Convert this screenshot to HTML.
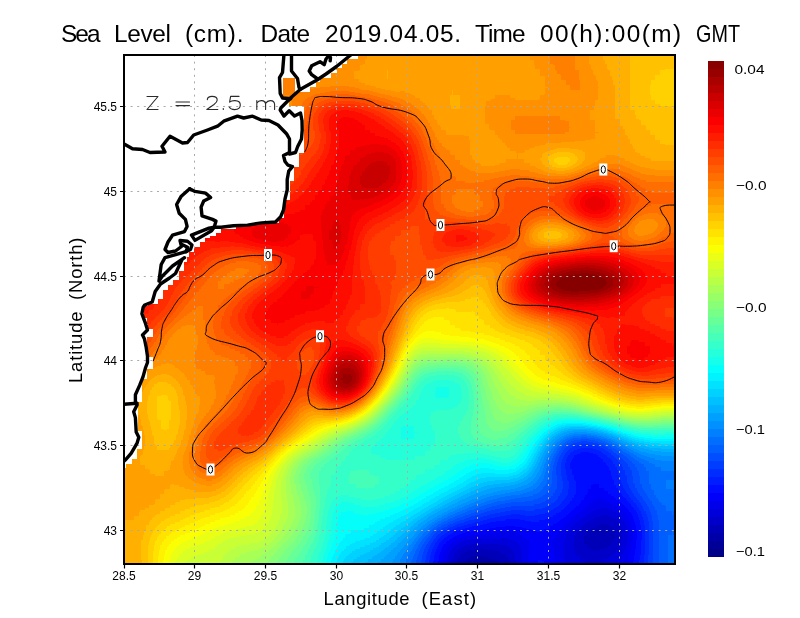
<!DOCTYPE html>
<html>
<head>
<meta charset="utf-8">
<title>Sea Level</title>
<style>
html,body{margin:0;padding:0;background:#fff;}
body{width:800px;height:618px;overflow:hidden;font-family:"Liberation Sans",sans-serif;}
svg{display:block;}
text{font-family:"Liberation Sans",sans-serif;fill:#000;}
.tick{font-size:12px;}
.cbl{font-size:13px;}
.ttl{font-size:24.4px;}
.axl{font-size:18.4px;}
</style>
</head>
<body>
<svg width="800" height="618" viewBox="0 0 800 618">
<defs>
<filter id="jet" filterUnits="userSpaceOnUse" x="100" y="30" width="600" height="560" color-interpolation-filters="sRGB">
<feGaussianBlur stdDeviation="3.5"/>
<feComponentTransfer>
<feFuncR type="discrete" tableValues="0 0 0 0 0 0 0 0 0 0 0 0 0 0 0 0 0 0 0 0 0 0 0 0.016 0.081 0.145 0.21 0.274 0.339 0.403 0.468 0.532 0.597 0.661 0.726 0.79 0.855 0.919 0.984 1 1 1 1 1 1 1 1 1 1 1 1 1 1 1 0.984 0.919 0.855 0.79 0.726 0.661 0.597 0.532"/>
<feFuncG type="discrete" tableValues="0 0 0 0 0 0 0 0 0.048 0.113 0.177 0.242 0.306 0.371 0.435 0.5 0.565 0.629 0.694 0.758 0.823 0.887 0.952 1 1 1 1 1 1 1 1 1 1 1 1 1 1 1 1 0.952 0.887 0.823 0.758 0.694 0.629 0.565 0.5 0.435 0.371 0.306 0.242 0.177 0.113 0.048 0 0 0 0 0 0 0 0"/>
<feFuncB type="discrete" tableValues="0.532 0.597 0.661 0.726 0.79 0.855 0.919 0.984 1 1 1 1 1 1 1 1 1 1 1 1 1 1 1 0.984 0.919 0.855 0.79 0.726 0.661 0.597 0.532 0.468 0.403 0.339 0.274 0.21 0.145 0.081 0.016 0 0 0 0 0 0 0 0 0 0 0 0 0 0 0 0 0 0 0 0 0 0 0"/>
</feComponentTransfer>
</filter>
<clipPath id="plot"><rect x="124" y="55" width="551" height="509"/></clipPath>
<linearGradient id="cb" x1="0" y1="0" x2="0" y2="1">
<stop offset="0" stop-color="#800000"/>
<stop offset="0.125" stop-color="#ff0000"/>
<stop offset="0.375" stop-color="#ffff00"/>
<stop offset="0.5" stop-color="#80ff80"/>
<stop offset="0.625" stop-color="#00ffff"/>
<stop offset="0.875" stop-color="#0000ff"/>
<stop offset="1" stop-color="#000080"/>
</linearGradient>
</defs>
<rect x="0" y="0" width="800" height="618" fill="#fff"/>
<g clip-path="url(#plot)">
<g filter="url(#jet)" shape-rendering="crispEdges">
<path fill="rgb(8,8,8)" d="M475 570h5v5h-5z"/>
<path fill="rgb(9,9,9)" d="M470 565h20v5h-20zM470 570h5v5h-5zM480 570h10v5h-10zM470 575h20v5h-20z"/>
<path fill="rgb(10,10,10)" d="M470 560h20v5h-20zM465 565h5v5h-5zM490 565h5v5h-5zM465 570h5v5h-5zM490 570h5v5h-5zM465 575h5v5h-5zM490 575h5v5h-5z"/>
<path fill="rgb(11,11,11)" d="M475 555h5v5h-5zM465 560h5v5h-5zM490 560h5v5h-5zM495 565h5v5h-5zM495 570h5v5h-5zM495 575h5v5h-5z"/>
<path fill="rgb(12,12,12)" d="M470 555h5v5h-5zM480 555h10v5h-10zM495 560h5v5h-5zM460 565h5v5h-5zM460 570h5v5h-5zM500 570h5v5h-5zM460 575h5v5h-5z"/>
<path fill="rgb(13,13,13)" d="M595 535h10v5h-10zM465 555h5v5h-5zM490 555h10v5h-10zM460 560h5v5h-5zM500 560h5v5h-5zM500 565h5v5h-5zM500 575h5v5h-5z"/>
<path fill="rgb(14,14,14)" d="M595 530h15v5h-15zM590 535h5v5h-5zM605 535h5v5h-5zM590 540h15v5h-15zM470 550h15v5h-15zM460 555h5v5h-5z"/>
<path fill="rgb(15,15,15)" d="M595 525h15v5h-15zM590 530h5v5h-5zM610 530h5v5h-5zM585 535h5v5h-5zM610 535h5v5h-5zM585 540h5v5h-5zM605 540h5v5h-5zM595 545h5v5h-5zM465 550h5v5h-5zM485 550h10v5h-10zM500 555h5v5h-5zM505 560h5v5h-5zM455 565h5v5h-5zM505 565h5v5h-5zM455 570h5v5h-5zM505 570h5v5h-5zM455 575h5v5h-5zM505 575h5v5h-5z"/>
<path fill="rgb(16,16,16)" d="M590 525h5v5h-5zM610 525h5v5h-5zM585 530h5v5h-5zM610 540h5v5h-5zM585 545h10v5h-10zM600 545h10v5h-10zM495 550h5v5h-5zM505 555h5v5h-5zM455 560h5v5h-5z"/>
<path fill="rgb(17,17,17)" d="M600 520h10v5h-10zM580 535h5v5h-5zM615 535h5v5h-5zM580 540h5v5h-5zM475 545h5v5h-5zM460 550h5v5h-5zM500 550h5v5h-5zM590 550h10v5h-10zM455 555h5v5h-5zM510 565h5v5h-5zM510 570h5v5h-5zM510 575h5v5h-5z"/>
<path fill="rgb(18,18,18)" d="M595 520h5v5h-5zM610 520h5v5h-5zM585 525h5v5h-5zM615 525h5v5h-5zM580 530h5v5h-5zM615 530h5v5h-5zM615 540h5v5h-5zM465 545h10v5h-10zM480 545h20v5h-20zM580 545h5v5h-5zM610 545h5v5h-5zM505 550h5v5h-5zM585 550h5v5h-5zM600 550h10v5h-10zM510 560h5v5h-5z"/>
<path fill="rgb(19,19,19)" d="M600 515h10v5h-10zM590 520h5v5h-5zM575 535h5v5h-5zM575 540h5v5h-5zM500 545h5v5h-5zM575 545h5v5h-5zM455 550h5v5h-5zM580 550h5v5h-5zM510 555h5v5h-5zM585 555h20v5h-20zM450 560h5v5h-5zM450 565h5v5h-5zM450 570h5v5h-5zM450 575h5v5h-5z"/>
<path fill="rgb(20,20,20)" d="M595 515h5v5h-5zM610 515h5v5h-5zM585 520h5v5h-5zM615 520h5v5h-5zM580 525h5v5h-5zM575 530h5v5h-5zM620 530h5v5h-5zM620 535h5v5h-5zM460 545h5v5h-5zM505 545h5v5h-5zM615 545h5v5h-5zM510 550h5v5h-5zM575 550h5v5h-5zM610 550h5v5h-5zM450 555h5v5h-5zM580 555h5v5h-5zM605 555h5v5h-5zM585 560h10v5h-10z"/>
<path fill="rgb(21,21,21)" d="M590 515h5v5h-5zM620 525h5v5h-5zM570 535h5v5h-5zM475 540h10v5h-10zM570 540h5v5h-5zM620 540h5v5h-5zM510 545h5v5h-5zM570 545h5v5h-5zM570 550h5v5h-5zM615 550h5v5h-5zM575 555h5v5h-5zM515 560h5v5h-5zM575 560h10v5h-10zM595 560h10v5h-10zM515 565h5v5h-5zM580 565h20v5h-20zM515 570h5v5h-5zM580 570h20v5h-20zM515 575h5v5h-5zM580 575h20v5h-20z"/>
<path fill="rgb(22,22,22)" d="M600 510h10v5h-10zM615 515h5v5h-5zM580 520h5v5h-5zM575 525h5v5h-5zM570 530h5v5h-5zM465 540h10v5h-10zM485 540h25v5h-25zM455 545h5v5h-5zM620 545h5v5h-5zM450 550h5v5h-5zM515 550h5v5h-5zM515 555h5v5h-5zM570 555h5v5h-5zM610 555h5v5h-5zM570 560h5v5h-5zM605 560h5v5h-5zM575 565h5v5h-5zM600 565h5v5h-5zM575 570h5v5h-5zM600 570h5v5h-5zM575 575h5v5h-5zM600 575h5v5h-5z"/>
<path fill="rgb(23,23,23)" d="M595 510h5v5h-5zM610 510h5v5h-5zM585 515h5v5h-5zM620 520h5v5h-5zM565 535h5v5h-5zM460 540h5v5h-5zM510 540h5v5h-5zM565 540h5v5h-5zM515 545h5v5h-5zM565 545h5v5h-5zM565 550h5v5h-5zM565 555h5v5h-5zM615 555h5v5h-5zM610 560h5v5h-5zM445 565h5v5h-5zM570 565h5v5h-5zM605 565h5v5h-5zM445 570h5v5h-5zM570 570h5v5h-5zM605 570h5v5h-5zM445 575h5v5h-5zM570 575h5v5h-5zM605 575h5v5h-5z"/>
<path fill="rgb(24,24,24)" d="M590 510h5v5h-5zM575 520h5v5h-5zM570 525h5v5h-5zM625 530h5v5h-5zM625 535h5v5h-5zM620 550h5v5h-5zM445 555h5v5h-5zM445 560h5v5h-5zM565 560h5v5h-5zM615 560h5v5h-5zM565 565h5v5h-5zM610 565h5v5h-5zM565 570h5v5h-5zM610 570h5v5h-5zM565 575h5v5h-5zM610 575h5v5h-5z"/>
<path fill="rgb(25,25,25)" d="M595 505h15v5h-15zM615 510h5v5h-5zM580 515h5v5h-5zM620 515h5v5h-5zM625 525h5v5h-5zM565 530h5v5h-5zM490 535h20v5h-20zM455 540h5v5h-5zM515 540h5v5h-5zM560 540h5v5h-5zM625 540h5v5h-5zM450 545h5v5h-5zM520 545h5v5h-5zM560 545h5v5h-5zM520 550h5v5h-5zM560 550h5v5h-5zM520 555h5v5h-5zM560 555h5v5h-5zM620 555h5v5h-5zM520 560h5v5h-5zM520 565h5v5h-5zM615 565h5v5h-5zM520 570h5v5h-5zM615 570h5v5h-5zM520 575h5v5h-5zM615 575h5v5h-5z"/>
<path fill="rgb(26,26,26)" d="M590 505h5v5h-5zM610 505h5v5h-5zM585 510h5v5h-5zM570 520h5v5h-5zM625 520h5v5h-5zM565 525h5v5h-5zM470 535h20v5h-20zM510 535h10v5h-10zM560 535h5v5h-5zM520 540h5v5h-5zM625 545h5v5h-5zM445 550h5v5h-5zM560 560h5v5h-5zM620 560h5v5h-5zM560 565h5v5h-5zM560 570h5v5h-5zM560 575h5v5h-5z"/>
<path fill="rgb(27,27,27)" d="M595 500h10v5h-10zM580 510h5v5h-5zM620 510h5v5h-5zM575 515h5v5h-5zM560 530h5v5h-5zM465 535h5v5h-5zM555 535h5v5h-5zM555 540h5v5h-5zM555 545h5v5h-5zM555 550h5v5h-5zM625 550h5v5h-5zM555 555h5v5h-5zM620 565h5v5h-5zM620 570h5v5h-5zM620 575h5v5h-5z"/>
<path fill="rgb(28,28,28)" d="M590 500h5v5h-5zM605 500h5v5h-5zM585 505h5v5h-5zM615 505h5v5h-5zM625 515h5v5h-5zM565 520h5v5h-5zM560 525h5v5h-5zM500 530h15v5h-15zM630 530h5v5h-5zM460 535h5v5h-5zM520 535h5v5h-5zM630 535h5v5h-5zM450 540h5v5h-5zM525 540h5v5h-5zM550 540h5v5h-5zM445 545h5v5h-5zM525 545h5v5h-5zM525 550h5v5h-5zM525 555h5v5h-5zM625 555h5v5h-5zM440 560h5v5h-5zM555 560h5v5h-5zM440 565h5v5h-5zM555 565h5v5h-5zM440 570h5v5h-5zM555 570h5v5h-5zM440 575h5v5h-5zM555 575h5v5h-5z"/>
<path fill="rgb(29,29,29)" d="M595 495h10v5h-10zM610 500h5v5h-5zM575 510h5v5h-5zM570 515h5v5h-5zM630 525h5v5h-5zM490 530h10v5h-10zM515 530h5v5h-5zM555 530h5v5h-5zM525 535h5v5h-5zM550 535h5v5h-5zM530 540h5v5h-5zM630 540h5v5h-5zM550 545h5v5h-5zM630 545h5v5h-5zM550 550h5v5h-5zM440 555h5v5h-5zM525 560h5v5h-5zM625 560h5v5h-5zM525 565h5v5h-5zM625 565h5v5h-5zM525 570h5v5h-5zM625 570h5v5h-5zM525 575h5v5h-5zM625 575h5v5h-5z"/>
<path fill="rgb(30,30,30)" d="M590 495h5v5h-5zM605 495h5v5h-5zM585 500h5v5h-5zM580 505h5v5h-5zM620 505h5v5h-5zM625 510h5v5h-5zM630 520h5v5h-5zM555 525h5v5h-5zM480 530h10v5h-10zM520 530h5v5h-5zM550 530h5v5h-5zM455 535h5v5h-5zM530 535h5v5h-5zM545 535h5v5h-5zM535 540h15v5h-15zM530 545h5v5h-5zM545 545h5v5h-5zM440 550h5v5h-5zM530 550h5v5h-5zM630 550h5v5h-5zM550 555h5v5h-5zM550 560h5v5h-5zM550 565h5v5h-5zM550 570h5v5h-5zM550 575h5v5h-5z"/>
<path fill="rgb(31,31,31)" d="M590 490h15v5h-15zM585 495h5v5h-5zM615 500h5v5h-5zM570 510h5v5h-5zM565 515h5v5h-5zM560 520h5v5h-5zM505 525h10v5h-10zM470 530h10v5h-10zM525 530h10v5h-10zM545 530h5v5h-5zM535 535h10v5h-10zM445 540h5v5h-5zM535 545h10v5h-10zM535 550h5v5h-5zM545 550h5v5h-5zM530 555h5v5h-5zM545 555h5v5h-5zM630 555h5v5h-5zM530 560h5v5h-5z"/>
<path fill="rgb(32,32,32)" d="M590 485h10v5h-10zM605 490h5v5h-5zM610 495h5v5h-5zM580 500h5v5h-5zM575 505h5v5h-5zM630 515h5v5h-5zM555 520h5v5h-5zM495 525h10v5h-10zM515 525h10v5h-10zM550 525h5v5h-5zM465 530h5v5h-5zM535 530h10v5h-10zM450 535h5v5h-5zM440 545h5v5h-5zM540 550h5v5h-5zM535 555h10v5h-10zM545 560h5v5h-5zM630 560h5v5h-5zM530 565h5v5h-5zM545 565h5v5h-5zM630 565h5v5h-5zM530 570h5v5h-5zM630 570h5v5h-5zM530 575h5v5h-5zM545 575h5v5h-5zM630 575h5v5h-5z"/>
<path fill="rgb(33,33,33)" d="M580 460h10v5h-10zM580 465h15v5h-15zM585 470h15v5h-15zM585 475h15v5h-15zM585 480h20v5h-20zM585 485h5v5h-5zM600 485h5v5h-5zM585 490h5v5h-5zM580 495h5v5h-5zM620 500h5v5h-5zM625 505h5v5h-5zM560 515h5v5h-5zM490 525h5v5h-5zM525 525h5v5h-5zM545 525h5v5h-5zM460 530h5v5h-5zM635 530h5v5h-5zM635 535h5v5h-5zM635 540h5v5h-5zM435 560h5v5h-5zM535 560h10v5h-10zM435 565h5v5h-5zM435 570h5v5h-5zM545 570h5v5h-5zM435 575h5v5h-5z"/>
<path fill="rgb(34,34,34)" d="M580 455h10v5h-10zM575 460h5v5h-5zM590 460h5v5h-5zM575 465h5v5h-5zM595 465h5v5h-5zM580 470h5v5h-5zM600 470h5v5h-5zM580 475h5v5h-5zM600 475h5v5h-5zM605 485h5v5h-5zM580 490h5v5h-5zM610 490h5v5h-5zM615 495h5v5h-5zM575 500h5v5h-5zM570 505h5v5h-5zM565 510h5v5h-5zM630 510h5v5h-5zM550 520h5v5h-5zM485 525h5v5h-5zM530 525h15v5h-15zM635 525h5v5h-5zM635 545h5v5h-5zM435 555h5v5h-5zM535 565h10v5h-10zM535 570h10v5h-10zM535 575h10v5h-10z"/>
<path fill="rgb(35,35,35)" d="M575 455h5v5h-5zM590 455h5v5h-5zM595 460h5v5h-5zM600 465h5v5h-5zM575 470h5v5h-5zM605 475h5v5h-5zM580 480h5v5h-5zM605 480h5v5h-5zM580 485h5v5h-5zM555 515h5v5h-5zM505 520h15v5h-15zM545 520h5v5h-5zM635 520h5v5h-5zM480 525h5v5h-5zM455 530h5v5h-5zM445 535h5v5h-5zM440 540h5v5h-5zM435 550h5v5h-5zM635 550h5v5h-5zM635 555h5v5h-5z"/>
<path fill="rgb(36,36,36)" d="M585 450h5v5h-5zM595 455h5v5h-5zM570 460h5v5h-5zM600 460h5v5h-5zM570 465h5v5h-5zM605 470h5v5h-5zM575 475h5v5h-5zM610 485h5v5h-5zM615 490h5v5h-5zM575 495h5v5h-5zM620 495h5v5h-5zM570 500h5v5h-5zM565 505h5v5h-5zM560 510h5v5h-5zM635 515h5v5h-5zM495 520h10v5h-10zM520 520h10v5h-10zM540 520h5v5h-5zM470 525h10v5h-10zM635 560h5v5h-5zM635 565h5v5h-5zM635 570h5v5h-5zM635 575h5v5h-5z"/>
<path fill="rgb(37,37,37)" d="M580 450h5v5h-5zM590 450h5v5h-5zM570 455h5v5h-5zM605 465h5v5h-5zM570 470h5v5h-5zM575 480h5v5h-5zM610 480h5v5h-5zM575 485h5v5h-5zM575 490h5v5h-5zM625 500h5v5h-5zM630 505h5v5h-5zM550 515h5v5h-5zM490 520h5v5h-5zM530 520h10v5h-10zM435 545h5v5h-5z"/>
<path fill="rgb(38,38,38)" d="M575 450h5v5h-5zM600 455h5v5h-5zM605 460h5v5h-5zM610 470h5v5h-5zM570 475h5v5h-5zM610 475h5v5h-5zM615 485h5v5h-5zM570 495h5v5h-5zM555 510h5v5h-5zM635 510h5v5h-5zM545 515h5v5h-5zM485 520h5v5h-5zM465 525h5v5h-5zM450 530h5v5h-5zM640 530h5v5h-5zM640 535h5v5h-5zM430 560h5v5h-5zM430 565h5v5h-5zM430 570h5v5h-5zM430 575h5v5h-5z"/>
<path fill="rgb(39,39,39)" d="M595 450h5v5h-5zM565 460h5v5h-5zM565 465h5v5h-5zM610 465h5v5h-5zM570 480h5v5h-5zM615 480h5v5h-5zM570 490h5v5h-5zM620 490h5v5h-5zM565 500h5v5h-5zM560 505h5v5h-5zM505 515h20v5h-20zM540 515h5v5h-5zM460 525h5v5h-5zM640 525h5v5h-5zM440 535h5v5h-5zM435 540h5v5h-5zM640 540h5v5h-5zM640 545h5v5h-5zM640 550h5v5h-5zM430 555h5v5h-5z"/>
<path fill="rgb(40,40,40)" d="M570 450h5v5h-5zM565 470h5v5h-5zM615 475h5v5h-5zM570 485h5v5h-5zM625 495h5v5h-5zM630 500h5v5h-5zM550 510h5v5h-5zM500 515h5v5h-5zM525 515h15v5h-15zM480 520h5v5h-5zM640 520h5v5h-5zM430 550h5v5h-5zM640 555h5v5h-5zM640 560h5v5h-5zM640 565h5v5h-5zM640 570h5v5h-5zM640 575h5v5h-5z"/>
<path fill="rgb(41,41,41)" d="M580 445h15v5h-15zM600 450h5v5h-5zM565 455h5v5h-5zM605 455h5v5h-5zM610 460h5v5h-5zM615 470h5v5h-5zM565 475h5v5h-5zM620 485h5v5h-5zM565 495h5v5h-5zM560 500h5v5h-5zM555 505h5v5h-5zM635 505h5v5h-5zM545 510h5v5h-5zM495 515h5v5h-5zM640 515h5v5h-5zM475 520h5v5h-5zM455 525h5v5h-5zM445 530h5v5h-5z"/>
<path fill="rgb(42,42,42)" d="M575 445h5v5h-5zM615 465h5v5h-5zM565 480h5v5h-5zM620 480h5v5h-5zM565 490h5v5h-5zM625 490h5v5h-5zM490 515h5v5h-5zM470 520h5v5h-5zM430 545h5v5h-5zM425 565h5v5h-5zM425 570h5v5h-5zM425 575h5v5h-5z"/>
<path fill="rgb(43,43,43)" d="M595 445h5v5h-5zM565 450h5v5h-5zM610 455h5v5h-5zM560 460h5v5h-5zM560 465h5v5h-5zM620 475h5v5h-5zM565 485h5v5h-5zM560 495h5v5h-5zM630 495h5v5h-5zM550 505h5v5h-5zM510 510h15v5h-15zM535 510h10v5h-10zM640 510h5v5h-5zM485 515h5v5h-5zM435 535h5v5h-5zM425 560h5v5h-5z"/>
<path fill="rgb(44,44,44)" d="M570 445h5v5h-5zM605 450h5v5h-5zM615 460h5v5h-5zM560 470h5v5h-5zM620 470h5v5h-5zM625 485h5v5h-5zM555 500h5v5h-5zM635 500h5v5h-5zM505 510h5v5h-5zM525 510h10v5h-10zM465 520h5v5h-5zM645 520h5v5h-5zM450 525h5v5h-5zM645 525h5v5h-5zM440 530h5v5h-5zM645 530h5v5h-5zM645 535h5v5h-5zM645 540h5v5h-5zM645 545h5v5h-5zM645 550h5v5h-5zM425 555h5v5h-5z"/>
<path fill="rgb(45,45,45)" d="M560 455h5v5h-5zM620 465h5v5h-5zM560 475h5v5h-5zM560 490h5v5h-5zM545 505h5v5h-5zM640 505h5v5h-5zM500 510h5v5h-5zM480 515h5v5h-5zM645 515h5v5h-5zM430 540h5v5h-5zM425 550h5v5h-5zM645 555h5v5h-5zM645 560h5v5h-5zM645 565h5v5h-5zM645 570h5v5h-5zM645 575h5v5h-5z"/>
<path fill="rgb(46,46,46)" d="M600 445h5v5h-5zM625 475h5v5h-5zM560 480h5v5h-5zM625 480h5v5h-5zM560 485h5v5h-5zM630 490h5v5h-5zM555 495h5v5h-5zM550 500h5v5h-5zM540 505h5v5h-5zM495 510h5v5h-5zM475 515h5v5h-5zM460 520h5v5h-5z"/>
<path fill="rgb(47,47,47)" d="M580 440h10v5h-10zM610 450h5v5h-5zM615 455h5v5h-5zM620 460h5v5h-5zM625 470h5v5h-5zM635 495h5v5h-5zM640 500h5v5h-5zM535 505h5v5h-5zM490 510h5v5h-5zM645 510h5v5h-5zM445 525h5v5h-5zM425 545h5v5h-5zM420 565h5v5h-5zM420 570h5v5h-5zM420 575h5v5h-5z"/>
<path fill="rgb(48,48,48)" d="M575 440h5v5h-5zM590 440h5v5h-5zM565 445h5v5h-5zM560 450h5v5h-5zM555 465h5v5h-5zM625 465h5v5h-5zM555 470h5v5h-5zM630 485h5v5h-5zM555 490h5v5h-5zM545 500h5v5h-5zM510 505h25v5h-25zM485 510h5v5h-5zM470 515h5v5h-5zM455 520h5v5h-5zM435 530h5v5h-5zM430 535h5v5h-5zM420 560h5v5h-5z"/>
<path fill="rgb(49,49,49)" d="M605 445h5v5h-5zM555 460h5v5h-5zM555 475h5v5h-5zM630 475h5v5h-5zM555 480h5v5h-5zM630 480h5v5h-5zM555 485h5v5h-5zM635 490h5v5h-5zM550 495h5v5h-5zM540 500h5v5h-5zM505 505h5v5h-5zM645 505h5v5h-5zM650 520h5v5h-5zM650 525h5v5h-5zM650 530h5v5h-5zM650 535h5v5h-5zM650 540h5v5h-5zM650 545h5v5h-5zM650 550h5v5h-5zM420 555h5v5h-5zM650 555h5v5h-5zM650 560h5v5h-5zM650 565h5v5h-5zM650 570h5v5h-5zM650 575h5v5h-5z"/>
<path fill="rgb(50,50,50)" d="M570 440h5v5h-5zM595 440h5v5h-5zM620 455h5v5h-5zM625 460h5v5h-5zM630 470h5v5h-5zM640 495h5v5h-5zM500 505h5v5h-5zM480 510h5v5h-5zM465 515h5v5h-5zM650 515h5v5h-5zM440 525h5v5h-5zM425 540h5v5h-5zM420 550h5v5h-5z"/>
<path fill="rgb(51,51,51)" d="M615 450h5v5h-5zM555 455h5v5h-5zM630 465h5v5h-5zM635 485h5v5h-5zM550 490h5v5h-5zM545 495h5v5h-5zM535 500h5v5h-5zM645 500h5v5h-5zM495 505h5v5h-5zM650 510h5v5h-5zM450 520h5v5h-5zM415 565h5v5h-5zM415 570h5v5h-5zM415 575h5v5h-5z"/>
<path fill="rgb(52,52,52)" d="M635 475h5v5h-5zM635 480h5v5h-5zM550 485h5v5h-5zM640 490h5v5h-5zM525 500h10v5h-10zM490 505h5v5h-5zM650 505h5v5h-5zM475 510h5v5h-5zM460 515h5v5h-5zM420 545h5v5h-5zM415 560h5v5h-5z"/>
<path fill="rgb(53,53,53)" d="M600 440h5v5h-5zM560 445h5v5h-5zM610 445h5v5h-5zM630 460h5v5h-5zM550 470h5v5h-5zM635 470h5v5h-5zM550 475h5v5h-5zM550 480h5v5h-5zM545 490h5v5h-5zM540 495h5v5h-5zM645 495h5v5h-5zM510 500h15v5h-15zM655 515h5v5h-5zM655 520h5v5h-5zM655 525h5v5h-5zM430 530h5v5h-5zM655 530h5v5h-5zM655 535h5v5h-5zM655 540h5v5h-5zM655 545h5v5h-5zM655 550h5v5h-5zM415 555h5v5h-5zM655 555h5v5h-5zM655 560h5v5h-5zM655 565h5v5h-5zM655 570h5v5h-5zM655 575h5v5h-5z"/>
<path fill="rgb(54,54,54)" d="M565 440h5v5h-5zM555 450h5v5h-5zM625 455h5v5h-5zM550 465h5v5h-5zM635 465h5v5h-5zM640 485h5v5h-5zM535 495h5v5h-5zM505 500h5v5h-5zM650 500h5v5h-5zM485 505h5v5h-5zM470 510h5v5h-5zM655 510h5v5h-5zM445 520h5v5h-5zM435 525h5v5h-5zM425 535h5v5h-5z"/>
<path fill="rgb(55,55,55)" d="M620 450h5v5h-5zM550 460h5v5h-5zM640 470h5v5h-5zM640 475h5v5h-5zM640 480h5v5h-5zM545 485h5v5h-5zM645 490h5v5h-5zM500 500h5v5h-5zM655 505h5v5h-5zM455 515h5v5h-5zM660 520h5v5h-5zM685 520h5v5h-5zM420 540h5v5h-5zM415 550h5v5h-5zM410 565h5v5h-5zM410 570h5v5h-5zM410 575h5v5h-5z"/>
<path fill="rgb(56,56,56)" d="M580 435h10v5h-10zM635 460h5v5h-5zM640 465h5v5h-5zM645 485h5v5h-5zM540 490h5v5h-5zM530 495h5v5h-5zM650 495h5v5h-5zM495 500h5v5h-5zM480 505h5v5h-5zM465 510h5v5h-5zM660 510h5v5h-5zM685 510h5v5h-5zM660 515h5v5h-5zM680 515h10v5h-10zM680 520h5v5h-5zM660 525h5v5h-5zM680 525h10v5h-10zM660 530h5v5h-5zM685 530h5v5h-5zM660 535h5v5h-5zM685 535h5v5h-5zM660 540h5v5h-5zM685 540h5v5h-5zM660 545h5v5h-5zM685 545h5v5h-5zM660 550h5v5h-5zM685 550h5v5h-5zM660 555h5v5h-5zM685 555h5v5h-5zM410 560h5v5h-5zM660 560h5v5h-5zM685 560h5v5h-5zM660 565h5v5h-5zM685 565h5v5h-5zM660 570h5v5h-5zM685 570h5v5h-5zM660 575h5v5h-5zM685 575h5v5h-5z"/>
<path fill="rgb(57,57,57)" d="M575 435h5v5h-5zM605 440h5v5h-5zM615 445h5v5h-5zM550 455h5v5h-5zM630 455h5v5h-5zM645 470h5v5h-5zM645 475h5v5h-5zM545 480h5v5h-5zM645 480h5v5h-5zM650 490h5v5h-5zM520 495h10v5h-10zM655 500h5v5h-5zM660 505h5v5h-5zM685 505h5v5h-5zM665 510h5v5h-5zM675 510h10v5h-10zM665 515h15v5h-15zM440 520h5v5h-5zM665 520h15v5h-15zM665 525h15v5h-15zM665 530h5v5h-5zM675 530h10v5h-10zM680 535h5v5h-5zM680 540h5v5h-5zM415 545h5v5h-5zM680 545h5v5h-5zM680 550h5v5h-5zM680 555h5v5h-5zM680 560h5v5h-5zM680 565h5v5h-5zM680 570h5v5h-5zM680 575h5v5h-5z"/>
<path fill="rgb(58,58,58)" d="M590 435h5v5h-5zM640 460h5v5h-5zM645 465h5v5h-5zM545 475h5v5h-5zM540 485h5v5h-5zM650 485h5v5h-5zM535 490h5v5h-5zM515 495h5v5h-5zM655 495h5v5h-5zM490 500h5v5h-5zM660 500h5v5h-5zM685 500h5v5h-5zM475 505h5v5h-5zM665 505h20v5h-20zM670 510h5v5h-5zM450 515h5v5h-5zM425 530h5v5h-5zM670 530h5v5h-5zM665 535h15v5h-15zM665 540h15v5h-15zM665 545h15v5h-15zM665 550h15v5h-15zM410 555h5v5h-5zM665 555h15v5h-15zM665 560h15v5h-15zM665 565h15v5h-15zM665 570h15v5h-15zM665 575h15v5h-15z"/>
<path fill="rgb(59,59,59)" d="M570 435h5v5h-5zM560 440h5v5h-5zM555 445h5v5h-5zM625 450h5v5h-5zM545 470h5v5h-5zM650 470h5v5h-5zM650 475h5v5h-5zM650 480h5v5h-5zM655 490h5v5h-5zM510 495h5v5h-5zM665 500h20v5h-20zM460 510h5v5h-5zM430 525h5v5h-5zM420 535h5v5h-5zM405 565h5v5h-5zM405 570h5v5h-5zM405 575h5v5h-5z"/>
<path fill="rgb(60,60,60)" d="M595 435h5v5h-5zM635 455h5v5h-5zM645 460h5v5h-5zM545 465h5v5h-5zM650 465h5v5h-5zM655 470h5v5h-5zM655 475h5v5h-5zM655 480h5v5h-5zM655 485h5v5h-5zM530 490h5v5h-5zM505 495h5v5h-5zM660 495h10v5h-10zM675 495h15v5h-15zM485 500h5v5h-5zM470 505h5v5h-5zM410 550h5v5h-5zM405 560h5v5h-5z"/>
<path fill="rgb(61,61,61)" d="M610 440h5v5h-5zM550 450h5v5h-5zM655 465h5v5h-5zM660 470h30v5h-30zM660 475h30v5h-30zM540 480h5v5h-5zM660 480h5v5h-5zM680 480h10v5h-10zM535 485h5v5h-5zM660 485h5v5h-5zM680 485h10v5h-10zM525 490h5v5h-5zM660 490h30v5h-30zM500 495h5v5h-5zM670 495h5v5h-5zM455 510h5v5h-5zM445 515h5v5h-5zM435 520h5v5h-5zM415 540h5v5h-5zM405 555h5v5h-5z"/>
<path fill="rgb(62,62,62)" d="M565 435h5v5h-5zM620 445h5v5h-5zM630 450h5v5h-5zM640 455h5v5h-5zM545 460h5v5h-5zM650 460h5v5h-5zM660 465h30v5h-30zM665 480h15v5h-15zM665 485h15v5h-15zM495 495h5v5h-5zM480 500h5v5h-5zM465 505h5v5h-5zM410 545h5v5h-5zM400 570h5v5h-5z"/>
<path fill="rgb(63,63,63)" d="M600 435h5v5h-5zM655 460h5v5h-5zM540 475h5v5h-5zM520 490h5v5h-5zM420 530h5v5h-5zM400 560h5v5h-5zM400 565h5v5h-5zM400 575h5v5h-5z"/>
<path fill="rgb(64,64,64)" d="M645 455h5v5h-5zM660 460h30v5h-30zM535 480h5v5h-5zM530 485h5v5h-5zM515 490h5v5h-5zM490 495h5v5h-5zM475 500h5v5h-5zM450 510h5v5h-5zM440 515h5v5h-5zM425 525h5v5h-5zM415 535h5v5h-5zM405 550h5v5h-5z"/>
<path fill="rgb(65,65,65)" d="M555 440h5v5h-5zM615 440h5v5h-5zM545 455h5v5h-5zM540 470h5v5h-5zM510 490h5v5h-5zM485 495h5v5h-5zM460 505h5v5h-5zM430 520h5v5h-5zM410 540h5v5h-5zM400 555h5v5h-5zM395 570h5v5h-5z"/>
<path fill="rgb(66,66,66)" d="M560 435h5v5h-5zM550 445h5v5h-5zM625 445h5v5h-5zM635 450h5v5h-5zM650 455h5v5h-5zM525 485h5v5h-5zM505 490h5v5h-5zM470 500h5v5h-5zM405 545h5v5h-5zM395 560h5v5h-5zM395 565h5v5h-5zM395 575h5v5h-5z"/>
<path fill="rgb(67,67,67)" d="M605 435h5v5h-5zM655 455h5v5h-5zM540 465h5v5h-5zM535 475h5v5h-5zM500 490h5v5h-5zM480 495h5v5h-5zM445 510h5v5h-5zM400 550h5v5h-5z"/>
<path fill="rgb(68,68,68)" d="M575 430h15v5h-15zM545 450h5v5h-5zM640 450h5v5h-5zM660 455h30v5h-30zM530 480h5v5h-5zM520 485h5v5h-5zM495 490h5v5h-5zM455 505h5v5h-5zM435 515h5v5h-5zM420 525h5v5h-5zM415 530h5v5h-5zM395 555h5v5h-5zM390 565h5v5h-5zM390 570h5v5h-5zM390 575h5v5h-5z"/>
<path fill="rgb(69,69,69)" d="M570 430h5v5h-5zM630 445h5v5h-5zM540 460h5v5h-5zM465 500h5v5h-5zM425 520h5v5h-5zM410 535h5v5h-5zM405 540h5v5h-5zM390 560h5v5h-5z"/>
<path fill="rgb(70,70,70)" d="M590 430h5v5h-5zM620 440h5v5h-5zM645 450h5v5h-5zM535 470h5v5h-5zM515 485h5v5h-5zM490 490h5v5h-5zM475 495h5v5h-5zM400 545h5v5h-5zM395 550h5v5h-5zM385 570h5v5h-5z"/>
<path fill="rgb(71,71,71)" d="M610 435h5v5h-5zM550 440h5v5h-5zM650 450h5v5h-5zM525 480h5v5h-5zM510 485h5v5h-5zM485 490h5v5h-5zM460 500h5v5h-5zM450 505h5v5h-5zM440 510h5v5h-5zM430 515h5v5h-5zM390 555h5v5h-5zM385 560h5v5h-5zM385 565h5v5h-5zM385 575h5v5h-5z"/>
<path fill="rgb(72,72,72)" d="M565 430h5v5h-5zM555 435h5v5h-5zM655 450h5v5h-5zM540 455h5v5h-5zM530 475h5v5h-5zM470 495h5v5h-5zM380 565h5v5h-5zM380 570h5v5h-5zM380 575h5v5h-5z"/>
<path fill="rgb(73,73,73)" d="M595 430h5v5h-5zM545 445h5v5h-5zM635 445h5v5h-5zM660 450h10v5h-10zM675 450h15v5h-15zM535 465h5v5h-5zM500 485h10v5h-10zM480 490h5v5h-5zM415 525h5v5h-5zM410 530h5v5h-5zM405 535h5v5h-5zM400 540h5v5h-5zM395 545h5v5h-5zM390 550h5v5h-5zM385 555h5v5h-5zM380 560h5v5h-5z"/>
<path fill="rgb(74,74,74)" d="M625 440h5v5h-5zM670 450h5v5h-5zM520 480h5v5h-5zM495 485h5v5h-5zM465 495h5v5h-5zM455 500h5v5h-5zM445 505h5v5h-5zM435 510h5v5h-5zM420 520h5v5h-5zM375 565h5v5h-5zM375 570h5v5h-5zM375 575h5v5h-5z"/>
<path fill="rgb(75,75,75)" d="M560 430h5v5h-5zM640 445h5v5h-5zM490 485h5v5h-5zM475 490h5v5h-5zM425 515h5v5h-5zM385 550h5v5h-5zM380 555h5v5h-5zM375 560h5v5h-5zM370 565h5v5h-5zM370 570h5v5h-5zM370 575h5v5h-5z"/>
<path fill="rgb(76,76,76)" d="M600 430h5v5h-5zM615 435h5v5h-5zM540 450h5v5h-5zM530 470h5v5h-5zM525 475h5v5h-5zM515 480h5v5h-5zM485 485h5v5h-5zM400 535h5v5h-5zM395 540h5v5h-5zM390 545h5v5h-5zM370 560h5v5h-5zM365 570h5v5h-5z"/>
<path fill="rgb(77,77,77)" d="M645 445h5v5h-5zM535 460h5v5h-5zM470 490h5v5h-5zM460 495h5v5h-5zM450 500h5v5h-5zM440 505h5v5h-5zM430 510h5v5h-5zM415 520h5v5h-5zM410 525h5v5h-5zM405 530h5v5h-5zM375 555h5v5h-5zM365 565h5v5h-5zM365 575h5v5h-5z"/>
<path fill="rgb(78,78,78)" d="M550 435h5v5h-5zM545 440h5v5h-5zM630 440h5v5h-5zM510 480h5v5h-5zM480 485h5v5h-5zM385 545h5v5h-5zM380 550h5v5h-5zM370 555h5v5h-5zM365 560h5v5h-5zM360 565h5v5h-5zM360 570h5v5h-5zM360 575h5v5h-5z"/>
<path fill="rgb(79,79,79)" d="M650 445h10v5h-10zM505 480h5v5h-5zM455 495h5v5h-5zM445 500h5v5h-5zM420 515h5v5h-5zM395 535h5v5h-5zM390 540h5v5h-5zM375 550h5v5h-5zM360 560h5v5h-5zM355 565h5v5h-5zM355 570h5v5h-5zM355 575h5v5h-5z"/>
<path fill="rgb(80,80,80)" d="M555 430h5v5h-5zM605 430h5v5h-5zM660 445h30v5h-30zM535 455h5v5h-5zM530 465h5v5h-5zM520 475h5v5h-5zM495 480h10v5h-10zM475 485h5v5h-5zM465 490h5v5h-5zM435 505h5v5h-5zM405 525h5v5h-5zM400 530h5v5h-5zM380 545h5v5h-5zM365 555h5v5h-5zM355 560h5v5h-5z"/>
<path fill="rgb(81,81,81)" d="M570 425h10v5h-10zM620 435h5v5h-5zM635 440h5v5h-5zM540 445h5v5h-5zM525 470h5v5h-5zM485 480h10v5h-10zM425 510h5v5h-5zM410 520h5v5h-5zM385 540h5v5h-5zM370 550h5v5h-5zM360 555h5v5h-5zM350 565h5v5h-5zM350 570h5v5h-5zM350 575h5v5h-5z"/>
<path fill="rgb(82,82,82)" d="M580 425h5v5h-5zM470 485h5v5h-5zM460 490h5v5h-5zM450 495h5v5h-5zM440 500h5v5h-5zM415 515h5v5h-5zM395 530h5v5h-5zM390 535h5v5h-5zM375 545h5v5h-5zM365 550h5v5h-5zM355 555h5v5h-5zM350 560h5v5h-5z"/>
<path fill="rgb(83,83,83)" d="M565 425h5v5h-5zM585 425h5v5h-5zM530 460h5v5h-5zM515 475h5v5h-5zM480 480h5v5h-5zM430 505h5v5h-5zM400 525h5v5h-5zM380 540h5v5h-5zM345 565h5v5h-5zM345 570h5v5h-5zM345 575h5v5h-5z"/>
<path fill="rgb(84,84,84)" d="M610 430h5v5h-5zM545 435h5v5h-5zM640 440h5v5h-5zM535 450h5v5h-5zM475 480h5v5h-5zM465 485h5v5h-5zM455 490h5v5h-5zM445 495h5v5h-5zM420 510h5v5h-5zM405 520h5v5h-5zM385 535h5v5h-5zM370 545h5v5h-5zM360 550h5v5h-5zM350 555h5v5h-5zM345 560h5v5h-5z"/>
<path fill="rgb(85,85,85)" d="M560 425h5v5h-5zM590 425h5v5h-5zM550 430h5v5h-5zM625 435h5v5h-5zM540 440h5v5h-5zM520 470h5v5h-5zM510 475h5v5h-5zM435 500h5v5h-5zM410 515h5v5h-5zM395 525h5v5h-5zM390 530h5v5h-5zM375 540h5v5h-5zM365 545h5v5h-5zM355 550h5v5h-5zM345 555h5v5h-5zM340 570h5v5h-5z"/>
<path fill="rgb(86,86,86)" d="M645 440h5v5h-5zM525 465h5v5h-5zM485 475h25v5h-25zM470 480h5v5h-5zM425 505h5v5h-5zM400 520h5v5h-5zM380 535h5v5h-5zM360 545h5v5h-5zM350 550h5v5h-5zM340 560h5v5h-5zM340 565h5v5h-5zM340 575h5v5h-5z"/>
<path fill="rgb(87,87,87)" d="M650 440h5v5h-5zM530 455h5v5h-5zM480 475h5v5h-5zM460 485h5v5h-5zM450 490h5v5h-5zM440 495h5v5h-5zM415 510h5v5h-5zM390 525h5v5h-5zM385 530h5v5h-5zM370 540h5v5h-5zM355 545h5v5h-5z"/>
<path fill="rgb(88,88,88)" d="M595 425h5v5h-5zM655 440h35v5h-35zM535 445h5v5h-5zM475 475h5v5h-5zM465 480h5v5h-5zM430 500h5v5h-5zM420 505h5v5h-5zM405 515h5v5h-5zM395 520h5v5h-5zM375 535h5v5h-5zM365 540h5v5h-5zM350 545h5v5h-5zM345 550h5v5h-5zM340 555h5v5h-5zM335 570h5v5h-5z"/>
<path fill="rgb(89,89,89)" d="M555 425h5v5h-5zM615 430h5v5h-5zM630 435h5v5h-5zM515 470h5v5h-5zM455 485h5v5h-5zM445 490h5v5h-5zM435 495h5v5h-5zM410 510h5v5h-5zM385 525h5v5h-5zM380 530h5v5h-5zM360 540h5v5h-5zM335 560h5v5h-5zM335 565h5v5h-5zM335 575h5v5h-5z"/>
<path fill="rgb(90,90,90)" d="M525 460h5v5h-5zM470 475h5v5h-5zM425 500h5v5h-5zM400 515h5v5h-5zM390 520h5v5h-5zM375 530h5v5h-5zM370 535h5v5h-5zM355 540h5v5h-5zM345 545h5v5h-5zM340 550h5v5h-5z"/>
<path fill="rgb(91,91,91)" d="M600 425h5v5h-5zM545 430h5v5h-5zM540 435h5v5h-5zM530 450h5v5h-5zM520 465h5v5h-5zM480 470h15v5h-15zM510 470h5v5h-5zM460 480h5v5h-5zM450 485h5v5h-5zM440 490h5v5h-5zM415 505h5v5h-5zM405 510h5v5h-5zM395 515h5v5h-5zM380 525h5v5h-5zM365 535h5v5h-5zM350 540h5v5h-5zM335 555h5v5h-5z"/>
<path fill="rgb(92,92,92)" d="M635 435h5v5h-5zM535 440h5v5h-5zM475 470h5v5h-5zM495 470h15v5h-15zM465 475h5v5h-5zM430 495h5v5h-5zM420 500h5v5h-5zM385 520h5v5h-5zM375 525h5v5h-5zM370 530h5v5h-5zM355 535h10v5h-10zM345 540h5v5h-5zM340 545h5v5h-5zM335 550h5v5h-5zM330 565h5v5h-5zM330 570h5v5h-5zM330 575h5v5h-5z"/>
<path fill="rgb(93,93,93)" d="M550 425h5v5h-5zM620 430h5v5h-5zM470 470h5v5h-5zM455 480h5v5h-5zM445 485h5v5h-5zM435 490h5v5h-5zM410 505h5v5h-5zM400 510h5v5h-5zM390 515h5v5h-5zM380 520h5v5h-5zM365 530h5v5h-5zM350 535h5v5h-5zM340 540h5v5h-5zM330 560h5v5h-5z"/>
<path fill="rgb(94,94,94)" d="M570 420h5v5h-5zM640 435h5v5h-5zM530 445h5v5h-5zM525 455h5v5h-5zM515 465h5v5h-5zM460 475h5v5h-5zM425 495h5v5h-5zM385 515h5v5h-5zM375 520h5v5h-5zM370 525h5v5h-5zM350 530h15v5h-15zM345 535h5v5h-5zM335 545h5v5h-5zM330 555h5v5h-5z"/>
<path fill="rgb(95,95,95)" d="M565 420h5v5h-5zM575 420h5v5h-5zM605 425h5v5h-5zM645 435h5v5h-5zM520 460h5v5h-5zM475 465h15v5h-15zM465 470h5v5h-5zM450 480h5v5h-5zM440 485h5v5h-5zM430 490h5v5h-5zM415 500h5v5h-5zM405 505h5v5h-5zM395 510h5v5h-5zM380 515h5v5h-5zM345 520h5v5h-5zM370 520h5v5h-5zM345 525h25v5h-25zM345 530h5v5h-5zM340 535h5v5h-5z"/>
<path fill="rgb(96,96,96)" d="M560 420h5v5h-5zM580 420h5v5h-5zM540 430h5v5h-5zM650 435h5v5h-5zM490 465h5v5h-5zM455 475h5v5h-5zM420 495h5v5h-5zM400 505h5v5h-5zM390 510h5v5h-5zM345 515h10v5h-10zM375 515h5v5h-5zM340 520h5v5h-5zM350 520h20v5h-20zM340 525h5v5h-5zM340 530h5v5h-5zM335 540h5v5h-5zM330 550h5v5h-5zM325 570h5v5h-5z"/>
<path fill="rgb(97,97,97)" d="M625 430h5v5h-5zM535 435h5v5h-5zM655 435h35v5h-35zM525 450h5v5h-5zM470 465h5v5h-5zM495 465h5v5h-5zM510 465h5v5h-5zM460 470h5v5h-5zM445 480h5v5h-5zM435 485h5v5h-5zM425 490h5v5h-5zM410 500h5v5h-5zM385 510h5v5h-5zM340 515h5v5h-5zM355 515h5v5h-5zM370 515h5v5h-5zM335 535h5v5h-5zM330 545h5v5h-5zM325 560h5v5h-5zM325 565h5v5h-5zM325 575h5v5h-5z"/>
<path fill="rgb(98,98,98)" d="M555 420h5v5h-5zM585 420h5v5h-5zM545 425h5v5h-5zM530 440h5v5h-5zM465 465h5v5h-5zM500 465h10v5h-10zM450 475h5v5h-5zM440 480h5v5h-5zM415 495h5v5h-5zM405 500h5v5h-5zM395 505h5v5h-5zM340 510h15v5h-15zM380 510h5v5h-5zM335 515h5v5h-5zM360 515h10v5h-10zM335 520h5v5h-5zM335 525h5v5h-5zM335 530h5v5h-5zM325 555h5v5h-5z"/>
<path fill="rgb(99,99,99)" d="M610 425h5v5h-5zM520 455h5v5h-5zM475 460h15v5h-15zM515 460h5v5h-5zM460 465h5v5h-5zM455 470h5v5h-5zM430 485h5v5h-5zM420 490h5v5h-5zM390 505h5v5h-5zM335 510h5v5h-5zM355 510h10v5h-10zM370 510h10v5h-10zM330 540h5v5h-5z"/>
<path fill="rgb(100,100,100)" d="M525 445h5v5h-5zM470 460h5v5h-5zM490 460h5v5h-5zM450 470h5v5h-5zM445 475h5v5h-5zM435 480h5v5h-5zM425 485h5v5h-5zM410 495h5v5h-5zM400 500h5v5h-5zM340 505h15v5h-15zM385 505h5v5h-5zM365 510h5v5h-5zM330 535h5v5h-5zM325 550h5v5h-5z"/>
<path fill="rgb(101,101,101)" d="M435 390h15v5h-15zM550 420h5v5h-5zM590 420h5v5h-5zM630 430h5v5h-5zM465 460h5v5h-5zM455 465h5v5h-5zM440 475h5v5h-5zM430 480h5v5h-5zM415 490h5v5h-5zM405 495h5v5h-5zM395 500h5v5h-5zM335 505h5v5h-5zM355 505h5v5h-5zM380 505h5v5h-5zM330 520h5v5h-5zM330 525h5v5h-5zM330 530h5v5h-5zM325 545h5v5h-5zM320 565h5v5h-5zM320 570h5v5h-5zM320 575h5v5h-5z"/>
<path fill="rgb(102,102,102)" d="M435 385h15v5h-15zM430 390h5v5h-5zM450 390h5v5h-5zM435 395h15v5h-15zM405 420h5v5h-5zM400 425h15v5h-15zM400 430h20v5h-20zM535 430h5v5h-5zM395 435h20v5h-20zM530 435h5v5h-5zM405 440h5v5h-5zM520 450h5v5h-5zM460 460h5v5h-5zM495 460h5v5h-5zM510 460h5v5h-5zM445 470h5v5h-5zM420 485h5v5h-5zM410 490h5v5h-5zM340 500h10v5h-10zM390 500h5v5h-5zM360 505h20v5h-20zM330 515h5v5h-5zM320 560h5v5h-5z"/>
<path fill="rgb(103,103,103)" d="M430 385h5v5h-5zM450 385h5v5h-5zM425 390h5v5h-5zM425 395h10v5h-10zM450 395h5v5h-5zM410 415h5v5h-5zM400 420h5v5h-5zM410 420h10v5h-10zM395 425h5v5h-5zM415 425h5v5h-5zM540 425h5v5h-5zM615 425h5v5h-5zM395 430h5v5h-5zM390 435h5v5h-5zM415 435h5v5h-5zM390 440h15v5h-15zM410 440h10v5h-10zM400 445h5v5h-5zM470 455h15v5h-15zM515 455h5v5h-5zM455 460h5v5h-5zM500 460h10v5h-10zM450 465h5v5h-5zM440 470h5v5h-5zM435 475h5v5h-5zM425 480h5v5h-5zM415 485h5v5h-5zM400 495h5v5h-5zM335 500h5v5h-5zM350 500h5v5h-5zM385 500h5v5h-5zM330 510h5v5h-5zM325 540h5v5h-5zM320 555h5v5h-5z"/>
<path fill="rgb(104,104,104)" d="M435 380h15v5h-15zM425 385h5v5h-5zM455 385h5v5h-5zM455 390h5v5h-5zM455 395h5v5h-5zM425 400h30v5h-30zM405 415h5v5h-5zM415 415h5v5h-5zM420 420h5v5h-5zM595 420h5v5h-5zM420 425h5v5h-5zM390 430h5v5h-5zM420 430h5v5h-5zM635 430h5v5h-5zM420 435h5v5h-5zM385 440h5v5h-5zM420 440h5v5h-5zM525 440h5v5h-5zM385 445h15v5h-15zM405 445h15v5h-15zM465 455h5v5h-5zM485 455h5v5h-5zM450 460h5v5h-5zM445 465h5v5h-5zM430 475h5v5h-5zM420 480h5v5h-5zM405 490h5v5h-5zM395 495h5v5h-5zM355 500h5v5h-5zM380 500h5v5h-5zM330 505h5v5h-5zM325 535h5v5h-5zM320 550h5v5h-5z"/>
<path fill="rgb(105,105,105)" d="M430 380h5v5h-5zM450 380h5v5h-5zM420 390h5v5h-5zM420 395h5v5h-5zM420 400h5v5h-5zM455 400h5v5h-5zM415 405h20v5h-20zM405 410h20v5h-20zM400 415h5v5h-5zM420 415h5v5h-5zM395 420h5v5h-5zM545 420h5v5h-5zM390 425h5v5h-5zM425 425h5v5h-5zM425 430h5v5h-5zM640 430h5v5h-5zM385 435h5v5h-5zM425 435h5v5h-5zM380 440h5v5h-5zM425 440h5v5h-5zM375 445h10v5h-10zM420 445h5v5h-5zM520 445h5v5h-5zM380 450h35v5h-35zM455 455h10v5h-10zM490 455h5v5h-5zM440 465h5v5h-5zM435 470h5v5h-5zM425 475h5v5h-5zM415 480h5v5h-5zM410 485h5v5h-5zM400 490h5v5h-5zM340 495h10v5h-10zM390 495h5v5h-5zM360 500h20v5h-20zM325 525h5v5h-5zM325 530h5v5h-5zM315 565h5v5h-5zM315 570h5v5h-5zM315 575h5v5h-5z"/>
<path fill="rgb(106,106,106)" d="M455 380h5v5h-5zM460 390h5v5h-5zM460 395h5v5h-5zM415 400h5v5h-5zM410 405h5v5h-5zM435 405h20v5h-20zM425 410h5v5h-5zM425 415h5v5h-5zM425 420h5v5h-5zM385 430h5v5h-5zM430 430h5v5h-5zM645 430h5v5h-5zM660 430h30v5h-30zM380 435h5v5h-5zM430 435h5v5h-5zM375 440h5v5h-5zM430 440h5v5h-5zM370 445h5v5h-5zM425 445h5v5h-5zM370 450h10v5h-10zM415 450h10v5h-10zM515 450h5v5h-5zM380 455h35v5h-35zM450 455h5v5h-5zM495 455h5v5h-5zM510 455h5v5h-5zM440 460h10v5h-10zM435 465h5v5h-5zM425 470h10v5h-10zM415 475h10v5h-10zM410 480h5v5h-5zM405 485h5v5h-5zM395 490h5v5h-5zM335 495h5v5h-5zM350 495h5v5h-5zM385 495h5v5h-5zM330 500h5v5h-5zM325 515h5v5h-5zM325 520h5v5h-5zM320 545h5v5h-5zM315 560h5v5h-5z"/>
<path fill="rgb(107,107,107)" d="M425 380h5v5h-5zM420 385h5v5h-5zM460 385h5v5h-5zM415 395h5v5h-5zM410 400h5v5h-5zM460 400h5v5h-5zM455 405h5v5h-5zM400 410h5v5h-5zM430 410h20v5h-20zM395 415h5v5h-5zM430 415h5v5h-5zM560 415h15v5h-15zM390 420h5v5h-5zM430 420h5v5h-5zM600 420h5v5h-5zM430 425h5v5h-5zM535 425h5v5h-5zM620 425h5v5h-5zM435 430h5v5h-5zM530 430h5v5h-5zM650 430h10v5h-10zM435 435h5v5h-5zM525 435h5v5h-5zM370 440h5v5h-5zM435 440h5v5h-5zM365 445h5v5h-5zM430 445h10v5h-10zM365 450h5v5h-5zM425 450h10v5h-10zM450 450h30v5h-30zM370 455h10v5h-10zM415 455h15v5h-15zM440 455h10v5h-10zM500 455h10v5h-10zM385 460h40v5h-40zM430 460h10v5h-10zM420 465h15v5h-15zM415 470h10v5h-10zM410 475h5v5h-5zM405 480h5v5h-5zM400 485h5v5h-5zM390 490h5v5h-5zM355 495h5v5h-5zM375 495h10v5h-10zM325 510h5v5h-5zM320 540h5v5h-5zM315 555h5v5h-5z"/>
<path fill="rgb(108,108,108)" d="M440 375h10v5h-10zM415 390h5v5h-5zM405 405h5v5h-5zM460 405h5v5h-5zM450 410h10v5h-10zM435 415h10v5h-10zM555 415h5v5h-5zM435 420h5v5h-5zM385 425h5v5h-5zM435 425h5v5h-5zM380 430h5v5h-5zM440 430h5v5h-5zM375 435h5v5h-5zM440 435h5v5h-5zM440 440h5v5h-5zM520 440h5v5h-5zM440 445h15v5h-15zM360 450h5v5h-5zM435 450h15v5h-15zM480 450h5v5h-5zM365 455h5v5h-5zM430 455h10v5h-10zM375 460h10v5h-10zM425 460h5v5h-5zM385 465h35v5h-35zM400 470h15v5h-15zM400 475h10v5h-10zM400 480h5v5h-5zM395 485h5v5h-5zM335 490h15v5h-15zM385 490h5v5h-5zM330 495h5v5h-5zM360 495h15v5h-15zM325 505h5v5h-5zM315 550h5v5h-5z"/>
<path fill="rgb(109,109,109)" d="M430 375h10v5h-10zM450 375h5v5h-5zM420 380h5v5h-5zM460 380h5v5h-5zM410 395h5v5h-5zM445 415h10v5h-10zM575 415h5v5h-5zM440 420h10v5h-10zM540 420h5v5h-5zM440 425h10v5h-10zM445 430h5v5h-5zM445 435h5v5h-5zM365 440h5v5h-5zM445 440h10v5h-10zM360 445h5v5h-5zM455 445h10v5h-10zM515 445h5v5h-5zM355 450h5v5h-5zM485 450h5v5h-5zM510 450h5v5h-5zM355 455h10v5h-10zM365 460h10v5h-10zM375 465h10v5h-10zM385 470h15v5h-15zM390 475h10v5h-10zM390 480h10v5h-10zM390 485h5v5h-5zM330 490h5v5h-5zM350 490h5v5h-5zM380 490h5v5h-5zM325 500h5v5h-5zM320 535h5v5h-5zM310 565h5v5h-5zM310 570h5v5h-5zM310 575h5v5h-5z"/>
<path fill="rgb(110,110,110)" d="M455 375h5v5h-5zM415 385h5v5h-5zM465 390h5v5h-5zM465 395h5v5h-5zM405 400h5v5h-5zM465 400h5v5h-5zM400 405h5v5h-5zM395 410h5v5h-5zM460 410h5v5h-5zM390 415h5v5h-5zM455 415h5v5h-5zM550 415h5v5h-5zM450 420h5v5h-5zM450 425h5v5h-5zM450 430h5v5h-5zM370 435h5v5h-5zM450 435h5v5h-5zM455 440h5v5h-5zM355 445h5v5h-5zM465 445h5v5h-5zM350 450h5v5h-5zM490 450h5v5h-5zM350 455h5v5h-5zM350 460h15v5h-15zM370 465h5v5h-5zM380 470h5v5h-5zM385 475h5v5h-5zM385 480h5v5h-5zM335 485h15v5h-15zM385 485h5v5h-5zM355 490h10v5h-10zM370 490h10v5h-10zM325 495h5v5h-5zM320 525h5v5h-5zM320 530h5v5h-5zM315 545h5v5h-5zM310 560h5v5h-5z"/>
<path fill="rgb(111,111,111)" d="M425 375h5v5h-5zM465 385h5v5h-5zM465 405h5v5h-5zM460 415h5v5h-5zM580 415h5v5h-5zM385 420h5v5h-5zM455 420h5v5h-5zM605 420h5v5h-5zM380 425h5v5h-5zM455 425h5v5h-5zM625 425h5v5h-5zM375 430h5v5h-5zM455 430h5v5h-5zM525 430h5v5h-5zM455 435h5v5h-5zM520 435h5v5h-5zM360 440h5v5h-5zM460 440h5v5h-5zM470 445h10v5h-10zM495 450h15v5h-15zM345 455h5v5h-5zM340 460h10v5h-10zM335 465h35v5h-35zM335 470h15v5h-15zM370 470h10v5h-10zM330 475h20v5h-20zM380 475h5v5h-5zM330 480h20v5h-20zM380 480h5v5h-5zM330 485h5v5h-5zM350 485h5v5h-5zM375 485h10v5h-10zM325 490h5v5h-5zM365 490h5v5h-5zM320 515h5v5h-5zM320 520h5v5h-5zM310 555h5v5h-5z"/>
<path fill="rgb(112,112,112)" d="M460 375h5v5h-5zM410 390h5v5h-5zM465 410h5v5h-5zM460 420h5v5h-5zM530 425h5v5h-5zM365 435h5v5h-5zM460 435h5v5h-5zM465 440h5v5h-5zM515 440h5v5h-5zM350 445h5v5h-5zM480 445h5v5h-5zM510 445h5v5h-5zM345 450h5v5h-5zM340 455h5v5h-5zM335 460h5v5h-5zM330 465h5v5h-5zM325 470h10v5h-10zM350 470h20v5h-20zM325 475h5v5h-5zM350 475h5v5h-5zM370 475h10v5h-10zM325 480h5v5h-5zM350 480h5v5h-5zM375 480h5v5h-5zM325 485h5v5h-5zM355 485h20v5h-20zM320 510h5v5h-5zM315 540h5v5h-5zM310 550h5v5h-5zM305 565h5v5h-5zM305 570h5v5h-5zM305 575h5v5h-5z"/>
<path fill="rgb(113,113,113)" d="M445 370h5v5h-5zM420 375h5v5h-5zM415 380h5v5h-5zM465 380h5v5h-5zM405 395h5v5h-5zM465 415h5v5h-5zM545 415h5v5h-5zM535 420h5v5h-5zM460 425h5v5h-5zM460 430h5v5h-5zM355 440h5v5h-5zM470 440h5v5h-5zM485 445h5v5h-5zM330 460h5v5h-5zM325 465h5v5h-5zM355 475h15v5h-15zM355 480h20v5h-20zM320 500h5v5h-5zM320 505h5v5h-5zM315 535h5v5h-5zM305 560h5v5h-5z"/>
<path fill="rgb(114,114,114)" d="M435 370h10v5h-10zM450 370h10v5h-10zM470 395h5v5h-5zM400 400h5v5h-5zM470 400h5v5h-5zM395 405h5v5h-5zM470 405h5v5h-5zM390 410h5v5h-5zM585 415h5v5h-5zM465 420h5v5h-5zM610 420h5v5h-5zM465 425h5v5h-5zM630 425h5v5h-5zM370 430h5v5h-5zM465 430h5v5h-5zM465 435h5v5h-5zM345 445h5v5h-5zM490 445h20v5h-20zM340 450h5v5h-5zM335 455h5v5h-5zM320 470h5v5h-5zM320 475h5v5h-5zM320 480h5v5h-5zM320 485h5v5h-5zM320 490h5v5h-5zM320 495h5v5h-5zM315 530h5v5h-5zM310 545h5v5h-5zM305 555h5v5h-5z"/>
<path fill="rgb(115,115,115)" d="M430 370h5v5h-5zM465 375h5v5h-5zM410 385h5v5h-5zM470 390h5v5h-5zM470 410h5v5h-5zM385 415h5v5h-5zM380 420h5v5h-5zM375 425h5v5h-5zM520 430h5v5h-5zM360 435h5v5h-5zM470 435h5v5h-5zM515 435h5v5h-5zM350 440h5v5h-5zM475 440h5v5h-5zM510 440h5v5h-5zM325 460h5v5h-5zM320 465h5v5h-5zM315 525h5v5h-5zM305 550h5v5h-5zM300 565h5v5h-5zM300 570h5v5h-5zM300 575h5v5h-5z"/>
<path fill="rgb(116,116,116)" d="M425 370h5v5h-5zM460 370h5v5h-5zM470 385h5v5h-5zM470 415h5v5h-5zM540 415h5v5h-5zM470 420h5v5h-5zM525 425h5v5h-5zM635 425h5v5h-5zM665 425h20v5h-20zM470 430h5v5h-5zM480 440h5v5h-5zM505 440h5v5h-5zM335 450h5v5h-5zM330 455h5v5h-5zM315 470h5v5h-5zM315 475h5v5h-5zM315 480h5v5h-5zM315 520h5v5h-5zM310 540h5v5h-5zM300 560h5v5h-5z"/>
<path fill="rgb(117,117,117)" d="M415 375h5v5h-5zM470 380h5v5h-5zM405 390h5v5h-5zM560 410h5v5h-5zM590 415h5v5h-5zM530 420h5v5h-5zM470 425h5v5h-5zM640 425h5v5h-5zM650 425h15v5h-15zM685 425h5v5h-5zM475 435h5v5h-5zM510 435h5v5h-5zM485 440h5v5h-5zM500 440h5v5h-5zM340 445h5v5h-5zM320 460h5v5h-5zM315 465h5v5h-5zM315 485h5v5h-5zM315 490h5v5h-5zM315 510h5v5h-5zM315 515h5v5h-5zM310 535h5v5h-5zM305 545h5v5h-5zM300 555h5v5h-5zM295 565h5v5h-5zM295 570h5v5h-5zM295 575h5v5h-5z"/>
<path fill="rgb(118,118,118)" d="M420 370h5v5h-5zM410 380h5v5h-5zM400 395h5v5h-5zM475 400h5v5h-5zM475 405h5v5h-5zM475 410h5v5h-5zM555 410h5v5h-5zM565 410h5v5h-5zM615 420h5v5h-5zM645 425h5v5h-5zM365 430h5v5h-5zM515 430h5v5h-5zM355 435h5v5h-5zM345 440h5v5h-5zM490 440h10v5h-10zM325 455h5v5h-5zM310 470h5v5h-5zM310 475h5v5h-5zM315 495h5v5h-5zM315 500h5v5h-5zM315 505h5v5h-5zM300 550h5v5h-5zM295 560h5v5h-5z"/>
<path fill="rgb(119,119,119)" d="M465 370h5v5h-5zM470 375h5v5h-5zM475 395h5v5h-5zM395 400h5v5h-5zM390 405h5v5h-5zM550 410h5v5h-5zM475 415h5v5h-5zM535 415h5v5h-5zM475 420h5v5h-5zM475 425h5v5h-5zM520 425h5v5h-5zM475 430h5v5h-5zM480 435h5v5h-5zM505 435h5v5h-5zM330 450h5v5h-5zM315 460h5v5h-5zM310 465h5v5h-5zM310 480h5v5h-5zM310 530h5v5h-5zM305 540h5v5h-5zM295 555h5v5h-5zM290 570h5v5h-5z"/>
<path fill="rgb(120,120,120)" d="M435 365h25v5h-25zM475 390h5v5h-5zM385 410h5v5h-5zM570 410h5v5h-5zM595 415h5v5h-5zM525 420h5v5h-5zM370 425h5v5h-5zM480 430h5v5h-5zM510 430h5v5h-5zM485 435h5v5h-5zM500 435h5v5h-5zM335 445h5v5h-5zM310 485h5v5h-5zM310 525h5v5h-5zM300 545h5v5h-5zM290 560h5v5h-5zM290 565h5v5h-5zM290 575h5v5h-5z"/>
<path fill="rgb(121,121,121)" d="M430 365h5v5h-5zM460 365h5v5h-5zM405 385h5v5h-5zM475 385h5v5h-5zM545 410h5v5h-5zM380 415h5v5h-5zM375 420h5v5h-5zM480 425h5v5h-5zM515 425h5v5h-5zM360 430h5v5h-5zM350 435h5v5h-5zM490 435h10v5h-10zM320 455h5v5h-5zM305 470h5v5h-5zM305 475h5v5h-5zM310 490h5v5h-5zM310 520h5v5h-5zM305 535h5v5h-5zM295 550h5v5h-5zM290 555h5v5h-5z"/>
<path fill="rgb(122,122,122)" d="M425 365h5v5h-5zM415 370h5v5h-5zM470 370h5v5h-5zM475 380h5v5h-5zM480 405h5v5h-5zM480 410h5v5h-5zM575 410h5v5h-5zM480 415h5v5h-5zM530 415h5v5h-5zM480 420h5v5h-5zM620 420h5v5h-5zM485 430h5v5h-5zM505 430h5v5h-5zM340 440h5v5h-5zM325 450h5v5h-5zM310 460h5v5h-5zM305 480h5v5h-5zM310 495h5v5h-5zM310 500h5v5h-5zM310 505h5v5h-5zM310 510h5v5h-5zM310 515h5v5h-5zM300 540h5v5h-5zM285 560h5v5h-5zM285 565h5v5h-5zM285 570h5v5h-5zM285 575h5v5h-5z"/>
<path fill="rgb(123,123,123)" d="M465 365h5v5h-5zM410 375h5v5h-5zM400 390h5v5h-5zM480 400h5v5h-5zM540 410h5v5h-5zM600 415h5v5h-5zM520 420h5v5h-5zM485 425h5v5h-5zM510 425h5v5h-5zM490 430h15v5h-15zM305 465h5v5h-5zM305 485h5v5h-5zM305 530h5v5h-5zM295 545h5v5h-5zM290 550h5v5h-5z"/>
<path fill="rgb(124,124,124)" d="M420 365h5v5h-5zM475 375h5v5h-5zM480 395h5v5h-5zM485 415h5v5h-5zM485 420h5v5h-5zM330 445h5v5h-5zM315 455h5v5h-5zM305 490h5v5h-5zM305 525h5v5h-5zM300 535h5v5h-5zM285 555h5v5h-5zM280 565h5v5h-5zM280 570h5v5h-5zM280 575h5v5h-5z"/>
<path fill="rgb(125,125,125)" d="M405 380h5v5h-5zM480 390h5v5h-5zM395 395h5v5h-5zM485 410h5v5h-5zM535 410h5v5h-5zM580 410h5v5h-5zM525 415h5v5h-5zM515 420h5v5h-5zM625 420h5v5h-5zM365 425h5v5h-5zM490 425h20v5h-20zM355 430h5v5h-5zM345 435h5v5h-5zM335 440h5v5h-5zM300 470h5v5h-5zM300 475h5v5h-5zM300 480h5v5h-5zM305 495h5v5h-5zM295 540h5v5h-5zM290 545h5v5h-5zM280 560h5v5h-5z"/>
<path fill="rgb(126,126,126)" d="M470 365h5v5h-5zM475 370h5v5h-5zM480 385h5v5h-5zM390 400h5v5h-5zM385 405h5v5h-5zM485 405h5v5h-5zM605 415h5v5h-5zM490 420h5v5h-5zM665 420h15v5h-15zM320 450h5v5h-5zM305 460h5v5h-5zM300 485h5v5h-5zM305 500h5v5h-5zM305 515h5v5h-5zM305 520h5v5h-5zM300 530h5v5h-5zM285 550h5v5h-5zM280 555h5v5h-5zM275 565h5v5h-5zM275 570h5v5h-5zM275 575h5v5h-5z"/>
<path fill="rgb(127,127,127)" d="M440 360h20v5h-20zM415 365h5v5h-5zM410 370h5v5h-5zM480 380h5v5h-5zM485 400h5v5h-5zM550 405h15v5h-15zM380 410h5v5h-5zM530 410h5v5h-5zM490 415h5v5h-5zM520 415h5v5h-5zM370 420h5v5h-5zM495 420h5v5h-5zM510 420h5v5h-5zM630 420h5v5h-5zM660 420h5v5h-5zM680 420h10v5h-10zM310 455h5v5h-5zM300 465h5v5h-5zM305 505h5v5h-5zM305 510h5v5h-5zM295 535h5v5h-5zM275 560h5v5h-5z"/>
<path fill="rgb(128,128,128)" d="M425 360h15v5h-15zM460 360h5v5h-5zM480 375h5v5h-5zM400 385h5v5h-5zM485 395h5v5h-5zM545 405h5v5h-5zM490 410h5v5h-5zM585 410h5v5h-5zM375 415h5v5h-5zM500 420h10v5h-10zM655 420h5v5h-5zM340 435h5v5h-5zM325 445h5v5h-5zM300 490h5v5h-5zM300 525h5v5h-5zM290 540h5v5h-5zM285 545h5v5h-5zM280 550h5v5h-5zM275 555h5v5h-5zM270 565h5v5h-5zM270 570h5v5h-5zM270 575h5v5h-5z"/>
<path fill="rgb(129,129,129)" d="M465 360h5v5h-5zM485 390h5v5h-5zM490 405h5v5h-5zM565 405h5v5h-5zM525 410h5v5h-5zM495 415h5v5h-5zM515 415h5v5h-5zM610 415h5v5h-5zM635 420h5v5h-5zM645 420h10v5h-10zM350 430h5v5h-5zM295 470h5v5h-5zM295 475h5v5h-5zM295 480h5v5h-5zM300 495h5v5h-5zM300 520h5v5h-5zM295 530h5v5h-5zM270 560h5v5h-5z"/>
<path fill="rgb(130,130,130)" d="M420 360h5v5h-5zM475 365h5v5h-5zM480 370h5v5h-5zM405 375h5v5h-5zM485 385h5v5h-5zM490 400h5v5h-5zM540 405h5v5h-5zM570 405h5v5h-5zM495 410h5v5h-5zM500 415h15v5h-15zM640 420h5v5h-5zM360 425h5v5h-5zM330 440h5v5h-5zM315 450h5v5h-5zM300 460h5v5h-5zM295 485h5v5h-5zM300 500h5v5h-5zM300 515h5v5h-5zM290 535h5v5h-5zM285 540h5v5h-5zM280 545h5v5h-5zM265 565h5v5h-5zM265 570h5v5h-5zM265 575h5v5h-5z"/>
<path fill="rgb(131,131,131)" d="M470 360h5v5h-5zM485 380h5v5h-5zM395 390h5v5h-5zM490 395h5v5h-5zM495 405h5v5h-5zM535 405h5v5h-5zM500 410h5v5h-5zM520 410h5v5h-5zM590 410h5v5h-5zM305 455h5v5h-5zM295 465h5v5h-5zM295 490h5v5h-5zM300 505h5v5h-5zM300 510h5v5h-5zM295 525h5v5h-5zM275 550h5v5h-5zM270 555h5v5h-5zM265 560h5v5h-5zM260 570h5v5h-5z"/>
<path fill="rgb(132,132,132)" d="M410 365h5v5h-5zM490 390h5v5h-5zM530 405h5v5h-5zM505 410h5v5h-5zM515 410h5v5h-5zM320 445h5v5h-5zM295 495h5v5h-5zM290 530h5v5h-5zM260 565h5v5h-5zM260 575h5v5h-5z"/>
<path fill="rgb(133,133,133)" d="M415 360h5v5h-5zM480 365h5v5h-5zM485 375h5v5h-5zM390 395h5v5h-5zM495 400h5v5h-5zM500 405h5v5h-5zM575 405h5v5h-5zM510 410h5v5h-5zM615 415h5v5h-5zM345 430h5v5h-5zM335 435h5v5h-5zM290 475h5v5h-5zM290 480h5v5h-5zM295 500h5v5h-5zM295 520h5v5h-5zM285 535h5v5h-5zM280 540h5v5h-5zM275 545h5v5h-5zM270 550h5v5h-5zM265 555h5v5h-5zM260 560h5v5h-5zM255 565h5v5h-5zM255 570h5v5h-5zM255 575h5v5h-5z"/>
<path fill="rgb(134,134,134)" d="M445 355h15v5h-15zM475 360h5v5h-5zM485 370h5v5h-5zM400 380h5v5h-5zM490 385h5v5h-5zM495 395h5v5h-5zM385 400h5v5h-5zM505 405h5v5h-5zM525 405h5v5h-5zM595 410h5v5h-5zM365 420h5v5h-5zM325 440h5v5h-5zM310 450h5v5h-5zM290 470h5v5h-5zM290 485h5v5h-5zM295 505h5v5h-5zM295 510h5v5h-5zM295 515h5v5h-5zM290 525h5v5h-5zM260 555h5v5h-5zM255 560h5v5h-5zM250 565h5v5h-5zM250 570h5v5h-5zM250 575h5v5h-5z"/>
<path fill="rgb(135,135,135)" d="M425 355h20v5h-20zM460 355h5v5h-5zM405 370h5v5h-5zM490 380h5v5h-5zM495 390h5v5h-5zM500 400h5v5h-5zM380 405h5v5h-5zM510 405h15v5h-15zM355 425h5v5h-5zM300 455h5v5h-5zM295 460h5v5h-5zM290 490h5v5h-5zM285 530h5v5h-5zM265 550h5v5h-5zM250 560h5v5h-5zM245 565h5v5h-5zM245 570h5v5h-5zM245 575h5v5h-5z"/>
<path fill="rgb(136,136,136)" d="M420 355h5v5h-5zM465 355h5v5h-5zM490 375h5v5h-5zM495 385h5v5h-5zM500 395h5v5h-5zM505 400h5v5h-5zM545 400h15v5h-15zM580 405h5v5h-5zM375 410h5v5h-5zM370 415h5v5h-5zM620 415h5v5h-5zM290 465h5v5h-5zM290 495h5v5h-5zM290 520h5v5h-5zM280 535h5v5h-5zM275 540h5v5h-5zM270 545h5v5h-5zM250 555h10v5h-10zM245 560h5v5h-5zM240 565h5v5h-5zM240 570h5v5h-5zM240 575h5v5h-5z"/>
<path fill="rgb(137,137,137)" d="M470 355h5v5h-5zM480 360h5v5h-5zM485 365h5v5h-5zM395 385h5v5h-5zM500 390h5v5h-5zM510 400h5v5h-5zM535 400h10v5h-10zM560 400h5v5h-5zM600 410h5v5h-5zM660 415h30v5h-30zM340 430h5v5h-5zM330 435h5v5h-5zM315 445h5v5h-5zM285 480h5v5h-5zM290 500h5v5h-5zM290 505h5v5h-5zM290 510h5v5h-5zM290 515h5v5h-5zM285 525h5v5h-5zM260 550h5v5h-5zM245 555h5v5h-5zM240 560h5v5h-5zM235 565h5v5h-5zM235 570h5v5h-5zM235 575h5v5h-5z"/>
<path fill="rgb(138,138,138)" d="M415 355h5v5h-5zM410 360h5v5h-5zM490 370h5v5h-5zM495 380h5v5h-5zM505 395h5v5h-5zM515 400h20v5h-20zM565 400h5v5h-5zM625 415h5v5h-5zM655 415h5v5h-5zM305 450h5v5h-5zM285 475h5v5h-5zM285 485h5v5h-5zM285 490h5v5h-5zM285 520h5v5h-5zM280 530h5v5h-5zM275 535h5v5h-5zM265 545h5v5h-5zM255 550h5v5h-5zM240 555h5v5h-5zM235 560h5v5h-5z"/>
<path fill="rgb(139,139,139)" d="M475 355h5v5h-5zM400 375h5v5h-5zM495 375h5v5h-5zM500 385h5v5h-5zM505 390h5v5h-5zM510 395h5v5h-5zM585 405h5v5h-5zM320 440h5v5h-5zM285 470h5v5h-5zM285 495h5v5h-5zM270 540h5v5h-5zM245 550h10v5h-10zM235 555h5v5h-5zM230 560h5v5h-5zM230 565h5v5h-5zM230 570h5v5h-5zM230 575h5v5h-5z"/>
<path fill="rgb(140,140,140)" d="M485 360h5v5h-5zM405 365h5v5h-5zM490 365h5v5h-5zM500 380h5v5h-5zM390 390h5v5h-5zM515 395h5v5h-5zM570 400h5v5h-5zM605 410h5v5h-5zM630 415h5v5h-5zM650 415h5v5h-5zM360 420h5v5h-5zM350 425h5v5h-5zM295 455h5v5h-5zM290 460h5v5h-5zM285 500h5v5h-5zM285 505h5v5h-5zM285 510h5v5h-5zM285 515h5v5h-5zM280 525h5v5h-5zM260 545h5v5h-5zM240 550h5v5h-5zM230 555h5v5h-5zM225 565h5v5h-5zM225 570h5v5h-5zM225 575h5v5h-5z"/>
<path fill="rgb(141,141,141)" d="M425 350h5v5h-5zM495 370h5v5h-5zM505 385h5v5h-5zM510 390h5v5h-5zM520 395h5v5h-5zM635 415h5v5h-5zM645 415h5v5h-5zM310 445h5v5h-5zM280 520h5v5h-5zM275 530h5v5h-5zM270 535h5v5h-5zM265 540h5v5h-5zM250 545h10v5h-10zM235 550h5v5h-5zM225 560h5v5h-5z"/>
<path fill="rgb(142,142,142)" d="M420 350h5v5h-5zM430 350h35v5h-35zM480 355h5v5h-5zM500 375h5v5h-5zM515 390h5v5h-5zM385 395h5v5h-5zM525 395h5v5h-5zM575 400h5v5h-5zM590 405h5v5h-5zM640 415h5v5h-5zM335 430h5v5h-5zM325 435h5v5h-5zM300 450h5v5h-5zM285 465h5v5h-5zM280 480h5v5h-5zM280 485h5v5h-5zM280 490h5v5h-5zM280 515h5v5h-5zM240 545h10v5h-10zM230 550h5v5h-5zM225 555h5v5h-5zM220 565h5v5h-5zM220 570h5v5h-5zM220 575h5v5h-5z"/>
<path fill="rgb(143,143,143)" d="M465 350h5v5h-5zM410 355h5v5h-5zM490 360h5v5h-5zM395 380h5v5h-5zM505 380h5v5h-5zM510 385h5v5h-5zM530 395h20v5h-20zM610 410h5v5h-5zM280 475h5v5h-5zM280 495h5v5h-5zM280 500h5v5h-5zM280 505h5v5h-5zM280 510h5v5h-5zM275 525h5v5h-5zM270 530h5v5h-5zM260 540h5v5h-5zM235 545h5v5h-5zM225 550h5v5h-5zM220 560h5v5h-5z"/>
<path fill="rgb(144,144,144)" d="M415 350h5v5h-5zM470 350h5v5h-5zM495 365h5v5h-5zM400 370h5v5h-5zM520 390h5v5h-5zM550 395h10v5h-10zM380 400h5v5h-5zM365 415h5v5h-5zM345 425h5v5h-5zM315 440h5v5h-5zM275 520h5v5h-5zM265 535h5v5h-5zM250 540h10v5h-10zM230 545h5v5h-5zM220 555h5v5h-5zM215 560h5v5h-5zM215 565h5v5h-5zM215 570h5v5h-5zM215 575h5v5h-5z"/>
<path fill="rgb(145,145,145)" d="M485 355h5v5h-5zM405 360h5v5h-5zM500 370h5v5h-5zM505 375h5v5h-5zM510 380h5v5h-5zM515 385h5v5h-5zM560 395h5v5h-5zM580 400h5v5h-5zM375 405h5v5h-5zM595 405h5v5h-5zM370 410h5v5h-5zM305 445h5v5h-5zM290 455h5v5h-5zM285 460h5v5h-5zM280 470h5v5h-5zM275 515h5v5h-5zM270 525h5v5h-5zM260 535h5v5h-5zM235 540h15v5h-15zM225 545h5v5h-5zM220 550h5v5h-5zM215 555h5v5h-5zM210 560h5v5h-5zM210 565h5v5h-5zM205 570h10v5h-10zM210 575h5v5h-5z"/>
<path fill="rgb(146,146,146)" d="M475 350h5v5h-5zM525 390h5v5h-5zM565 395h5v5h-5zM615 410h5v5h-5zM355 420h5v5h-5zM330 430h5v5h-5zM320 435h5v5h-5zM275 485h5v5h-5zM275 490h5v5h-5zM275 495h5v5h-5zM275 500h5v5h-5zM275 505h5v5h-5zM275 510h5v5h-5zM265 530h5v5h-5zM255 535h5v5h-5zM230 540h5v5h-5zM220 545h5v5h-5zM215 550h5v5h-5zM210 555h5v5h-5zM200 560h10v5h-10zM190 565h20v5h-20zM190 570h15v5h-15zM190 575h20v5h-20z"/>
<path fill="rgb(147,147,147)" d="M425 345h5v5h-5zM480 350h5v5h-5zM490 355h5v5h-5zM495 360h5v5h-5zM500 365h5v5h-5zM505 370h5v5h-5zM390 385h5v5h-5zM520 385h5v5h-5zM530 390h5v5h-5zM665 410h15v5h-15zM295 450h5v5h-5zM280 465h5v5h-5zM275 480h5v5h-5zM270 520h5v5h-5zM245 535h10v5h-10zM225 540h5v5h-5zM210 550h5v5h-5zM200 555h10v5h-10zM190 560h10v5h-10zM185 565h5v5h-5zM185 570h5v5h-5zM185 575h5v5h-5z"/>
<path fill="rgb(148,148,148)" d="M420 345h5v5h-5zM430 345h10v5h-10zM510 375h5v5h-5zM515 380h5v5h-5zM535 390h5v5h-5zM570 395h5v5h-5zM585 400h5v5h-5zM600 405h5v5h-5zM620 410h5v5h-5zM660 410h5v5h-5zM680 410h10v5h-10zM340 425h5v5h-5zM310 440h5v5h-5zM275 475h5v5h-5zM270 510h5v5h-5zM270 515h5v5h-5zM265 525h5v5h-5zM260 530h5v5h-5zM235 535h10v5h-10zM220 540h5v5h-5zM215 545h5v5h-5zM205 550h5v5h-5zM190 555h10v5h-10zM185 560h5v5h-5z"/>
<path fill="rgb(149,149,149)" d="M440 345h25v5h-25zM410 350h5v5h-5zM485 350h5v5h-5zM395 375h5v5h-5zM525 385h5v5h-5zM540 390h5v5h-5zM655 410h5v5h-5zM270 500h5v5h-5zM270 505h5v5h-5zM265 520h5v5h-5zM260 525h5v5h-5zM255 530h5v5h-5zM225 535h10v5h-10zM210 545h5v5h-5zM195 550h10v5h-10zM185 555h5v5h-5zM180 560h5v5h-5zM180 565h5v5h-5zM180 570h5v5h-5zM180 575h5v5h-5z"/>
<path fill="rgb(150,150,150)" d="M415 345h5v5h-5zM465 345h5v5h-5zM495 355h5v5h-5zM500 360h5v5h-5zM400 365h5v5h-5zM505 365h5v5h-5zM510 370h5v5h-5zM515 375h5v5h-5zM520 380h5v5h-5zM385 390h5v5h-5zM545 390h10v5h-10zM575 395h5v5h-5zM650 410h5v5h-5zM325 430h5v5h-5zM300 445h5v5h-5zM275 470h5v5h-5zM270 490h5v5h-5zM270 495h5v5h-5zM265 515h5v5h-5zM240 530h15v5h-15zM215 540h5v5h-5zM205 545h5v5h-5zM190 550h5v5h-5zM180 555h5v5h-5z"/>
<path fill="rgb(151,151,151)" d="M470 345h5v5h-5zM405 355h5v5h-5zM530 385h5v5h-5zM555 390h5v5h-5zM590 400h5v5h-5zM605 405h5v5h-5zM625 410h5v5h-5zM360 415h5v5h-5zM315 435h5v5h-5zM285 455h5v5h-5zM280 460h5v5h-5zM270 485h5v5h-5zM265 510h5v5h-5zM260 520h5v5h-5zM255 525h5v5h-5zM230 530h10v5h-10zM220 535h5v5h-5zM210 540h5v5h-5zM195 545h10v5h-10zM185 550h5v5h-5zM175 560h5v5h-5zM175 565h5v5h-5zM175 570h5v5h-5zM175 575h5v5h-5z"/>
<path fill="rgb(152,152,152)" d="M475 345h5v5h-5zM490 350h5v5h-5zM560 390h5v5h-5zM630 410h5v5h-5zM645 410h5v5h-5zM350 420h5v5h-5zM335 425h5v5h-5zM290 450h5v5h-5zM270 480h5v5h-5zM265 500h5v5h-5zM265 505h5v5h-5zM260 515h5v5h-5zM255 520h5v5h-5zM245 525h10v5h-10zM225 530h5v5h-5zM215 535h5v5h-5zM205 540h5v5h-5zM190 545h5v5h-5zM180 550h5v5h-5zM175 555h5v5h-5z"/>
<path fill="rgb(153,153,153)" d="M420 340h15v5h-15zM480 345h5v5h-5zM500 355h5v5h-5zM505 360h5v5h-5zM510 365h5v5h-5zM515 370h5v5h-5zM520 375h5v5h-5zM525 380h5v5h-5zM535 385h5v5h-5zM565 390h5v5h-5zM380 395h5v5h-5zM580 395h5v5h-5zM635 410h10v5h-10zM305 440h5v5h-5zM275 465h5v5h-5zM270 475h5v5h-5zM265 495h5v5h-5zM260 510h5v5h-5zM235 525h10v5h-10zM220 530h5v5h-5zM210 535h5v5h-5zM200 540h5v5h-5zM185 545h5v5h-5zM170 565h5v5h-5zM170 570h5v5h-5zM170 575h5v5h-5z"/>
<path fill="rgb(154,154,154)" d="M435 340h5v5h-5zM410 345h5v5h-5zM495 350h5v5h-5zM390 380h5v5h-5zM540 385h5v5h-5zM595 400h5v5h-5zM610 405h5v5h-5zM365 410h5v5h-5zM320 430h5v5h-5zM295 445h5v5h-5zM265 490h5v5h-5zM260 505h5v5h-5zM255 515h5v5h-5zM245 520h10v5h-10zM230 525h5v5h-5zM215 530h5v5h-5zM205 535h5v5h-5zM195 540h5v5h-5zM180 545h5v5h-5zM175 550h5v5h-5zM170 560h5v5h-5z"/>
<path fill="rgb(155,155,155)" d="M415 340h5v5h-5zM440 340h20v5h-20zM485 345h5v5h-5zM400 360h5v5h-5zM395 370h5v5h-5zM530 380h5v5h-5zM545 385h5v5h-5zM570 390h5v5h-5zM375 400h5v5h-5zM370 405h5v5h-5zM330 425h5v5h-5zM270 470h5v5h-5zM265 485h5v5h-5zM260 500h5v5h-5zM255 510h5v5h-5zM250 515h5v5h-5zM240 520h5v5h-5zM225 525h5v5h-5zM210 530h5v5h-5zM200 535h5v5h-5zM185 540h10v5h-10zM170 555h5v5h-5z"/>
<path fill="rgb(156,156,156)" d="M460 340h10v5h-10zM490 345h5v5h-5zM405 350h5v5h-5zM500 350h5v5h-5zM505 355h5v5h-5zM510 360h5v5h-5zM515 365h5v5h-5zM520 370h5v5h-5zM525 375h5v5h-5zM550 385h5v5h-5zM585 395h5v5h-5zM310 435h5v5h-5zM265 480h5v5h-5zM260 495h5v5h-5zM255 505h5v5h-5zM245 515h5v5h-5zM235 520h5v5h-5zM215 525h10v5h-10zM205 530h5v5h-5zM195 535h5v5h-5zM175 545h5v5h-5zM170 550h5v5h-5z"/>
<path fill="rgb(157,157,157)" d="M420 335h15v5h-15zM470 340h10v5h-10zM535 380h5v5h-5zM555 385h5v5h-5zM575 390h5v5h-5zM600 400h5v5h-5zM615 405h5v5h-5zM670 405h5v5h-5zM345 420h5v5h-5zM300 440h5v5h-5zM285 450h5v5h-5zM280 455h5v5h-5zM275 460h5v5h-5zM260 490h5v5h-5zM255 500h5v5h-5zM250 510h5v5h-5zM240 515h5v5h-5zM225 520h10v5h-10zM200 530h5v5h-5zM190 535h5v5h-5zM180 540h5v5h-5zM165 560h5v5h-5zM165 565h5v5h-5zM165 570h5v5h-5zM165 575h5v5h-5z"/>
<path fill="rgb(158,158,158)" d="M435 335h5v5h-5zM480 340h5v5h-5zM495 345h5v5h-5zM505 350h5v5h-5zM510 355h5v5h-5zM515 360h5v5h-5zM520 365h5v5h-5zM525 370h5v5h-5zM530 375h5v5h-5zM540 380h5v5h-5zM385 385h5v5h-5zM560 385h5v5h-5zM660 405h10v5h-10zM675 405h15v5h-15zM355 415h5v5h-5zM325 425h5v5h-5zM315 430h5v5h-5zM265 475h5v5h-5zM260 485h5v5h-5zM255 495h5v5h-5zM250 505h5v5h-5zM245 510h5v5h-5zM235 515h5v5h-5zM220 520h5v5h-5zM210 525h5v5h-5zM185 535h5v5h-5zM175 540h5v5h-5zM170 545h5v5h-5zM165 555h5v5h-5z"/>
<path fill="rgb(159,159,159)" d="M415 335h5v5h-5zM440 335h10v5h-10zM410 340h5v5h-5zM485 340h5v5h-5zM590 395h5v5h-5zM620 405h5v5h-5zM655 405h5v5h-5zM290 445h5v5h-5zM270 465h5v5h-5zM250 500h5v5h-5zM240 510h5v5h-5zM230 515h5v5h-5zM215 520h5v5h-5zM205 525h5v5h-5zM195 530h5v5h-5zM180 535h5v5h-5zM165 550h5v5h-5z"/>
<path fill="rgb(160,160,160)" d="M425 330h10v5h-10zM450 335h10v5h-10zM490 340h5v5h-5zM500 345h5v5h-5zM510 350h5v5h-5zM400 355h5v5h-5zM515 355h5v5h-5zM520 360h5v5h-5zM535 375h5v5h-5zM545 380h10v5h-10zM565 385h5v5h-5zM580 390h5v5h-5zM605 400h5v5h-5zM305 435h5v5h-5zM265 470h5v5h-5zM260 480h5v5h-5zM255 490h5v5h-5zM250 495h5v5h-5zM245 505h5v5h-5zM225 515h5v5h-5zM210 520h5v5h-5zM200 525h5v5h-5zM190 530h5v5h-5zM175 535h5v5h-5zM170 540h5v5h-5zM165 545h5v5h-5zM160 565h5v5h-5zM160 570h5v5h-5zM160 575h5v5h-5z"/>
<path fill="rgb(161,161,161)" d="M430 325h5v5h-5zM420 330h5v5h-5zM435 330h10v5h-10zM460 335h15v5h-15zM405 345h5v5h-5zM505 345h5v5h-5zM395 365h5v5h-5zM525 365h5v5h-5zM530 370h5v5h-5zM390 375h5v5h-5zM570 385h5v5h-5zM625 405h5v5h-5zM650 405h5v5h-5zM340 420h5v5h-5zM320 425h5v5h-5zM255 485h5v5h-5zM245 500h5v5h-5zM240 505h5v5h-5zM235 510h5v5h-5zM220 515h5v5h-5zM205 520h5v5h-5zM195 525h5v5h-5zM185 530h5v5h-5zM160 555h5v5h-5zM160 560h5v5h-5z"/>
<path fill="rgb(162,162,162)" d="M425 325h5v5h-5zM435 325h5v5h-5zM445 330h5v5h-5zM475 335h10v5h-10zM495 340h5v5h-5zM515 350h5v5h-5zM520 355h5v5h-5zM540 375h5v5h-5zM555 380h5v5h-5zM380 390h5v5h-5zM585 390h5v5h-5zM595 395h5v5h-5zM630 405h5v5h-5zM645 405h5v5h-5zM310 430h5v5h-5zM295 440h5v5h-5zM260 475h5v5h-5zM250 490h5v5h-5zM245 495h5v5h-5zM230 510h5v5h-5zM215 515h5v5h-5zM200 520h5v5h-5zM190 525h5v5h-5zM180 530h5v5h-5zM170 535h5v5h-5zM165 540h5v5h-5zM160 550h5v5h-5z"/>
<path fill="rgb(163,163,163)" d="M425 320h20v5h-20zM420 325h5v5h-5zM440 325h10v5h-10zM415 330h5v5h-5zM450 330h10v5h-10zM410 335h5v5h-5zM485 335h5v5h-5zM500 340h5v5h-5zM510 345h5v5h-5zM525 360h5v5h-5zM530 365h5v5h-5zM535 370h5v5h-5zM545 375h5v5h-5zM560 380h5v5h-5zM575 385h5v5h-5zM610 400h5v5h-5zM635 405h10v5h-10zM360 410h5v5h-5zM280 450h5v5h-5zM275 455h5v5h-5zM270 460h5v5h-5zM255 480h5v5h-5zM240 500h5v5h-5zM235 505h5v5h-5zM225 510h5v5h-5zM210 515h5v5h-5zM185 525h5v5h-5zM175 530h5v5h-5zM160 545h5v5h-5z"/>
<path fill="rgb(164,164,164)" d="M430 315h15v5h-15zM445 320h5v5h-5zM450 325h5v5h-5zM460 330h10v5h-10zM490 335h5v5h-5zM505 340h5v5h-5zM515 345h5v5h-5zM520 350h5v5h-5zM525 355h5v5h-5zM530 360h5v5h-5zM535 365h5v5h-5zM540 370h5v5h-5zM550 375h5v5h-5zM565 380h5v5h-5zM335 420h5v5h-5zM315 425h5v5h-5zM300 435h5v5h-5zM285 445h5v5h-5zM265 465h5v5h-5zM250 485h5v5h-5zM245 490h5v5h-5zM240 495h5v5h-5zM230 505h5v5h-5zM220 510h5v5h-5zM205 515h5v5h-5zM195 520h5v5h-5zM180 525h5v5h-5zM170 530h5v5h-5zM165 535h5v5h-5zM160 540h5v5h-5zM155 570h5v5h-5z"/>
<path fill="rgb(165,165,165)" d="M425 315h5v5h-5zM445 315h5v5h-5zM420 320h5v5h-5zM450 320h5v5h-5zM415 325h5v5h-5zM455 325h5v5h-5zM470 330h15v5h-15zM495 335h5v5h-5zM405 340h5v5h-5zM510 340h5v5h-5zM520 345h5v5h-5zM400 350h5v5h-5zM525 350h5v5h-5zM530 355h5v5h-5zM545 370h5v5h-5zM555 375h5v5h-5zM590 390h5v5h-5zM375 395h5v5h-5zM600 395h5v5h-5zM350 415h5v5h-5zM260 470h5v5h-5zM255 475h5v5h-5zM235 500h5v5h-5zM225 505h5v5h-5zM215 510h5v5h-5zM200 515h5v5h-5zM190 520h5v5h-5zM155 550h5v5h-5zM155 555h5v5h-5zM155 560h5v5h-5zM155 565h5v5h-5zM155 575h5v5h-5z"/>
<path fill="rgb(166,166,166)" d="M430 310h20v5h-20zM450 315h5v5h-5zM455 320h5v5h-5zM460 325h15v5h-15zM485 330h5v5h-5zM500 335h5v5h-5zM515 340h5v5h-5zM525 345h5v5h-5zM530 350h5v5h-5zM395 360h5v5h-5zM535 360h5v5h-5zM540 365h5v5h-5zM550 370h5v5h-5zM560 375h5v5h-5zM385 380h5v5h-5zM570 380h5v5h-5zM580 385h5v5h-5zM370 400h5v5h-5zM615 400h5v5h-5zM365 405h5v5h-5zM330 420h5v5h-5zM305 430h5v5h-5zM290 440h5v5h-5zM250 480h5v5h-5zM245 485h5v5h-5zM240 490h5v5h-5zM235 495h5v5h-5zM230 500h5v5h-5zM210 510h5v5h-5zM195 515h5v5h-5zM185 520h5v5h-5zM175 525h5v5h-5zM165 530h5v5h-5zM160 535h5v5h-5zM155 545h5v5h-5z"/>
<path fill="rgb(167,167,167)" d="M450 310h5v5h-5zM420 315h5v5h-5zM455 315h10v5h-10zM460 320h15v5h-15zM475 325h10v5h-10zM410 330h5v5h-5zM490 330h5v5h-5zM505 335h5v5h-5zM520 340h5v5h-5zM535 355h5v5h-5zM540 360h5v5h-5zM545 365h5v5h-5zM390 370h5v5h-5zM555 370h5v5h-5zM310 425h5v5h-5zM220 505h5v5h-5zM205 510h5v5h-5zM190 515h5v5h-5zM180 520h5v5h-5zM170 525h5v5h-5zM155 540h5v5h-5z"/>
<path fill="rgb(168,168,168)" d="M560 160h5v5h-5zM425 310h5v5h-5zM455 310h20v5h-20zM465 315h15v5h-15zM415 320h5v5h-5zM475 320h10v5h-10zM485 325h5v5h-5zM495 330h5v5h-5zM510 335h5v5h-5zM525 340h5v5h-5zM530 345h5v5h-5zM535 350h5v5h-5zM540 355h5v5h-5zM545 360h5v5h-5zM550 365h5v5h-5zM565 375h5v5h-5zM585 385h5v5h-5zM595 390h5v5h-5zM605 395h5v5h-5zM620 400h5v5h-5zM660 400h30v5h-30zM325 420h5v5h-5zM255 470h5v5h-5zM250 475h5v5h-5zM245 480h5v5h-5zM240 485h5v5h-5zM225 500h5v5h-5zM215 505h5v5h-5zM200 510h5v5h-5zM185 515h5v5h-5zM175 520h5v5h-5zM165 525h5v5h-5zM160 530h5v5h-5zM155 535h5v5h-5z"/>
<path fill="rgb(169,169,169)" d="M555 160h5v5h-5zM435 305h20v5h-20zM470 305h5v5h-5zM475 310h10v5h-10zM480 315h5v5h-5zM485 320h5v5h-5zM490 325h5v5h-5zM500 330h5v5h-5zM405 335h5v5h-5zM515 335h5v5h-5zM530 340h5v5h-5zM400 345h5v5h-5zM535 345h5v5h-5zM540 350h5v5h-5zM545 355h5v5h-5zM550 360h5v5h-5zM555 365h5v5h-5zM560 370h5v5h-5zM575 380h5v5h-5zM655 400h5v5h-5zM320 420h5v5h-5zM295 435h5v5h-5zM275 450h5v5h-5zM270 455h5v5h-5zM265 460h5v5h-5zM260 465h5v5h-5zM235 490h5v5h-5zM230 495h5v5h-5zM210 505h5v5h-5zM195 510h5v5h-5zM170 520h5v5h-5zM150 550h5v5h-5zM150 555h5v5h-5zM150 560h5v5h-5zM150 565h5v5h-5zM150 570h5v5h-5zM150 575h5v5h-5z"/>
<path fill="rgb(170,170,170)" d="M560 155h5v5h-5zM565 160h5v5h-5zM430 305h5v5h-5zM455 305h15v5h-15zM475 305h10v5h-10zM420 310h5v5h-5zM485 315h5v5h-5zM490 320h5v5h-5zM410 325h5v5h-5zM495 325h5v5h-5zM505 330h5v5h-5zM520 335h5v5h-5zM540 345h5v5h-5zM545 350h5v5h-5zM625 400h5v5h-5zM650 400h5v5h-5zM345 415h5v5h-5zM315 420h5v5h-5zM300 430h5v5h-5zM280 445h5v5h-5zM220 500h5v5h-5zM205 505h5v5h-5zM190 510h5v5h-5zM180 515h5v5h-5zM165 520h5v5h-5zM160 525h5v5h-5zM155 530h5v5h-5zM150 540h5v5h-5zM150 545h5v5h-5z"/>
<path fill="rgb(171,171,171)" d="M665 75h15v5h-15zM660 80h30v5h-30zM655 85h35v5h-35zM655 90h35v5h-35zM660 95h30v5h-30zM555 155h5v5h-5zM565 155h5v5h-5zM465 300h15v5h-15zM485 310h5v5h-5zM415 315h5v5h-5zM510 330h5v5h-5zM525 335h5v5h-5zM535 340h5v5h-5zM395 355h5v5h-5zM550 355h5v5h-5zM555 360h5v5h-5zM560 365h5v5h-5zM570 375h5v5h-5zM580 380h5v5h-5zM380 385h5v5h-5zM590 385h5v5h-5zM600 390h5v5h-5zM160 395h5v5h-5zM610 395h5v5h-5zM160 400h10v5h-10zM630 400h5v5h-5zM645 400h5v5h-5zM160 405h10v5h-10zM160 410h10v5h-10zM355 410h5v5h-5zM160 415h10v5h-10zM305 425h5v5h-5zM250 470h5v5h-5zM245 475h5v5h-5zM240 480h5v5h-5zM235 485h5v5h-5zM230 490h5v5h-5zM225 495h5v5h-5zM215 500h5v5h-5zM195 505h10v5h-10zM185 510h5v5h-5zM175 515h5v5h-5zM150 535h5v5h-5z"/>
<path fill="rgb(172,172,172)" d="M660 70h30v5h-30zM655 75h10v5h-10zM680 75h10v5h-10zM650 80h10v5h-10zM650 85h5v5h-5zM650 90h5v5h-5zM650 95h10v5h-10zM655 100h35v5h-35zM670 105h5v5h-5zM550 160h5v5h-5zM550 235h5v5h-5zM470 295h10v5h-10zM445 300h20v5h-20zM480 300h5v5h-5zM425 305h5v5h-5zM485 305h5v5h-5zM490 315h5v5h-5zM410 320h5v5h-5zM495 320h5v5h-5zM500 325h5v5h-5zM530 335h5v5h-5zM540 340h5v5h-5zM545 345h5v5h-5zM550 350h5v5h-5zM565 370h5v5h-5zM160 390h5v5h-5zM155 395h5v5h-5zM165 395h5v5h-5zM155 400h5v5h-5zM635 400h10v5h-10zM155 405h5v5h-5zM155 410h5v5h-5zM155 415h5v5h-5zM160 420h10v5h-10zM160 425h10v5h-10zM285 440h5v5h-5zM255 465h5v5h-5zM210 500h5v5h-5zM190 505h5v5h-5zM180 510h5v5h-5zM170 515h5v5h-5zM160 520h5v5h-5zM155 525h5v5h-5z"/>
<path fill="rgb(173,173,173)" d="M665 40h20v5h-20zM665 45h15v5h-15zM670 50h5v5h-5zM665 55h15v5h-15zM660 60h30v5h-30zM655 65h35v5h-35zM650 70h10v5h-10zM645 75h10v5h-10zM645 80h5v5h-5zM645 85h5v5h-5zM645 90h5v5h-5zM645 95h5v5h-5zM645 100h10v5h-10zM650 105h20v5h-20zM675 105h15v5h-15zM660 110h30v5h-30zM550 155h5v5h-5zM570 155h5v5h-5zM570 160h5v5h-5zM550 230h10v5h-10zM545 235h5v5h-5zM555 235h5v5h-5zM465 295h5v5h-5zM480 295h5v5h-5zM440 300h5v5h-5zM490 310h5v5h-5zM505 325h5v5h-5zM405 330h5v5h-5zM515 330h5v5h-5zM535 335h5v5h-5zM400 340h5v5h-5zM555 355h5v5h-5zM560 360h5v5h-5zM390 365h5v5h-5zM385 375h5v5h-5zM160 385h5v5h-5zM155 390h5v5h-5zM165 390h5v5h-5zM615 395h5v5h-5zM170 400h5v5h-5zM170 405h5v5h-5zM170 410h5v5h-5zM170 415h5v5h-5zM155 420h5v5h-5zM170 420h5v5h-5zM310 420h5v5h-5zM155 425h5v5h-5zM170 425h5v5h-5zM160 430h10v5h-10zM160 435h10v5h-10zM290 435h5v5h-5zM260 460h5v5h-5zM220 495h5v5h-5zM205 500h5v5h-5zM185 505h5v5h-5zM175 510h5v5h-5zM165 515h5v5h-5zM150 530h5v5h-5zM145 545h5v5h-5zM145 550h5v5h-5zM145 555h5v5h-5zM145 560h5v5h-5zM145 565h5v5h-5zM145 570h5v5h-5zM145 575h5v5h-5z"/>
<path fill="rgb(174,174,174)" d="M650 40h15v5h-15zM685 40h5v5h-5zM655 45h10v5h-10zM680 45h10v5h-10zM655 50h15v5h-15zM675 50h15v5h-15zM655 55h10v5h-10zM680 55h10v5h-10zM650 60h10v5h-10zM645 65h10v5h-10zM645 70h5v5h-5zM640 75h5v5h-5zM640 80h5v5h-5zM640 85h5v5h-5zM640 90h5v5h-5zM640 95h5v5h-5zM640 100h5v5h-5zM645 105h5v5h-5zM650 110h10v5h-10zM655 115h35v5h-35zM670 120h5v5h-5zM560 165h5v5h-5zM545 230h5v5h-5zM470 290h10v5h-10zM460 295h5v5h-5zM435 300h5v5h-5zM485 300h5v5h-5zM415 310h5v5h-5zM495 315h5v5h-5zM500 320h5v5h-5zM520 330h5v5h-5zM545 340h5v5h-5zM550 345h5v5h-5zM565 365h5v5h-5zM570 370h5v5h-5zM575 375h5v5h-5zM585 380h5v5h-5zM155 385h5v5h-5zM165 385h5v5h-5zM595 385h5v5h-5zM170 390h5v5h-5zM605 390h5v5h-5zM150 395h5v5h-5zM170 395h5v5h-5zM150 400h5v5h-5zM150 405h5v5h-5zM150 410h5v5h-5zM150 415h5v5h-5zM340 415h5v5h-5zM155 430h5v5h-5zM170 430h5v5h-5zM160 440h10v5h-10zM245 470h5v5h-5zM240 475h5v5h-5zM235 480h5v5h-5zM230 485h5v5h-5zM225 490h5v5h-5zM195 500h10v5h-10zM180 505h5v5h-5zM170 510h5v5h-5zM160 515h5v5h-5zM155 520h5v5h-5zM150 525h5v5h-5zM145 535h5v5h-5zM145 540h5v5h-5z"/>
<path fill="rgb(175,175,175)" d="M645 40h5v5h-5zM645 45h10v5h-10zM645 50h10v5h-10zM645 55h10v5h-10zM640 60h10v5h-10zM640 65h5v5h-5zM635 70h10v5h-10zM635 75h5v5h-5zM635 80h5v5h-5zM635 85h5v5h-5zM635 90h5v5h-5zM635 95h5v5h-5zM635 100h5v5h-5zM635 105h10v5h-10zM640 110h10v5h-10zM645 115h10v5h-10zM650 120h20v5h-20zM675 120h15v5h-15zM655 125h35v5h-35zM665 130h15v5h-15zM560 150h5v5h-5zM555 165h5v5h-5zM565 165h5v5h-5zM560 230h5v5h-5zM540 235h5v5h-5zM560 235h5v5h-5zM475 285h5v5h-5zM465 290h5v5h-5zM480 290h5v5h-5zM455 295h5v5h-5zM485 295h5v5h-5zM430 300h5v5h-5zM420 305h5v5h-5zM490 305h5v5h-5zM410 315h5v5h-5zM510 325h5v5h-5zM525 330h5v5h-5zM540 335h5v5h-5zM395 350h5v5h-5zM555 350h5v5h-5zM560 355h5v5h-5zM150 390h5v5h-5zM375 390h5v5h-5zM175 410h5v5h-5zM175 415h5v5h-5zM150 420h5v5h-5zM175 420h5v5h-5zM295 430h5v5h-5zM155 435h5v5h-5zM170 435h5v5h-5zM155 440h5v5h-5zM160 445h5v5h-5zM265 455h5v5h-5zM250 465h5v5h-5zM215 495h5v5h-5zM185 500h10v5h-10zM175 505h5v5h-5zM165 510h5v5h-5zM155 515h5v5h-5zM150 520h5v5h-5zM145 530h5v5h-5z"/>
<path fill="rgb(176,176,176)" d="M630 40h15v5h-15zM630 45h15v5h-15zM630 50h15v5h-15zM630 55h15v5h-15zM630 60h10v5h-10zM630 65h10v5h-10zM630 70h5v5h-5zM630 75h5v5h-5zM630 80h5v5h-5zM630 85h5v5h-5zM630 90h5v5h-5zM630 95h5v5h-5zM630 100h5v5h-5zM630 105h5v5h-5zM635 110h5v5h-5zM635 115h10v5h-10zM640 120h10v5h-10zM645 125h10v5h-10zM650 130h15v5h-15zM680 130h10v5h-10zM655 135h35v5h-35zM660 140h30v5h-30zM555 150h5v5h-5zM565 150h5v5h-5zM545 155h5v5h-5zM575 155h5v5h-5zM545 160h5v5h-5zM575 160h5v5h-5zM540 230h5v5h-5zM470 285h5v5h-5zM480 285h5v5h-5zM460 290h5v5h-5zM445 295h10v5h-10zM405 325h5v5h-5zM515 325h5v5h-5zM530 330h5v5h-5zM155 380h15v5h-15zM150 385h5v5h-5zM170 385h5v5h-5zM175 395h5v5h-5zM620 395h5v5h-5zM145 400h5v5h-5zM175 400h5v5h-5zM145 405h5v5h-5zM175 405h5v5h-5zM360 405h5v5h-5zM145 410h5v5h-5zM335 415h5v5h-5zM305 420h5v5h-5zM150 425h5v5h-5zM175 425h5v5h-5zM300 425h5v5h-5zM150 430h5v5h-5zM175 430h5v5h-5zM170 440h5v5h-5zM155 445h5v5h-5zM165 445h5v5h-5zM275 445h5v5h-5zM160 450h5v5h-5zM270 450h5v5h-5zM220 490h5v5h-5zM210 495h5v5h-5zM175 500h10v5h-10zM170 505h5v5h-5zM160 510h5v5h-5zM145 525h5v5h-5zM140 540h5v5h-5zM140 545h5v5h-5zM140 550h5v5h-5zM140 555h5v5h-5zM140 560h5v5h-5zM140 565h5v5h-5zM140 570h5v5h-5zM140 575h5v5h-5z"/>
<path fill="rgb(177,177,177)" d="M620 40h10v5h-10zM620 45h10v5h-10zM615 50h15v5h-15zM620 55h10v5h-10zM620 60h10v5h-10zM620 65h10v5h-10zM625 70h5v5h-5zM625 75h5v5h-5zM625 80h5v5h-5zM625 85h5v5h-5zM625 90h5v5h-5zM625 95h5v5h-5zM625 100h5v5h-5zM625 105h5v5h-5zM630 110h5v5h-5zM630 115h5v5h-5zM635 120h5v5h-5zM640 125h5v5h-5zM640 130h10v5h-10zM645 135h10v5h-10zM645 140h15v5h-15zM650 145h40v5h-40zM570 150h5v5h-5zM665 150h15v5h-15zM550 165h5v5h-5zM470 280h10v5h-10zM465 285h5v5h-5zM485 290h5v5h-5zM440 295h5v5h-5zM425 300h5v5h-5zM495 310h5v5h-5zM500 315h5v5h-5zM505 320h5v5h-5zM535 330h5v5h-5zM400 335h5v5h-5zM545 335h5v5h-5zM550 340h5v5h-5zM555 345h5v5h-5zM390 360h5v5h-5zM565 360h5v5h-5zM580 375h5v5h-5zM590 380h5v5h-5zM600 385h5v5h-5zM175 390h5v5h-5zM610 390h5v5h-5zM145 395h5v5h-5zM625 395h5v5h-5zM660 395h30v5h-30zM145 415h5v5h-5zM315 415h20v5h-20zM150 435h5v5h-5zM175 435h5v5h-5zM150 440h5v5h-5zM280 440h5v5h-5zM170 445h5v5h-5zM155 450h5v5h-5zM165 450h5v5h-5zM160 455h5v5h-5zM255 460h5v5h-5zM240 470h5v5h-5zM235 475h5v5h-5zM230 480h5v5h-5zM225 485h5v5h-5zM180 495h30v5h-30zM170 500h5v5h-5zM165 505h5v5h-5zM155 510h5v5h-5zM150 515h5v5h-5zM145 520h5v5h-5zM140 530h5v5h-5zM140 535h5v5h-5z"/>
<path fill="rgb(178,178,178)" d="M610 40h10v5h-10zM610 45h10v5h-10zM610 50h5v5h-5zM610 55h10v5h-10zM615 60h5v5h-5zM615 65h5v5h-5zM615 70h10v5h-10zM620 75h5v5h-5zM620 80h5v5h-5zM620 85h5v5h-5zM620 90h5v5h-5zM620 95h5v5h-5zM620 100h5v5h-5zM625 110h5v5h-5zM625 115h5v5h-5zM630 120h5v5h-5zM630 125h10v5h-10zM635 130h5v5h-5zM635 135h10v5h-10zM640 140h5v5h-5zM645 145h5v5h-5zM550 150h5v5h-5zM575 150h5v5h-5zM650 150h15v5h-15zM680 150h10v5h-10zM580 155h5v5h-5zM570 165h5v5h-5zM565 235h5v5h-5zM480 280h5v5h-5zM455 290h5v5h-5zM490 300h5v5h-5zM415 305h5v5h-5zM405 320h5v5h-5zM520 325h5v5h-5zM560 350h5v5h-5zM570 365h5v5h-5zM575 370h5v5h-5zM160 375h5v5h-5zM150 380h5v5h-5zM170 380h5v5h-5zM175 385h5v5h-5zM145 390h5v5h-5zM370 395h5v5h-5zM655 395h5v5h-5zM365 400h5v5h-5zM180 405h5v5h-5zM180 410h5v5h-5zM350 410h5v5h-5zM180 415h5v5h-5zM310 415h5v5h-5zM145 420h5v5h-5zM180 420h5v5h-5zM145 425h5v5h-5zM180 425h5v5h-5zM175 440h5v5h-5zM150 445h5v5h-5zM150 450h5v5h-5zM170 450h5v5h-5zM150 455h10v5h-10zM165 455h5v5h-5zM155 460h10v5h-10zM245 465h5v5h-5zM215 490h5v5h-5zM170 495h10v5h-10zM165 500h5v5h-5zM160 505h5v5h-5zM150 510h5v5h-5zM145 515h5v5h-5zM140 525h5v5h-5zM110 540h5v5h-5zM135 540h5v5h-5zM110 545h5v5h-5zM135 545h5v5h-5zM110 550h5v5h-5zM135 550h5v5h-5zM110 555h5v5h-5zM135 555h5v5h-5z"/>
<path fill="rgb(179,179,179)" d="M605 45h5v5h-5zM605 50h5v5h-5zM605 55h5v5h-5zM610 60h5v5h-5zM610 65h5v5h-5zM615 75h5v5h-5zM615 80h5v5h-5zM620 105h5v5h-5zM620 110h5v5h-5zM620 115h5v5h-5zM625 120h5v5h-5zM625 125h5v5h-5zM630 130h5v5h-5zM630 135h5v5h-5zM635 140h5v5h-5zM635 145h10v5h-10zM640 150h10v5h-10zM540 155h5v5h-5zM650 155h40v5h-40zM540 160h5v5h-5zM565 230h5v5h-5zM535 235h5v5h-5zM470 275h15v5h-15zM465 280h5v5h-5zM460 285h5v5h-5zM485 285h5v5h-5zM450 290h5v5h-5zM435 295h5v5h-5zM410 310h5v5h-5zM510 320h5v5h-5zM525 325h5v5h-5zM540 330h5v5h-5zM395 345h5v5h-5zM565 355h5v5h-5zM385 370h5v5h-5zM155 375h5v5h-5zM165 375h5v5h-5zM380 380h5v5h-5zM145 385h5v5h-5zM180 395h5v5h-5zM630 395h5v5h-5zM645 395h10v5h-10zM140 400h5v5h-5zM180 400h5v5h-5zM140 405h5v5h-5zM140 410h5v5h-5zM140 415h5v5h-5zM145 430h5v5h-5zM180 430h5v5h-5zM145 435h5v5h-5zM285 435h5v5h-5zM145 440h5v5h-5zM145 445h5v5h-5zM175 445h5v5h-5zM145 450h5v5h-5zM145 455h5v5h-5zM260 455h5v5h-5zM150 460h5v5h-5zM165 460h5v5h-5zM155 465h10v5h-10zM170 490h25v5h-25zM165 495h5v5h-5zM160 500h5v5h-5zM155 505h5v5h-5zM145 510h5v5h-5zM140 515h5v5h-5zM140 520h5v5h-5zM110 525h5v5h-5zM135 525h5v5h-5zM110 530h10v5h-10zM135 530h5v5h-5zM110 535h15v5h-15zM130 535h10v5h-10zM115 540h10v5h-10zM130 540h5v5h-5zM115 545h10v5h-10zM130 545h5v5h-5zM115 550h5v5h-5zM115 555h5v5h-5zM110 560h10v5h-10zM135 560h5v5h-5zM110 565h10v5h-10zM135 565h5v5h-5zM110 570h10v5h-10zM135 570h5v5h-5zM110 575h10v5h-10zM135 575h5v5h-5z"/>
<path fill="rgb(180,180,180)" d="M605 40h5v5h-5zM605 60h5v5h-5zM605 65h5v5h-5zM385 70h5v5h-5zM610 70h5v5h-5zM385 75h5v5h-5zM610 75h5v5h-5zM615 85h5v5h-5zM450 90h5v5h-5zM615 90h5v5h-5zM450 95h10v5h-10zM615 95h5v5h-5zM450 100h10v5h-10zM615 100h5v5h-5zM450 105h10v5h-10zM615 105h5v5h-5zM615 110h5v5h-5zM615 115h5v5h-5zM620 120h5v5h-5zM625 130h5v5h-5zM630 140h5v5h-5zM545 150h5v5h-5zM580 150h5v5h-5zM635 150h5v5h-5zM645 155h5v5h-5zM580 160h5v5h-5zM545 165h5v5h-5zM545 225h10v5h-10zM535 230h5v5h-5zM545 240h10v5h-10zM485 280h5v5h-5zM455 285h5v5h-5zM430 295h5v5h-5zM490 295h5v5h-5zM420 300h5v5h-5zM495 305h5v5h-5zM505 315h5v5h-5zM400 330h5v5h-5zM550 335h5v5h-5zM555 340h5v5h-5zM560 345h5v5h-5zM170 375h5v5h-5zM585 375h5v5h-5zM175 380h5v5h-5zM595 380h5v5h-5zM140 390h5v5h-5zM180 390h5v5h-5zM615 390h5v5h-5zM140 395h5v5h-5zM635 395h10v5h-10zM140 420h5v5h-5zM300 420h5v5h-5zM295 425h5v5h-5zM290 430h5v5h-5zM180 435h5v5h-5zM140 455h5v5h-5zM170 455h5v5h-5zM140 460h10v5h-10zM250 460h5v5h-5zM145 465h10v5h-10zM165 465h5v5h-5zM150 470h15v5h-15zM235 470h5v5h-5zM230 475h5v5h-5zM225 480h5v5h-5zM170 485h15v5h-15zM220 485h5v5h-5zM165 490h5v5h-5zM195 490h20v5h-20zM160 495h5v5h-5zM155 500h5v5h-5zM150 505h5v5h-5zM140 510h5v5h-5zM110 515h5v5h-5zM135 515h5v5h-5zM110 520h30v5h-30zM115 525h20v5h-20zM120 530h15v5h-15zM125 535h5v5h-5zM125 540h5v5h-5zM125 545h5v5h-5zM120 550h15v5h-15zM120 555h15v5h-15zM120 560h15v5h-15zM120 565h15v5h-15zM120 570h15v5h-15zM120 575h15v5h-15z"/>
<path fill="rgb(181,181,181)" d="M385 40h10v5h-10zM435 40h60v5h-60zM600 40h5v5h-5zM385 45h10v5h-10zM435 45h60v5h-60zM600 45h5v5h-5zM385 50h10v5h-10zM435 50h60v5h-60zM600 50h5v5h-5zM385 55h10v5h-10zM435 55h60v5h-60zM600 55h5v5h-5zM385 60h10v5h-10zM435 60h60v5h-60zM600 60h5v5h-5zM380 65h20v5h-20zM435 65h55v5h-55zM375 70h10v5h-10zM390 70h10v5h-10zM430 70h50v5h-50zM605 70h5v5h-5zM375 75h10v5h-10zM390 75h10v5h-10zM430 75h40v5h-40zM385 80h5v5h-5zM430 80h35v5h-35zM610 80h5v5h-5zM435 85h30v5h-30zM610 85h5v5h-5zM435 90h15v5h-15zM455 90h15v5h-15zM610 90h5v5h-5zM440 95h10v5h-10zM460 95h10v5h-10zM610 95h5v5h-5zM440 100h10v5h-10zM460 100h10v5h-10zM610 100h5v5h-5zM445 105h5v5h-5zM460 105h10v5h-10zM610 105h5v5h-5zM445 110h20v5h-20zM610 110h5v5h-5zM610 115h5v5h-5zM615 120h5v5h-5zM620 125h5v5h-5zM620 130h5v5h-5zM625 135h5v5h-5zM625 140h5v5h-5zM560 145h10v5h-10zM630 145h5v5h-5zM540 150h5v5h-5zM585 150h5v5h-5zM630 150h5v5h-5zM585 155h5v5h-5zM640 155h5v5h-5zM650 160h40v5h-40zM575 165h5v5h-5zM555 225h5v5h-5zM555 240h5v5h-5zM475 270h5v5h-5zM465 275h5v5h-5zM485 275h5v5h-5zM460 280h5v5h-5zM445 290h5v5h-5zM490 290h5v5h-5zM500 310h5v5h-5zM405 315h5v5h-5zM515 320h5v5h-5zM530 325h5v5h-5zM565 350h5v5h-5zM570 360h5v5h-5zM160 370h10v5h-10zM580 370h5v5h-5zM150 375h5v5h-5zM145 380h5v5h-5zM180 385h5v5h-5zM605 385h5v5h-5zM110 400h5v5h-5zM135 400h5v5h-5zM185 400h5v5h-5zM110 405h10v5h-10zM135 405h5v5h-5zM185 405h5v5h-5zM110 410h5v5h-5zM135 410h5v5h-5zM185 410h5v5h-5zM185 415h5v5h-5zM305 415h5v5h-5zM185 420h5v5h-5zM140 425h5v5h-5zM140 430h5v5h-5zM180 440h5v5h-5zM140 445h5v5h-5zM140 450h5v5h-5zM175 450h5v5h-5zM265 450h5v5h-5zM110 455h5v5h-5zM135 455h5v5h-5zM110 460h30v5h-30zM170 460h5v5h-5zM110 465h10v5h-10zM135 465h10v5h-10zM170 465h5v5h-5zM240 465h5v5h-5zM140 470h10v5h-10zM165 470h5v5h-5zM150 475h25v5h-25zM155 480h25v5h-25zM160 485h10v5h-10zM185 485h5v5h-5zM155 490h10v5h-10zM155 495h5v5h-5zM150 500h5v5h-5zM140 505h10v5h-10zM110 510h30v5h-30zM115 515h20v5h-20z"/>
<path fill="rgb(182,182,182)" d="M380 40h5v5h-5zM395 40h5v5h-5zM425 40h10v5h-10zM495 40h10v5h-10zM380 45h5v5h-5zM395 45h5v5h-5zM425 45h10v5h-10zM495 45h10v5h-10zM595 45h5v5h-5zM380 50h5v5h-5zM395 50h5v5h-5zM425 50h10v5h-10zM495 50h10v5h-10zM595 50h5v5h-5zM380 55h5v5h-5zM395 55h5v5h-5zM425 55h10v5h-10zM495 55h10v5h-10zM595 55h5v5h-5zM375 60h10v5h-10zM395 60h5v5h-5zM425 60h10v5h-10zM495 60h5v5h-5zM375 65h5v5h-5zM400 65h5v5h-5zM425 65h10v5h-10zM490 65h10v5h-10zM600 65h5v5h-5zM370 70h5v5h-5zM400 70h5v5h-5zM425 70h5v5h-5zM480 70h20v5h-20zM370 75h5v5h-5zM400 75h5v5h-5zM420 75h10v5h-10zM470 75h20v5h-20zM605 75h5v5h-5zM375 80h10v5h-10zM390 80h15v5h-15zM420 80h10v5h-10zM465 80h15v5h-15zM605 80h5v5h-5zM425 85h10v5h-10zM465 85h10v5h-10zM430 90h5v5h-5zM470 90h5v5h-5zM435 95h5v5h-5zM470 95h5v5h-5zM435 100h5v5h-5zM470 100h5v5h-5zM605 100h5v5h-5zM440 105h5v5h-5zM470 105h5v5h-5zM605 105h5v5h-5zM440 110h5v5h-5zM465 110h5v5h-5zM605 110h5v5h-5zM445 115h25v5h-25zM605 115h5v5h-5zM610 120h5v5h-5zM615 125h5v5h-5zM615 130h5v5h-5zM620 135h5v5h-5zM620 140h5v5h-5zM480 145h15v5h-15zM555 145h5v5h-5zM570 145h15v5h-15zM625 145h5v5h-5zM480 150h15v5h-15zM590 150h5v5h-5zM485 155h10v5h-10zM535 155h5v5h-5zM590 155h5v5h-5zM635 155h5v5h-5zM535 160h5v5h-5zM585 160h5v5h-5zM645 160h5v5h-5zM540 225h5v5h-5zM570 235h5v5h-5zM540 240h5v5h-5zM470 270h5v5h-5zM480 270h10v5h-10zM450 285h5v5h-5zM440 290h5v5h-5zM495 300h5v5h-5zM410 305h5v5h-5zM545 330h5v5h-5zM395 340h5v5h-5zM390 355h5v5h-5zM575 365h5v5h-5zM155 370h5v5h-5zM175 375h5v5h-5zM140 385h5v5h-5zM620 390h5v5h-5zM110 395h10v5h-10zM135 395h5v5h-5zM185 395h5v5h-5zM115 400h10v5h-10zM130 400h5v5h-5zM120 405h15v5h-15zM115 410h20v5h-20zM110 415h10v5h-10zM135 415h5v5h-5zM110 420h5v5h-5zM135 420h5v5h-5zM185 425h5v5h-5zM140 435h5v5h-5zM140 440h5v5h-5zM110 450h10v5h-10zM135 450h5v5h-5zM115 455h20v5h-20zM175 455h5v5h-5zM120 465h15v5h-15zM110 470h30v5h-30zM170 470h5v5h-5zM140 475h10v5h-10zM175 475h5v5h-5zM145 480h10v5h-10zM180 480h5v5h-5zM150 485h10v5h-10zM190 485h5v5h-5zM215 485h5v5h-5zM150 490h5v5h-5zM145 495h10v5h-10zM140 500h10v5h-10zM110 505h30v5h-30z"/>
<path fill="rgb(183,183,183)" d="M375 40h5v5h-5zM400 40h10v5h-10zM420 40h5v5h-5zM505 40h5v5h-5zM595 40h5v5h-5zM375 45h5v5h-5zM400 45h10v5h-10zM420 45h5v5h-5zM505 45h5v5h-5zM375 50h5v5h-5zM400 50h10v5h-10zM420 50h5v5h-5zM505 50h5v5h-5zM375 55h5v5h-5zM400 55h10v5h-10zM420 55h5v5h-5zM505 55h5v5h-5zM400 60h10v5h-10zM415 60h10v5h-10zM500 60h10v5h-10zM595 60h5v5h-5zM370 65h5v5h-5zM405 65h20v5h-20zM500 65h15v5h-15zM595 65h5v5h-5zM365 70h5v5h-5zM405 70h20v5h-20zM500 70h25v5h-25zM600 70h5v5h-5zM365 75h5v5h-5zM405 75h15v5h-15zM490 75h45v5h-45zM600 75h5v5h-5zM370 80h5v5h-5zM405 80h15v5h-15zM480 80h55v5h-55zM390 85h10v5h-10zM415 85h10v5h-10zM475 85h10v5h-10zM515 85h20v5h-20zM605 85h5v5h-5zM420 90h10v5h-10zM475 90h5v5h-5zM605 90h5v5h-5zM425 95h10v5h-10zM475 95h5v5h-5zM605 95h5v5h-5zM430 100h5v5h-5zM475 100h5v5h-5zM435 105h5v5h-5zM600 105h5v5h-5zM470 110h5v5h-5zM600 110h5v5h-5zM440 115h5v5h-5zM470 115h5v5h-5zM600 115h5v5h-5zM445 120h25v5h-25zM605 120h5v5h-5zM610 125h5v5h-5zM610 130h5v5h-5zM615 135h5v5h-5zM480 140h15v5h-15zM615 140h5v5h-5zM475 145h5v5h-5zM495 145h5v5h-5zM545 145h10v5h-10zM585 145h10v5h-10zM620 145h5v5h-5zM475 150h5v5h-5zM495 150h5v5h-5zM535 150h5v5h-5zM595 150h5v5h-5zM625 150h5v5h-5zM480 155h5v5h-5zM495 155h5v5h-5zM530 155h5v5h-5zM630 155h5v5h-5zM640 160h5v5h-5zM540 165h5v5h-5zM555 170h10v5h-10zM560 225h5v5h-5zM570 230h5v5h-5zM560 240h5v5h-5zM465 270h5v5h-5zM460 275h5v5h-5zM455 280h5v5h-5zM490 280h5v5h-5zM490 285h5v5h-5zM425 295h5v5h-5zM415 300h5v5h-5zM520 320h5v5h-5zM400 325h5v5h-5zM535 325h5v5h-5zM555 335h5v5h-5zM560 340h5v5h-5zM570 355h5v5h-5zM150 370h5v5h-5zM170 370h5v5h-5zM145 375h5v5h-5zM590 375h5v5h-5zM140 380h5v5h-5zM180 380h5v5h-5zM110 390h10v5h-10zM135 390h5v5h-5zM185 390h5v5h-5zM120 395h15v5h-15zM125 400h5v5h-5zM190 400h5v5h-5zM190 405h5v5h-5zM190 410h5v5h-5zM345 410h5v5h-5zM120 415h15v5h-15zM115 420h10v5h-10zM130 420h5v5h-5zM110 425h10v5h-10zM135 425h5v5h-5zM110 430h5v5h-5zM135 430h5v5h-5zM185 430h5v5h-5zM110 440h5v5h-5zM135 440h5v5h-5zM275 440h5v5h-5zM110 445h15v5h-15zM130 445h10v5h-10zM180 445h5v5h-5zM270 445h5v5h-5zM120 450h15v5h-15zM255 455h5v5h-5zM175 460h5v5h-5zM245 460h5v5h-5zM175 465h5v5h-5zM175 470h5v5h-5zM110 475h30v5h-30zM110 480h35v5h-35zM185 480h5v5h-5zM220 480h5v5h-5zM140 485h10v5h-10zM195 485h5v5h-5zM140 490h10v5h-10zM110 495h35v5h-35zM110 500h30v5h-30z"/>
<path fill="rgb(184,184,184)" d="M370 40h5v5h-5zM410 40h10v5h-10zM510 40h15v5h-15zM590 40h5v5h-5zM370 45h5v5h-5zM410 45h10v5h-10zM510 45h10v5h-10zM590 45h5v5h-5zM370 50h5v5h-5zM410 50h10v5h-10zM510 50h10v5h-10zM590 50h5v5h-5zM370 55h5v5h-5zM410 55h10v5h-10zM510 55h10v5h-10zM590 55h5v5h-5zM370 60h5v5h-5zM410 60h5v5h-5zM510 60h15v5h-15zM590 60h5v5h-5zM365 65h5v5h-5zM515 65h15v5h-15zM360 70h5v5h-5zM525 70h10v5h-10zM595 70h5v5h-5zM360 75h5v5h-5zM535 75h5v5h-5zM365 80h5v5h-5zM535 80h5v5h-5zM600 80h5v5h-5zM380 85h10v5h-10zM400 85h15v5h-15zM485 85h30v5h-30zM535 85h10v5h-10zM600 85h5v5h-5zM415 90h5v5h-5zM480 90h10v5h-10zM510 90h30v5h-30zM600 90h5v5h-5zM420 95h5v5h-5zM480 95h5v5h-5zM600 95h5v5h-5zM425 100h5v5h-5zM600 100h5v5h-5zM430 105h5v5h-5zM475 105h5v5h-5zM435 110h5v5h-5zM475 110h5v5h-5zM595 110h5v5h-5zM435 115h5v5h-5zM475 115h5v5h-5zM595 115h5v5h-5zM440 120h5v5h-5zM470 120h10v5h-10zM600 120h5v5h-5zM445 125h35v5h-35zM600 125h10v5h-10zM475 130h15v5h-15zM605 130h5v5h-5zM475 135h20v5h-20zM605 135h10v5h-10zM475 140h5v5h-5zM495 140h5v5h-5zM595 140h20v5h-20zM500 145h5v5h-5zM540 145h5v5h-5zM595 145h25v5h-25zM500 150h5v5h-5zM530 150h5v5h-5zM600 150h5v5h-5zM615 150h10v5h-10zM475 155h5v5h-5zM500 155h5v5h-5zM525 155h5v5h-5zM595 155h5v5h-5zM625 155h5v5h-5zM480 160h20v5h-20zM530 160h5v5h-5zM590 160h5v5h-5zM635 160h5v5h-5zM580 165h5v5h-5zM650 165h40v5h-40zM550 170h5v5h-5zM565 170h5v5h-5zM645 225h5v5h-5zM530 235h5v5h-5zM535 240h5v5h-5zM490 270h5v5h-5zM490 275h5v5h-5zM445 285h5v5h-5zM435 290h5v5h-5zM500 305h5v5h-5zM405 310h5v5h-5zM510 315h5v5h-5zM550 330h5v5h-5zM565 345h5v5h-5zM160 365h10v5h-10zM385 365h5v5h-5zM175 370h5v5h-5zM180 375h5v5h-5zM600 380h5v5h-5zM110 385h10v5h-10zM135 385h5v5h-5zM185 385h5v5h-5zM375 385h5v5h-5zM610 385h5v5h-5zM120 390h15v5h-15zM625 390h5v5h-5zM190 395h5v5h-5zM310 410h10v5h-10zM190 415h5v5h-5zM300 415h5v5h-5zM125 420h5v5h-5zM120 425h15v5h-15zM115 430h10v5h-10zM130 430h5v5h-5zM110 435h10v5h-10zM135 435h5v5h-5zM185 435h5v5h-5zM280 435h5v5h-5zM115 440h20v5h-20zM125 445h5v5h-5zM180 450h5v5h-5zM235 465h5v5h-5zM230 470h5v5h-5zM180 475h5v5h-5zM225 475h5v5h-5zM110 485h30v5h-30zM200 485h15v5h-15zM110 490h30v5h-30z"/>
<path fill="rgb(185,185,185)" d="M365 40h5v5h-5zM525 40h10v5h-10zM365 45h5v5h-5zM520 45h10v5h-10zM520 50h10v5h-10zM365 55h5v5h-5zM520 55h10v5h-10zM365 60h5v5h-5zM525 60h10v5h-10zM360 65h5v5h-5zM530 65h5v5h-5zM590 65h5v5h-5zM355 70h5v5h-5zM535 70h5v5h-5zM350 75h10v5h-10zM540 75h5v5h-5zM595 75h5v5h-5zM360 80h5v5h-5zM540 80h5v5h-5zM375 85h5v5h-5zM545 85h5v5h-5zM405 90h10v5h-10zM490 90h20v5h-20zM540 90h5v5h-5zM415 95h5v5h-5zM485 95h10v5h-10zM510 95h30v5h-30zM480 100h5v5h-5zM595 100h5v5h-5zM480 105h5v5h-5zM595 105h5v5h-5zM430 110h5v5h-5zM480 110h5v5h-5zM590 110h5v5h-5zM480 115h5v5h-5zM590 115h5v5h-5zM435 120h5v5h-5zM480 120h5v5h-5zM595 120h5v5h-5zM440 125h5v5h-5zM480 125h10v5h-10zM595 125h5v5h-5zM445 130h30v5h-30zM490 130h5v5h-5zM600 130h5v5h-5zM470 135h5v5h-5zM495 135h5v5h-5zM595 135h10v5h-10zM470 140h5v5h-5zM500 140h5v5h-5zM570 140h25v5h-25zM470 145h5v5h-5zM505 145h5v5h-5zM535 145h5v5h-5zM470 150h5v5h-5zM505 150h10v5h-10zM520 150h10v5h-10zM605 150h10v5h-10zM470 155h5v5h-5zM505 155h20v5h-20zM600 155h5v5h-5zM620 155h5v5h-5zM475 160h5v5h-5zM500 160h5v5h-5zM525 160h5v5h-5zM630 160h5v5h-5zM535 165h5v5h-5zM640 165h10v5h-10zM535 225h5v5h-5zM640 225h5v5h-5zM530 230h5v5h-5zM565 240h5v5h-5zM475 265h15v5h-15zM460 270h5v5h-5zM455 275h5v5h-5zM450 280h5v5h-5zM420 295h5v5h-5zM495 295h5v5h-5zM505 310h5v5h-5zM400 320h5v5h-5zM525 320h5v5h-5zM540 325h5v5h-5zM395 335h5v5h-5zM390 350h5v5h-5zM575 360h5v5h-5zM155 365h5v5h-5zM170 365h5v5h-5zM145 370h5v5h-5zM585 370h5v5h-5zM140 375h5v5h-5zM380 375h5v5h-5zM110 380h10v5h-10zM135 380h5v5h-5zM185 380h5v5h-5zM120 385h15v5h-15zM190 385h5v5h-5zM190 390h5v5h-5zM195 395h5v5h-5zM195 400h5v5h-5zM195 405h5v5h-5zM355 405h5v5h-5zM195 410h5v5h-5zM305 410h5v5h-5zM320 410h5v5h-5zM190 420h5v5h-5zM295 420h5v5h-5zM190 425h5v5h-5zM290 425h5v5h-5zM125 430h5v5h-5zM285 430h5v5h-5zM120 435h15v5h-15zM185 440h5v5h-5zM180 455h5v5h-5zM180 465h5v5h-5zM180 470h5v5h-5zM185 475h5v5h-5zM190 480h5v5h-5z"/>
<path fill="rgb(186,186,186)" d="M360 40h5v5h-5zM535 40h5v5h-5zM585 40h5v5h-5zM530 45h10v5h-10zM585 45h5v5h-5zM365 50h5v5h-5zM530 50h5v5h-5zM585 50h5v5h-5zM530 55h10v5h-10zM585 55h5v5h-5zM360 60h5v5h-5zM535 60h5v5h-5zM585 60h5v5h-5zM355 65h5v5h-5zM535 65h5v5h-5zM345 70h10v5h-10zM540 70h5v5h-5zM590 70h5v5h-5zM320 75h30v5h-30zM545 75h5v5h-5zM350 80h10v5h-10zM545 80h5v5h-5zM595 80h5v5h-5zM370 85h5v5h-5zM595 85h5v5h-5zM390 90h15v5h-15zM545 90h5v5h-5zM595 90h5v5h-5zM410 95h5v5h-5zM495 95h15v5h-15zM540 95h10v5h-10zM595 95h5v5h-5zM420 100h5v5h-5zM485 100h10v5h-10zM515 100h25v5h-25zM590 100h5v5h-5zM425 105h5v5h-5zM485 105h5v5h-5zM585 105h10v5h-10zM485 110h5v5h-5zM585 110h5v5h-5zM430 115h5v5h-5zM485 115h5v5h-5zM585 115h5v5h-5zM485 120h5v5h-5zM590 120h5v5h-5zM435 125h5v5h-5zM490 125h5v5h-5zM590 125h5v5h-5zM440 130h5v5h-5zM495 130h5v5h-5zM590 130h10v5h-10zM445 135h25v5h-25zM585 135h10v5h-10zM465 140h5v5h-5zM545 140h25v5h-25zM465 145h5v5h-5zM510 145h5v5h-5zM525 145h10v5h-10zM465 150h5v5h-5zM515 150h5v5h-5zM605 155h15v5h-15zM470 160h5v5h-5zM505 160h20v5h-20zM595 160h5v5h-5zM625 160h5v5h-5zM480 165h15v5h-15zM530 165h5v5h-5zM635 165h5v5h-5zM545 170h5v5h-5zM570 170h5v5h-5zM645 220h5v5h-5zM565 225h5v5h-5zM650 225h5v5h-5zM640 230h5v5h-5zM575 235h5v5h-5zM470 265h5v5h-5zM490 265h5v5h-5zM430 290h5v5h-5zM515 315h5v5h-5zM180 335h10v5h-10zM560 335h5v5h-5zM175 340h15v5h-15zM175 345h10v5h-10zM570 350h5v5h-5zM160 360h15v5h-15zM150 365h5v5h-5zM175 365h5v5h-5zM580 365h5v5h-5zM180 370h5v5h-5zM110 375h5v5h-5zM135 375h5v5h-5zM185 375h5v5h-5zM120 380h15v5h-15zM190 380h5v5h-5zM615 385h5v5h-5zM195 390h5v5h-5zM630 390h5v5h-5zM655 390h35v5h-35zM200 395h5v5h-5zM200 400h5v5h-5zM195 415h5v5h-5zM185 445h5v5h-5zM260 450h5v5h-5zM250 455h5v5h-5zM180 460h5v5h-5zM240 460h5v5h-5zM195 480h5v5h-5zM215 480h5v5h-5z"/>
<path fill="rgb(187,187,187)" d="M355 40h5v5h-5zM540 40h5v5h-5zM360 45h5v5h-5zM360 50h5v5h-5zM535 50h5v5h-5zM360 55h5v5h-5zM355 60h5v5h-5zM540 60h5v5h-5zM345 65h10v5h-10zM540 65h5v5h-5zM585 65h5v5h-5zM310 70h35v5h-35zM545 70h5v5h-5zM585 70h5v5h-5zM310 75h10v5h-10zM590 75h5v5h-5zM310 80h40v5h-40zM550 80h5v5h-5zM590 80h5v5h-5zM360 85h10v5h-10zM550 85h5v5h-5zM385 90h5v5h-5zM550 90h10v5h-10zM590 90h5v5h-5zM405 95h5v5h-5zM550 95h5v5h-5zM590 95h5v5h-5zM415 100h5v5h-5zM495 100h20v5h-20zM540 100h15v5h-15zM585 100h5v5h-5zM280 105h5v5h-5zM420 105h5v5h-5zM490 105h10v5h-10zM530 105h5v5h-5zM580 105h5v5h-5zM425 110h5v5h-5zM490 110h5v5h-5zM580 110h5v5h-5zM490 115h5v5h-5zM580 115h5v5h-5zM430 120h5v5h-5zM490 120h5v5h-5zM580 120h10v5h-10zM495 125h5v5h-5zM585 125h5v5h-5zM435 130h5v5h-5zM500 130h5v5h-5zM585 130h5v5h-5zM440 135h5v5h-5zM500 135h5v5h-5zM575 135h10v5h-10zM445 140h20v5h-20zM505 140h5v5h-5zM530 140h15v5h-15zM460 145h5v5h-5zM515 145h10v5h-10zM460 150h5v5h-5zM465 155h5v5h-5zM465 160h5v5h-5zM600 160h5v5h-5zM620 160h5v5h-5zM475 165h5v5h-5zM495 165h10v5h-10zM525 165h5v5h-5zM585 165h5v5h-5zM540 170h5v5h-5zM655 170h35v5h-35zM640 220h5v5h-5zM650 220h5v5h-5zM635 225h5v5h-5zM575 230h5v5h-5zM635 230h5v5h-5zM645 230h5v5h-5zM465 265h5v5h-5zM495 265h5v5h-5zM495 270h5v5h-5zM440 285h5v5h-5zM495 290h5v5h-5zM410 300h5v5h-5zM530 320h5v5h-5zM545 325h5v5h-5zM180 330h10v5h-10zM555 330h5v5h-5zM175 335h5v5h-5zM190 335h5v5h-5zM170 340h5v5h-5zM565 340h5v5h-5zM170 345h5v5h-5zM185 345h5v5h-5zM170 350h15v5h-15zM165 355h15v5h-15zM155 360h5v5h-5zM175 360h5v5h-5zM180 365h5v5h-5zM140 370h5v5h-5zM185 370h5v5h-5zM115 375h20v5h-20zM190 375h5v5h-5zM595 375h5v5h-5zM195 380h5v5h-5zM605 380h5v5h-5zM195 385h10v5h-10zM200 390h5v5h-5zM635 390h20v5h-20zM205 395h5v5h-5zM205 400h5v5h-5zM200 405h5v5h-5zM200 410h5v5h-5zM325 410h5v5h-5zM340 410h5v5h-5zM190 430h5v5h-5zM185 470h5v5h-5zM190 475h5v5h-5zM220 475h5v5h-5zM200 480h5v5h-5z"/>
<path fill="rgb(188,188,188)" d="M350 40h5v5h-5zM580 40h5v5h-5zM110 45h185v5h-185zM350 45h10v5h-10zM540 45h5v5h-5zM580 45h5v5h-5zM110 50h185v5h-185zM350 50h10v5h-10zM540 50h5v5h-5zM580 50h5v5h-5zM110 55h185v5h-185zM350 55h10v5h-10zM540 55h5v5h-5zM580 55h5v5h-5zM345 60h10v5h-10zM580 60h5v5h-5zM305 65h40v5h-40zM545 65h5v5h-5zM580 65h5v5h-5zM305 70h5v5h-5zM550 70h5v5h-5zM305 75h5v5h-5zM550 75h5v5h-5zM585 75h5v5h-5zM305 80h5v5h-5zM555 80h5v5h-5zM355 85h5v5h-5zM555 85h5v5h-5zM590 85h5v5h-5zM380 90h5v5h-5zM560 90h5v5h-5zM585 90h5v5h-5zM400 95h5v5h-5zM555 95h10v5h-10zM580 95h10v5h-10zM275 100h15v5h-15zM410 100h5v5h-5zM555 100h30v5h-30zM270 105h10v5h-10zM285 105h5v5h-5zM500 105h30v5h-30zM535 105h45v5h-45zM275 110h10v5h-10zM495 110h10v5h-10zM565 110h15v5h-15zM495 115h10v5h-10zM570 115h10v5h-10zM495 120h10v5h-10zM575 120h5v5h-5zM500 125h5v5h-5zM580 125h5v5h-5zM575 130h10v5h-10zM505 135h5v5h-5zM565 135h10v5h-10zM440 140h5v5h-5zM510 140h20v5h-20zM450 145h10v5h-10zM455 150h5v5h-5zM460 155h5v5h-5zM605 160h5v5h-5zM615 160h5v5h-5zM470 165h5v5h-5zM505 165h20v5h-20zM630 165h5v5h-5zM645 170h10v5h-10zM530 240h5v5h-5zM570 240h5v5h-5zM455 270h5v5h-5zM450 275h5v5h-5zM495 275h5v5h-5zM445 280h5v5h-5zM495 280h5v5h-5zM495 285h5v5h-5zM425 290h5v5h-5zM415 295h5v5h-5zM500 300h5v5h-5zM405 305h5v5h-5zM400 315h5v5h-5zM185 325h5v5h-5zM175 330h5v5h-5zM190 330h5v5h-5zM395 330h5v5h-5zM170 335h5v5h-5zM190 340h5v5h-5zM165 345h5v5h-5zM190 345h5v5h-5zM390 345h5v5h-5zM570 345h5v5h-5zM165 350h5v5h-5zM185 350h5v5h-5zM160 355h5v5h-5zM180 355h10v5h-10zM575 355h5v5h-5zM180 360h5v5h-5zM145 365h5v5h-5zM185 365h5v5h-5zM110 370h5v5h-5zM135 370h5v5h-5zM190 370h5v5h-5zM195 375h5v5h-5zM200 380h5v5h-5zM205 385h5v5h-5zM205 390h10v5h-10zM210 395h5v5h-5zM205 405h5v5h-5zM300 410h5v5h-5zM195 420h5v5h-5zM190 435h5v5h-5zM265 445h5v5h-5zM185 450h5v5h-5zM185 455h5v5h-5zM185 465h5v5h-5zM230 465h5v5h-5zM225 470h5v5h-5zM205 480h10v5h-10z"/>
<path fill="rgb(189,189,189)" d="M110 40h240v5h-240zM545 40h5v5h-5zM575 40h5v5h-5zM295 45h55v5h-55zM545 45h5v5h-5zM575 45h5v5h-5zM295 50h55v5h-55zM545 50h5v5h-5zM575 50h5v5h-5zM295 55h55v5h-55zM545 55h5v5h-5zM575 55h5v5h-5zM110 60h235v5h-235zM545 60h5v5h-5zM575 60h5v5h-5zM110 65h195v5h-195zM550 65h5v5h-5zM575 65h5v5h-5zM295 70h10v5h-10zM580 70h5v5h-5zM300 75h5v5h-5zM555 75h5v5h-5zM580 75h5v5h-5zM300 80h5v5h-5zM560 80h5v5h-5zM580 80h10v5h-10zM300 85h30v5h-30zM350 85h5v5h-5zM560 85h10v5h-10zM580 85h10v5h-10zM375 90h5v5h-5zM565 90h20v5h-20zM275 95h15v5h-15zM395 95h5v5h-5zM565 95h15v5h-15zM265 100h10v5h-10zM290 100h5v5h-5zM265 105h5v5h-5zM290 105h5v5h-5zM415 105h5v5h-5zM270 110h5v5h-5zM285 110h5v5h-5zM420 110h5v5h-5zM505 110h60v5h-60zM425 115h5v5h-5zM505 115h10v5h-10zM560 115h10v5h-10zM505 120h5v5h-5zM570 120h5v5h-5zM430 125h5v5h-5zM505 125h5v5h-5zM570 125h10v5h-10zM505 130h10v5h-10zM570 130h5v5h-5zM435 135h5v5h-5zM510 135h55v5h-55zM445 145h5v5h-5zM450 150h5v5h-5zM455 155h5v5h-5zM460 160h5v5h-5zM610 160h5v5h-5zM465 165h5v5h-5zM590 165h5v5h-5zM625 165h5v5h-5zM475 170h20v5h-20zM535 170h5v5h-5zM575 170h5v5h-5zM640 170h5v5h-5zM545 220h15v5h-15zM635 220h5v5h-5zM655 220h5v5h-5zM570 225h5v5h-5zM655 225h5v5h-5zM650 230h5v5h-5zM480 260h20v5h-20zM460 265h5v5h-5zM500 265h5v5h-5zM435 285h5v5h-5zM505 305h5v5h-5zM510 310h5v5h-5zM520 315h5v5h-5zM535 320h5v5h-5zM180 325h5v5h-5zM190 325h5v5h-5zM550 325h5v5h-5zM195 335h5v5h-5zM165 340h5v5h-5zM195 340h5v5h-5zM160 350h5v5h-5zM190 350h5v5h-5zM155 355h5v5h-5zM190 355h5v5h-5zM150 360h5v5h-5zM185 360h10v5h-10zM385 360h5v5h-5zM580 360h5v5h-5zM140 365h5v5h-5zM190 365h5v5h-5zM115 370h20v5h-20zM195 370h10v5h-10zM590 370h5v5h-5zM200 375h15v5h-15zM205 380h10v5h-10zM210 385h5v5h-5zM620 385h5v5h-5zM370 390h5v5h-5zM210 400h5v5h-5zM360 400h5v5h-5zM205 410h5v5h-5zM330 410h10v5h-10zM200 415h5v5h-5zM295 415h5v5h-5zM195 425h5v5h-5zM190 440h5v5h-5zM270 440h5v5h-5zM245 455h5v5h-5zM185 460h5v5h-5zM235 460h5v5h-5zM190 470h5v5h-5zM195 475h5v5h-5z"/>
<path fill="rgb(190,190,190)" d="M550 40h5v5h-5zM570 40h5v5h-5zM550 45h5v5h-5zM570 45h5v5h-5zM550 50h5v5h-5zM570 50h5v5h-5zM550 55h5v5h-5zM570 55h5v5h-5zM550 60h5v5h-5zM570 60h5v5h-5zM555 65h5v5h-5zM570 65h5v5h-5zM110 70h185v5h-185zM555 70h10v5h-10zM570 70h10v5h-10zM290 75h10v5h-10zM560 75h20v5h-20zM295 80h5v5h-5zM565 80h15v5h-15zM295 85h5v5h-5zM330 85h20v5h-20zM570 85h10v5h-10zM285 90h20v5h-20zM370 90h5v5h-5zM110 95h130v5h-130zM260 95h15v5h-15zM290 95h5v5h-5zM390 95h5v5h-5zM110 100h155v5h-155zM405 100h5v5h-5zM110 105h135v5h-135zM260 105h5v5h-5zM265 110h5v5h-5zM290 110h5v5h-5zM515 115h45v5h-45zM425 120h5v5h-5zM510 120h60v5h-60zM510 125h60v5h-60zM430 130h5v5h-5zM515 130h55v5h-55zM435 140h5v5h-5zM440 145h5v5h-5zM445 150h5v5h-5zM450 155h5v5h-5zM455 160h5v5h-5zM460 165h5v5h-5zM595 165h5v5h-5zM470 170h5v5h-5zM495 170h5v5h-5zM530 170h5v5h-5zM635 170h5v5h-5zM645 215h10v5h-10zM540 220h5v5h-5zM530 225h5v5h-5zM630 225h5v5h-5zM630 230h5v5h-5zM525 235h5v5h-5zM580 235h5v5h-5zM635 235h10v5h-10zM475 260h5v5h-5zM500 260h5v5h-5zM500 270h5v5h-5zM440 280h5v5h-5zM400 310h5v5h-5zM185 320h10v5h-10zM175 325h5v5h-5zM195 325h5v5h-5zM395 325h5v5h-5zM170 330h5v5h-5zM195 330h5v5h-5zM560 330h5v5h-5zM565 335h5v5h-5zM390 340h5v5h-5zM160 345h5v5h-5zM195 345h5v5h-5zM195 350h5v5h-5zM575 350h5v5h-5zM195 355h5v5h-5zM195 360h5v5h-5zM195 365h20v5h-20zM585 365h5v5h-5zM205 370h15v5h-15zM215 375h10v5h-10zM600 375h5v5h-5zM215 380h5v5h-5zM610 380h5v5h-5zM215 385h5v5h-5zM215 390h5v5h-5zM215 395h5v5h-5zM365 395h5v5h-5zM210 405h5v5h-5zM305 405h10v5h-10zM290 420h5v5h-5zM285 425h5v5h-5zM280 430h5v5h-5zM275 435h5v5h-5zM255 450h5v5h-5zM215 475h5v5h-5z"/>
<path fill="rgb(191,191,191)" d="M555 40h15v5h-15zM555 45h15v5h-15zM555 50h15v5h-15zM555 55h15v5h-15zM555 60h15v5h-15zM560 65h10v5h-10zM565 70h5v5h-5zM110 75h180v5h-180zM110 80h160v5h-160zM285 80h10v5h-10zM110 85h160v5h-160zM285 85h10v5h-10zM110 90h175v5h-175zM305 90h10v5h-10zM365 90h5v5h-5zM240 95h20v5h-20zM295 95h5v5h-5zM295 100h5v5h-5zM245 105h15v5h-15zM410 105h5v5h-5zM110 110h135v5h-135zM260 110h5v5h-5zM415 110h5v5h-5zM275 115h15v5h-15zM420 115h5v5h-5zM440 150h5v5h-5zM445 155h5v5h-5zM450 160h5v5h-5zM455 165h5v5h-5zM620 165h5v5h-5zM460 170h10v5h-10zM500 170h10v5h-10zM520 170h10v5h-10zM580 170h5v5h-5zM630 170h5v5h-5zM555 175h5v5h-5zM645 175h45v5h-45zM460 200h15v5h-15zM460 205h15v5h-15zM640 215h5v5h-5zM655 215h5v5h-5zM560 220h5v5h-5zM660 220h5v5h-5zM525 230h5v5h-5zM580 230h5v5h-5zM655 230h5v5h-5zM645 235h5v5h-5zM525 240h5v5h-5zM470 260h5v5h-5zM505 260h5v5h-5zM455 265h5v5h-5zM450 270h5v5h-5zM445 275h5v5h-5zM430 285h5v5h-5zM420 290h5v5h-5zM410 295h5v5h-5zM405 300h5v5h-5zM190 315h5v5h-5zM525 315h5v5h-5zM180 320h5v5h-5zM195 320h5v5h-5zM540 320h5v5h-5zM165 335h5v5h-5zM200 340h5v5h-5zM570 340h5v5h-5zM200 345h5v5h-5zM155 350h5v5h-5zM200 350h5v5h-5zM200 355h5v5h-5zM145 360h5v5h-5zM200 360h15v5h-15zM110 365h15v5h-15zM130 365h10v5h-10zM215 365h10v5h-10zM220 370h10v5h-10zM380 370h5v5h-5zM225 375h5v5h-5zM220 380h5v5h-5zM220 385h5v5h-5zM625 385h5v5h-5zM220 390h5v5h-5zM215 400h5v5h-5zM315 405h5v5h-5zM210 410h5v5h-5zM205 415h5v5h-5zM200 420h5v5h-5zM195 430h5v5h-5zM190 445h5v5h-5zM240 455h5v5h-5zM190 465h5v5h-5zM225 465h5v5h-5zM220 470h5v5h-5zM200 475h5v5h-5z"/>
<path fill="rgb(192,192,192)" d="M270 80h15v5h-15zM270 85h15v5h-15zM315 90h5v5h-5zM360 90h5v5h-5zM300 95h5v5h-5zM385 95h5v5h-5zM400 100h5v5h-5zM295 105h5v5h-5zM245 110h15v5h-15zM270 115h5v5h-5zM290 115h5v5h-5zM425 125h5v5h-5zM430 135h5v5h-5zM435 145h5v5h-5zM445 160h5v5h-5zM450 165h5v5h-5zM600 165h10v5h-10zM615 165h5v5h-5zM455 170h5v5h-5zM510 170h10v5h-10zM465 175h25v5h-25zM545 175h10v5h-10zM560 175h5v5h-5zM640 175h5v5h-5zM455 195h20v5h-20zM455 200h5v5h-5zM475 200h5v5h-5zM455 205h5v5h-5zM475 205h5v5h-5zM535 220h5v5h-5zM660 225h5v5h-5zM630 235h5v5h-5zM575 240h5v5h-5zM535 245h20v5h-20zM495 255h15v5h-15zM465 260h5v5h-5zM505 265h5v5h-5zM235 270h10v5h-10zM230 275h5v5h-5zM500 275h5v5h-5zM500 295h5v5h-5zM195 310h5v5h-5zM515 310h5v5h-5zM185 315h5v5h-5zM195 315h5v5h-5zM200 320h5v5h-5zM200 325h5v5h-5zM555 325h5v5h-5zM200 330h5v5h-5zM200 335h5v5h-5zM160 340h5v5h-5zM575 345h5v5h-5zM205 350h5v5h-5zM150 355h5v5h-5zM205 355h10v5h-10zM385 355h5v5h-5zM580 355h5v5h-5zM140 360h5v5h-5zM215 360h15v5h-15zM125 365h5v5h-5zM225 365h10v5h-10zM230 370h5v5h-5zM595 370h5v5h-5zM225 380h5v5h-5zM375 380h5v5h-5zM225 385h5v5h-5zM220 395h5v5h-5zM215 405h5v5h-5zM350 405h5v5h-5zM195 435h5v5h-5zM190 450h5v5h-5zM250 450h5v5h-5zM190 455h5v5h-5zM190 460h5v5h-5zM230 460h5v5h-5zM195 470h5v5h-5zM205 475h10v5h-10z"/>
<path fill="rgb(193,193,193)" d="M320 90h5v5h-5zM355 90h5v5h-5zM305 95h5v5h-5zM380 95h5v5h-5zM300 100h5v5h-5zM395 100h5v5h-5zM405 105h5v5h-5zM295 110h5v5h-5zM110 115h130v5h-130zM260 115h10v5h-10zM420 120h5v5h-5zM430 140h5v5h-5zM440 155h5v5h-5zM445 165h5v5h-5zM610 165h5v5h-5zM450 170h5v5h-5zM585 170h5v5h-5zM625 170h5v5h-5zM455 175h10v5h-10zM490 175h10v5h-10zM535 175h10v5h-10zM565 175h5v5h-5zM635 175h5v5h-5zM455 190h20v5h-20zM450 195h5v5h-5zM475 195h5v5h-5zM450 200h5v5h-5zM480 200h5v5h-5zM480 205h5v5h-5zM465 210h10v5h-10zM635 215h5v5h-5zM660 215h5v5h-5zM630 220h5v5h-5zM575 225h5v5h-5zM625 230h5v5h-5zM585 235h5v5h-5zM650 235h5v5h-5zM530 245h5v5h-5zM490 255h5v5h-5zM235 265h15v5h-15zM225 270h10v5h-10zM245 270h5v5h-5zM220 275h10v5h-10zM235 275h10v5h-10zM215 280h20v5h-20zM435 280h5v5h-5zM215 285h10v5h-10zM425 285h5v5h-5zM415 290h5v5h-5zM195 305h10v5h-10zM400 305h5v5h-5zM190 310h5v5h-5zM200 310h5v5h-5zM200 315h5v5h-5zM175 320h5v5h-5zM395 320h5v5h-5zM545 320h5v5h-5zM170 325h5v5h-5zM165 330h5v5h-5zM565 330h5v5h-5zM390 335h5v5h-5zM570 335h5v5h-5zM155 345h5v5h-5zM205 345h5v5h-5zM210 350h5v5h-5zM215 355h10v5h-10zM230 360h5v5h-5zM235 365h5v5h-5zM235 370h5v5h-5zM230 375h5v5h-5zM605 375h5v5h-5zM230 380h5v5h-5zM615 380h5v5h-5zM630 385h5v5h-5zM225 390h5v5h-5zM220 400h5v5h-5zM300 405h5v5h-5zM295 410h5v5h-5zM200 425h5v5h-5zM260 445h5v5h-5z"/>
<path fill="rgb(194,194,194)" d="M325 90h10v5h-10zM350 90h5v5h-5zM375 95h5v5h-5zM410 110h5v5h-5zM240 115h20v5h-20zM415 115h5v5h-5zM275 120h15v5h-15zM425 130h5v5h-5zM435 150h5v5h-5zM440 160h5v5h-5zM445 170h5v5h-5zM450 175h5v5h-5zM500 175h5v5h-5zM530 175h5v5h-5zM450 180h35v5h-35zM645 180h45v5h-45zM450 185h25v5h-25zM450 190h5v5h-5zM475 190h5v5h-5zM480 195h5v5h-5zM450 205h5v5h-5zM460 210h5v5h-5zM475 210h5v5h-5zM645 210h15v5h-15zM665 215h5v5h-5zM565 220h5v5h-5zM665 220h5v5h-5zM525 225h5v5h-5zM625 225h5v5h-5zM665 225h5v5h-5zM660 230h5v5h-5zM625 235h5v5h-5zM525 245h5v5h-5zM555 245h5v5h-5zM485 255h5v5h-5zM510 255h5v5h-5zM460 260h5v5h-5zM510 260h5v5h-5zM230 265h5v5h-5zM250 265h5v5h-5zM450 265h5v5h-5zM250 270h5v5h-5zM445 270h5v5h-5zM215 275h5v5h-5zM440 275h5v5h-5zM235 280h5v5h-5zM500 280h5v5h-5zM210 285h5v5h-5zM225 285h5v5h-5zM205 290h20v5h-20zM500 290h5v5h-5zM205 295h10v5h-10zM195 300h15v5h-15zM505 300h5v5h-5zM190 305h5v5h-5zM205 305h5v5h-5zM510 305h5v5h-5zM185 310h5v5h-5zM180 315h5v5h-5zM530 315h5v5h-5zM205 330h5v5h-5zM160 335h5v5h-5zM205 335h5v5h-5zM205 340h5v5h-5zM210 345h5v5h-5zM150 350h5v5h-5zM215 350h5v5h-5zM385 350h5v5h-5zM145 355h5v5h-5zM225 355h10v5h-10zM110 360h15v5h-15zM135 360h5v5h-5zM235 360h5v5h-5zM585 360h5v5h-5zM590 365h5v5h-5zM235 375h5v5h-5zM230 385h5v5h-5zM635 385h10v5h-10zM650 385h40v5h-40zM225 395h5v5h-5zM220 405h5v5h-5zM320 405h5v5h-5zM215 410h5v5h-5zM210 415h5v5h-5zM290 415h5v5h-5zM205 420h5v5h-5zM285 420h5v5h-5zM195 440h5v5h-5zM235 455h5v5h-5zM195 465h5v5h-5zM200 470h5v5h-5zM215 470h5v5h-5z"/>
<path fill="rgb(195,195,195)" d="M335 90h15v5h-15zM310 95h5v5h-5zM390 100h5v5h-5zM300 105h5v5h-5zM400 105h5v5h-5zM295 115h5v5h-5zM270 120h5v5h-5zM290 120h5v5h-5zM430 145h5v5h-5zM435 155h5v5h-5zM440 165h5v5h-5zM590 170h5v5h-5zM620 170h5v5h-5zM445 175h5v5h-5zM505 175h25v5h-25zM570 175h5v5h-5zM630 175h5v5h-5zM445 180h5v5h-5zM485 180h5v5h-5zM640 180h5v5h-5zM445 185h5v5h-5zM475 185h10v5h-10zM445 190h5v5h-5zM480 190h5v5h-5zM445 195h5v5h-5zM445 200h5v5h-5zM485 200h5v5h-5zM485 205h5v5h-5zM455 210h5v5h-5zM480 210h5v5h-5zM660 210h5v5h-5zM670 215h5v5h-5zM530 220h5v5h-5zM670 220h5v5h-5zM585 230h5v5h-5zM520 235h5v5h-5zM655 235h5v5h-5zM520 240h5v5h-5zM580 240h5v5h-5zM635 240h10v5h-10zM560 245h5v5h-5zM480 255h5v5h-5zM225 265h5v5h-5zM255 265h5v5h-5zM220 270h5v5h-5zM505 270h5v5h-5zM245 275h5v5h-5zM210 280h5v5h-5zM240 280h5v5h-5zM430 280h5v5h-5zM205 285h5v5h-5zM230 285h5v5h-5zM420 285h5v5h-5zM500 285h5v5h-5zM200 290h5v5h-5zM225 290h5v5h-5zM410 290h5v5h-5zM200 295h5v5h-5zM215 295h5v5h-5zM405 295h5v5h-5zM210 300h5v5h-5zM205 310h5v5h-5zM205 315h5v5h-5zM395 315h5v5h-5zM205 320h5v5h-5zM550 320h5v5h-5zM205 325h5v5h-5zM560 325h5v5h-5zM390 330h5v5h-5zM155 340h5v5h-5zM575 340h5v5h-5zM220 350h10v5h-10zM580 350h5v5h-5zM235 355h5v5h-5zM125 360h10v5h-10zM240 360h5v5h-5zM240 365h5v5h-5zM240 370h5v5h-5zM235 380h5v5h-5zM645 385h5v5h-5zM230 390h5v5h-5zM225 400h5v5h-5zM280 425h5v5h-5zM200 430h5v5h-5zM275 430h5v5h-5zM270 435h5v5h-5zM265 440h5v5h-5zM195 445h5v5h-5zM245 450h5v5h-5zM225 460h5v5h-5zM220 465h5v5h-5zM205 470h10v5h-10z"/>
<path fill="rgb(196,196,196)" d="M315 95h5v5h-5zM370 95h5v5h-5zM305 100h5v5h-5zM300 110h5v5h-5zM405 110h5v5h-5zM110 120h140v5h-140zM255 120h15v5h-15zM420 125h5v5h-5zM425 135h5v5h-5zM435 160h5v5h-5zM440 170h5v5h-5zM595 170h5v5h-5zM615 170h5v5h-5zM440 175h5v5h-5zM490 180h10v5h-10zM635 180h5v5h-5zM485 185h5v5h-5zM650 185h40v5h-40zM485 195h5v5h-5zM445 205h5v5h-5zM450 210h5v5h-5zM485 210h5v5h-5zM640 210h5v5h-5zM665 210h25v5h-25zM540 215h15v5h-15zM675 215h15v5h-15zM675 220h15v5h-15zM670 225h20v5h-20zM520 230h5v5h-5zM620 230h5v5h-5zM665 230h5v5h-5zM630 240h5v5h-5zM645 240h5v5h-5zM520 245h5v5h-5zM500 250h20v5h-20zM475 255h5v5h-5zM515 255h5v5h-5zM235 260h20v5h-20zM455 260h5v5h-5zM510 265h5v5h-5zM215 270h5v5h-5zM255 270h5v5h-5zM210 275h5v5h-5zM250 275h5v5h-5zM435 275h5v5h-5zM205 280h5v5h-5zM235 285h5v5h-5zM195 295h5v5h-5zM220 295h5v5h-5zM190 300h5v5h-5zM215 300h5v5h-5zM400 300h5v5h-5zM185 305h5v5h-5zM210 305h5v5h-5zM180 310h5v5h-5zM210 310h5v5h-5zM520 310h5v5h-5zM175 315h5v5h-5zM535 315h5v5h-5zM170 320h5v5h-5zM165 325h5v5h-5zM160 330h5v5h-5zM570 330h5v5h-5zM210 335h5v5h-5zM210 340h5v5h-5zM215 345h5v5h-5zM385 345h5v5h-5zM230 350h5v5h-5zM140 355h5v5h-5zM240 355h5v5h-5zM245 360h5v5h-5zM245 365h5v5h-5zM380 365h5v5h-5zM600 370h5v5h-5zM240 375h5v5h-5zM610 375h5v5h-5zM620 380h5v5h-5zM235 385h5v5h-5zM230 395h5v5h-5zM305 400h10v5h-10zM295 405h5v5h-5zM220 410h5v5h-5zM215 415h5v5h-5zM210 420h5v5h-5zM205 425h5v5h-5zM255 445h5v5h-5zM195 450h5v5h-5zM195 455h5v5h-5zM230 455h5v5h-5zM195 460h5v5h-5z"/>
<path fill="rgb(197,197,197)" d="M365 95h5v5h-5zM385 100h5v5h-5zM395 105h5v5h-5zM410 115h5v5h-5zM250 120h5v5h-5zM295 120h5v5h-5zM415 120h5v5h-5zM425 140h5v5h-5zM430 150h5v5h-5zM435 165h5v5h-5zM600 170h5v5h-5zM610 170h5v5h-5zM575 175h5v5h-5zM625 175h5v5h-5zM440 180h5v5h-5zM500 180h5v5h-5zM545 180h10v5h-10zM440 185h5v5h-5zM490 185h5v5h-5zM645 185h5v5h-5zM440 190h5v5h-5zM485 190h5v5h-5zM440 195h5v5h-5zM440 200h5v5h-5zM490 200h5v5h-5zM490 205h5v5h-5zM645 205h45v5h-45zM535 215h5v5h-5zM555 215h5v5h-5zM630 215h5v5h-5zM625 220h5v5h-5zM580 225h5v5h-5zM670 230h5v5h-5zM680 230h10v5h-10zM590 235h5v5h-5zM620 235h5v5h-5zM650 240h5v5h-5zM515 245h5v5h-5zM565 245h5v5h-5zM495 250h5v5h-5zM520 250h5v5h-5zM470 255h5v5h-5zM230 260h5v5h-5zM255 260h5v5h-5zM220 265h5v5h-5zM260 265h5v5h-5zM445 265h5v5h-5zM440 270h5v5h-5zM245 280h5v5h-5zM425 280h5v5h-5zM200 285h5v5h-5zM415 285h5v5h-5zM195 290h5v5h-5zM230 290h5v5h-5zM190 295h5v5h-5zM215 305h5v5h-5zM395 310h5v5h-5zM210 315h5v5h-5zM210 320h5v5h-5zM210 325h5v5h-5zM390 325h5v5h-5zM565 325h5v5h-5zM210 330h5v5h-5zM575 335h5v5h-5zM215 340h5v5h-5zM385 340h5v5h-5zM150 345h5v5h-5zM220 345h10v5h-10zM580 345h5v5h-5zM145 350h5v5h-5zM235 350h5v5h-5zM110 355h5v5h-5zM135 355h5v5h-5zM245 355h5v5h-5zM585 355h5v5h-5zM595 365h5v5h-5zM245 370h5v5h-5zM240 380h5v5h-5zM300 400h5v5h-5zM225 405h5v5h-5zM325 405h5v5h-5zM345 405h5v5h-5zM290 410h5v5h-5zM200 435h5v5h-5zM240 450h5v5h-5zM200 465h5v5h-5zM215 465h5v5h-5z"/>
<path fill="rgb(198,198,198)" d="M320 95h5v5h-5zM360 95h5v5h-5zM310 100h5v5h-5zM380 100h5v5h-5zM305 105h5v5h-5zM300 115h5v5h-5zM275 125h20v5h-20zM420 130h5v5h-5zM430 155h5v5h-5zM435 170h5v5h-5zM605 170h5v5h-5zM505 180h5v5h-5zM530 180h15v5h-15zM555 180h5v5h-5zM630 180h5v5h-5zM640 185h5v5h-5zM490 190h5v5h-5zM645 190h45v5h-45zM490 195h5v5h-5zM650 195h40v5h-40zM650 200h40v5h-40zM440 205h5v5h-5zM445 210h5v5h-5zM490 210h5v5h-5zM635 210h5v5h-5zM465 215h15v5h-15zM525 220h5v5h-5zM570 220h5v5h-5zM520 225h5v5h-5zM620 225h5v5h-5zM590 230h5v5h-5zM675 230h5v5h-5zM660 235h5v5h-5zM515 240h5v5h-5zM585 240h5v5h-5zM625 240h5v5h-5zM510 245h5v5h-5zM490 250h5v5h-5zM525 250h5v5h-5zM450 260h5v5h-5zM515 260h5v5h-5zM210 270h5v5h-5zM260 270h5v5h-5zM205 275h5v5h-5zM255 275h5v5h-5zM430 275h5v5h-5zM505 275h5v5h-5zM240 285h5v5h-5zM405 290h5v5h-5zM225 295h5v5h-5zM400 295h5v5h-5zM505 295h5v5h-5zM185 300h5v5h-5zM220 300h5v5h-5zM180 305h5v5h-5zM395 305h5v5h-5zM215 310h5v5h-5zM540 315h5v5h-5zM555 320h5v5h-5zM155 335h5v5h-5zM215 335h5v5h-5zM220 340h5v5h-5zM230 345h5v5h-5zM240 350h5v5h-5zM115 355h20v5h-20zM250 360h5v5h-5zM590 360h5v5h-5zM250 365h5v5h-5zM245 375h5v5h-5zM375 375h5v5h-5zM625 380h5v5h-5zM370 385h5v5h-5zM235 390h5v5h-5zM230 400h5v5h-5zM355 400h5v5h-5zM285 415h5v5h-5zM200 440h5v5h-5zM235 450h5v5h-5zM220 460h5v5h-5zM205 465h5v5h-5z"/>
<path fill="rgb(199,199,199)" d="M325 95h5v5h-5zM355 95h5v5h-5zM400 110h5v5h-5zM300 120h5v5h-5zM110 125h165v5h-165zM295 125h5v5h-5zM425 145h5v5h-5zM430 160h5v5h-5zM435 175h5v5h-5zM580 175h5v5h-5zM620 175h5v5h-5zM435 180h5v5h-5zM510 180h20v5h-20zM560 180h5v5h-5zM435 185h5v5h-5zM495 185h5v5h-5zM635 185h5v5h-5zM435 190h5v5h-5zM495 190h5v5h-5zM640 190h5v5h-5zM435 195h5v5h-5zM495 195h5v5h-5zM645 195h5v5h-5zM435 200h5v5h-5zM495 200h5v5h-5zM645 200h5v5h-5zM495 205h5v5h-5zM640 205h5v5h-5zM460 215h5v5h-5zM480 215h10v5h-10zM530 215h5v5h-5zM560 215h5v5h-5zM615 230h5v5h-5zM515 235h5v5h-5zM595 235h5v5h-5zM665 235h5v5h-5zM680 235h10v5h-10zM655 240h5v5h-5zM505 245h5v5h-5zM570 245h5v5h-5zM465 255h5v5h-5zM520 255h5v5h-5zM225 260h5v5h-5zM260 260h5v5h-5zM215 265h5v5h-5zM435 270h5v5h-5zM200 280h5v5h-5zM250 280h5v5h-5zM420 280h5v5h-5zM195 285h5v5h-5zM410 285h5v5h-5zM190 290h5v5h-5zM235 290h5v5h-5zM220 305h5v5h-5zM515 305h5v5h-5zM175 310h5v5h-5zM525 310h5v5h-5zM215 315h5v5h-5zM390 320h5v5h-5zM215 330h5v5h-5zM385 335h5v5h-5zM150 340h5v5h-5zM225 340h5v5h-5zM580 340h5v5h-5zM235 345h5v5h-5zM245 350h5v5h-5zM585 350h5v5h-5zM250 355h5v5h-5zM255 360h5v5h-5zM380 360h5v5h-5zM250 370h5v5h-5zM605 370h5v5h-5zM615 375h5v5h-5zM630 380h5v5h-5zM240 385h5v5h-5zM235 395h5v5h-5zM315 400h5v5h-5zM230 405h5v5h-5zM225 410h5v5h-5zM220 415h5v5h-5zM215 420h5v5h-5zM280 420h5v5h-5zM210 425h5v5h-5zM205 430h5v5h-5zM260 440h5v5h-5zM200 445h5v5h-5zM250 445h5v5h-5zM225 455h5v5h-5zM200 460h5v5h-5zM210 465h5v5h-5z"/>
<path fill="rgb(200,200,200)" d="M330 95h5v5h-5zM350 95h5v5h-5zM375 100h5v5h-5zM390 105h5v5h-5zM305 110h5v5h-5zM405 115h5v5h-5zM410 120h5v5h-5zM300 125h5v5h-5zM415 125h5v5h-5zM420 135h5v5h-5zM430 165h5v5h-5zM565 180h5v5h-5zM500 185h5v5h-5zM640 195h5v5h-5zM640 200h5v5h-5zM435 205h5v5h-5zM635 205h5v5h-5zM440 210h5v5h-5zM495 210h5v5h-5zM545 210h5v5h-5zM455 215h5v5h-5zM585 225h5v5h-5zM595 230h5v5h-5zM615 235h5v5h-5zM670 235h10v5h-10zM590 240h5v5h-5zM485 250h5v5h-5zM530 250h5v5h-5zM460 255h5v5h-5zM220 260h5v5h-5zM265 265h5v5h-5zM440 265h5v5h-5zM510 270h5v5h-5zM425 275h5v5h-5zM415 280h5v5h-5zM400 290h5v5h-5zM185 295h5v5h-5zM230 295h5v5h-5zM225 300h5v5h-5zM395 300h5v5h-5zM510 300h5v5h-5zM170 315h5v5h-5zM545 315h5v5h-5zM165 320h5v5h-5zM215 320h5v5h-5zM560 320h5v5h-5zM160 325h5v5h-5zM215 325h5v5h-5zM570 325h5v5h-5zM155 330h5v5h-5zM575 330h5v5h-5zM220 335h5v5h-5zM230 340h5v5h-5zM145 345h5v5h-5zM240 345h5v5h-5zM140 350h5v5h-5zM255 355h5v5h-5zM255 365h5v5h-5zM245 380h5v5h-5zM660 380h30v5h-30zM240 390h5v5h-5zM305 395h5v5h-5zM235 400h5v5h-5zM295 400h5v5h-5zM290 405h5v5h-5zM330 405h5v5h-5zM340 405h5v5h-5zM275 425h5v5h-5zM270 430h5v5h-5zM265 435h5v5h-5zM245 445h5v5h-5zM200 450h5v5h-5zM200 455h5v5h-5z"/>
<path fill="rgb(201,201,201)" d="M335 95h15v5h-15zM315 100h5v5h-5zM305 115h5v5h-5zM285 130h20v5h-20zM425 150h5v5h-5zM430 170h5v5h-5zM430 175h5v5h-5zM585 175h5v5h-5zM615 175h5v5h-5zM625 180h5v5h-5zM505 185h10v5h-10zM535 185h15v5h-15zM630 185h5v5h-5zM500 190h5v5h-5zM635 190h5v5h-5zM500 195h5v5h-5zM500 200h5v5h-5zM500 205h5v5h-5zM435 210h5v5h-5zM535 210h10v5h-10zM550 210h5v5h-5zM630 210h5v5h-5zM450 215h5v5h-5zM490 215h5v5h-5zM525 215h5v5h-5zM625 215h5v5h-5zM520 220h5v5h-5zM575 220h5v5h-5zM620 220h5v5h-5zM615 225h5v5h-5zM515 230h5v5h-5zM610 230h5v5h-5zM600 235h5v5h-5zM610 235h5v5h-5zM510 240h5v5h-5zM620 240h5v5h-5zM660 240h5v5h-5zM500 245h5v5h-5zM575 245h5v5h-5zM635 245h15v5h-15zM480 250h5v5h-5zM535 250h5v5h-5zM235 255h20v5h-20zM445 260h5v5h-5zM210 265h5v5h-5zM515 265h5v5h-5zM205 270h5v5h-5zM265 270h5v5h-5zM430 270h5v5h-5zM200 275h5v5h-5zM260 275h5v5h-5zM420 275h5v5h-5zM195 280h5v5h-5zM410 280h5v5h-5zM505 280h5v5h-5zM190 285h5v5h-5zM245 285h5v5h-5zM405 285h5v5h-5zM505 290h5v5h-5zM395 295h5v5h-5zM180 300h5v5h-5zM220 310h5v5h-5zM530 310h5v5h-5zM390 315h5v5h-5zM220 330h5v5h-5zM385 330h5v5h-5zM225 335h5v5h-5zM580 335h5v5h-5zM585 345h5v5h-5zM110 350h5v5h-5zM135 350h5v5h-5zM250 350h5v5h-5zM380 355h5v5h-5zM590 355h5v5h-5zM260 360h5v5h-5zM600 365h5v5h-5zM255 370h5v5h-5zM250 375h5v5h-5zM635 380h25v5h-25zM300 395h5v5h-5zM335 405h5v5h-5zM230 410h5v5h-5zM285 410h5v5h-5zM225 415h5v5h-5zM205 435h5v5h-5zM230 450h5v5h-5zM205 460h15v5h-15z"/>
<path fill="rgb(202,202,202)" d="M370 100h5v5h-5zM310 105h5v5h-5zM385 105h5v5h-5zM395 110h5v5h-5zM305 120h5v5h-5zM305 125h5v5h-5zM110 130h175v5h-175zM305 130h5v5h-5zM415 130h5v5h-5zM300 135h5v5h-5zM420 140h5v5h-5zM425 155h5v5h-5zM590 175h5v5h-5zM430 180h5v5h-5zM570 180h5v5h-5zM430 185h5v5h-5zM515 185h20v5h-20zM550 185h5v5h-5zM430 190h5v5h-5zM505 190h5v5h-5zM430 195h5v5h-5zM635 195h5v5h-5zM430 200h5v5h-5zM635 200h5v5h-5zM430 205h5v5h-5zM500 210h5v5h-5zM530 210h5v5h-5zM555 210h5v5h-5zM445 215h5v5h-5zM495 215h5v5h-5zM565 215h5v5h-5zM515 225h5v5h-5zM600 230h10v5h-10zM605 235h5v5h-5zM665 240h25v5h-25zM495 245h5v5h-5zM630 245h5v5h-5zM650 245h5v5h-5zM540 250h5v5h-5zM230 255h5v5h-5zM255 255h5v5h-5zM455 255h5v5h-5zM525 255h5v5h-5zM215 260h5v5h-5zM265 260h5v5h-5zM520 260h5v5h-5zM435 265h5v5h-5zM425 270h5v5h-5zM415 275h5v5h-5zM255 280h5v5h-5zM405 280h5v5h-5zM400 285h5v5h-5zM505 285h5v5h-5zM185 290h5v5h-5zM240 290h5v5h-5zM235 295h5v5h-5zM230 300h5v5h-5zM175 305h5v5h-5zM225 305h5v5h-5zM390 310h5v5h-5zM220 315h5v5h-5zM550 315h5v5h-5zM220 320h5v5h-5zM565 320h5v5h-5zM220 325h5v5h-5zM385 325h5v5h-5zM150 335h5v5h-5zM230 335h5v5h-5zM235 340h5v5h-5zM245 345h5v5h-5zM380 345h5v5h-5zM115 350h10v5h-10zM130 350h5v5h-5zM380 350h5v5h-5zM305 355h5v5h-5zM305 360h5v5h-5zM595 360h5v5h-5zM260 365h5v5h-5zM610 370h5v5h-5zM620 375h5v5h-5zM245 385h5v5h-5zM365 390h5v5h-5zM240 395h5v5h-5zM310 395h5v5h-5zM360 395h5v5h-5zM235 405h5v5h-5zM280 415h5v5h-5zM220 420h5v5h-5zM215 425h5v5h-5zM210 430h5v5h-5zM205 440h5v5h-5zM255 440h5v5h-5zM240 445h5v5h-5zM205 455h5v5h-5zM220 455h5v5h-5z"/>
<path fill="rgb(203,203,203)" d="M320 100h5v5h-5zM400 115h5v5h-5zM405 120h5v5h-5zM410 125h5v5h-5zM290 135h10v5h-10zM305 135h5v5h-5zM300 140h10v5h-10zM275 160h5v5h-5zM425 160h5v5h-5zM275 165h5v5h-5zM595 175h20v5h-20zM620 180h5v5h-5zM555 185h5v5h-5zM510 190h5v5h-5zM630 190h5v5h-5zM505 195h5v5h-5zM505 200h5v5h-5zM505 205h5v5h-5zM630 205h5v5h-5zM430 210h5v5h-5zM505 210h5v5h-5zM525 210h5v5h-5zM440 215h5v5h-5zM500 215h5v5h-5zM520 215h5v5h-5zM480 220h5v5h-5zM515 220h5v5h-5zM590 225h5v5h-5zM510 235h5v5h-5zM505 240h5v5h-5zM595 240h5v5h-5zM615 240h5v5h-5zM475 250h5v5h-5zM225 255h5v5h-5zM450 255h5v5h-5zM440 260h5v5h-5zM205 265h5v5h-5zM425 265h10v5h-10zM200 270h5v5h-5zM415 270h10v5h-10zM410 275h5v5h-5zM400 280h5v5h-5zM250 285h5v5h-5zM395 290h5v5h-5zM180 295h5v5h-5zM390 305h5v5h-5zM520 305h5v5h-5zM170 310h5v5h-5zM225 310h5v5h-5zM165 315h5v5h-5zM160 320h5v5h-5zM155 325h5v5h-5zM575 325h5v5h-5zM225 330h5v5h-5zM580 330h5v5h-5zM380 335h5v5h-5zM145 340h5v5h-5zM240 340h5v5h-5zM380 340h5v5h-5zM585 340h5v5h-5zM140 345h5v5h-5zM125 350h5v5h-5zM255 350h5v5h-5zM305 350h5v5h-5zM590 350h5v5h-5zM260 355h5v5h-5zM310 355h5v5h-5zM300 360h5v5h-5zM305 365h5v5h-5zM260 370h5v5h-5zM375 370h5v5h-5zM255 375h5v5h-5zM250 380h5v5h-5zM245 390h5v5h-5zM295 395h5v5h-5zM240 400h5v5h-5zM290 400h5v5h-5zM320 400h5v5h-5zM275 420h5v5h-5zM205 445h5v5h-5zM235 445h5v5h-5zM205 450h5v5h-5zM225 450h5v5h-5zM215 455h5v5h-5z"/>
<path fill="rgb(204,204,204)" d="M365 100h5v5h-5zM380 105h5v5h-5zM310 110h5v5h-5zM390 110h5v5h-5zM310 130h5v5h-5zM110 135h180v5h-180zM310 135h5v5h-5zM295 140h5v5h-5zM295 145h10v5h-10zM420 145h5v5h-5zM110 155h180v5h-180zM110 160h165v5h-165zM280 160h10v5h-10zM110 165h135v5h-135zM260 165h15v5h-15zM280 165h10v5h-10zM425 165h5v5h-5zM270 170h15v5h-15zM560 185h5v5h-5zM625 185h5v5h-5zM515 190h35v5h-35zM510 195h5v5h-5zM630 195h5v5h-5zM510 200h5v5h-5zM630 200h5v5h-5zM425 205h5v5h-5zM510 205h5v5h-5zM530 205h25v5h-25zM510 210h15v5h-15zM560 210h5v5h-5zM625 210h5v5h-5zM430 215h10v5h-10zM505 215h15v5h-15zM470 220h10v5h-10zM485 220h10v5h-10zM595 225h5v5h-5zM610 225h5v5h-5zM510 230h5v5h-5zM400 235h15v5h-15zM400 240h15v5h-15zM600 240h5v5h-5zM610 240h5v5h-5zM400 245h20v5h-20zM490 245h5v5h-5zM580 245h5v5h-5zM625 245h5v5h-5zM655 245h5v5h-5zM400 250h20v5h-20zM470 250h5v5h-5zM545 250h5v5h-5zM220 255h5v5h-5zM260 255h5v5h-5zM400 255h20v5h-20zM210 260h5v5h-5zM405 260h15v5h-15zM435 260h5v5h-5zM270 265h5v5h-5zM405 265h20v5h-20zM405 270h10v5h-10zM195 275h5v5h-5zM265 275h5v5h-5zM400 275h10v5h-10zM510 275h5v5h-5zM190 280h5v5h-5zM395 280h5v5h-5zM185 285h5v5h-5zM395 285h5v5h-5zM245 290h5v5h-5zM390 295h5v5h-5zM175 300h5v5h-5zM390 300h5v5h-5zM535 310h5v5h-5zM225 315h5v5h-5zM225 320h5v5h-5zM385 320h5v5h-5zM570 320h5v5h-5zM225 325h5v5h-5zM150 330h5v5h-5zM230 330h5v5h-5zM380 330h5v5h-5zM235 335h5v5h-5zM585 335h5v5h-5zM250 345h5v5h-5zM310 350h5v5h-5zM300 355h5v5h-5zM265 360h5v5h-5zM310 360h5v5h-5zM265 365h5v5h-5zM300 365h5v5h-5zM605 365h5v5h-5zM625 375h5v5h-5zM300 390h10v5h-10zM285 405h5v5h-5zM235 410h5v5h-5zM230 415h5v5h-5zM225 420h5v5h-5zM220 425h5v5h-5zM270 425h5v5h-5zM265 430h5v5h-5zM210 435h5v5h-5zM260 435h5v5h-5zM250 440h5v5h-5zM230 445h5v5h-5zM210 455h5v5h-5z"/>
<path fill="rgb(205,205,205)" d="M325 100h5v5h-5zM360 100h5v5h-5zM315 105h5v5h-5zM310 115h5v5h-5zM395 115h5v5h-5zM310 120h5v5h-5zM310 125h5v5h-5zM415 135h5v5h-5zM110 140h165v5h-165zM285 140h10v5h-10zM310 140h5v5h-5zM110 145h160v5h-160zM290 145h5v5h-5zM305 145h5v5h-5zM110 150h195v5h-195zM420 150h5v5h-5zM290 155h10v5h-10zM290 160h5v5h-5zM245 165h15v5h-15zM290 165h5v5h-5zM110 170h135v5h-135zM260 170h10v5h-10zM285 170h5v5h-5zM425 170h5v5h-5zM275 175h10v5h-10zM425 175h5v5h-5zM425 180h5v5h-5zM575 180h5v5h-5zM425 185h5v5h-5zM425 190h5v5h-5zM550 190h5v5h-5zM425 195h5v5h-5zM515 195h35v5h-35zM425 200h5v5h-5zM515 200h35v5h-35zM515 205h15v5h-15zM555 205h5v5h-5zM425 210h5v5h-5zM425 215h5v5h-5zM570 215h5v5h-5zM620 215h5v5h-5zM460 220h10v5h-10zM495 220h10v5h-10zM510 220h5v5h-5zM580 220h5v5h-5zM615 220h5v5h-5zM410 225h10v5h-10zM510 225h5v5h-5zM600 225h10v5h-10zM400 230h20v5h-20zM395 235h5v5h-5zM415 235h5v5h-5zM390 240h10v5h-10zM415 240h5v5h-5zM500 240h5v5h-5zM605 240h5v5h-5zM390 245h10v5h-10zM485 245h5v5h-5zM660 245h30v5h-30zM390 250h10v5h-10zM420 250h5v5h-5zM550 250h5v5h-5zM395 255h5v5h-5zM420 255h5v5h-5zM445 255h5v5h-5zM270 260h5v5h-5zM395 260h10v5h-10zM420 260h15v5h-15zM395 265h10v5h-10zM270 270h5v5h-5zM395 270h10v5h-10zM395 275h5v5h-5zM260 280h5v5h-5zM390 280h5v5h-5zM390 285h5v5h-5zM180 290h5v5h-5zM390 290h5v5h-5zM240 295h5v5h-5zM510 295h5v5h-5zM235 300h5v5h-5zM515 300h5v5h-5zM170 305h5v5h-5zM230 305h5v5h-5zM385 315h5v5h-5zM555 315h5v5h-5zM380 325h5v5h-5zM580 325h5v5h-5zM245 340h5v5h-5zM110 345h5v5h-5zM135 345h5v5h-5zM305 345h10v5h-10zM590 345h5v5h-5zM260 350h5v5h-5zM300 350h5v5h-5zM265 355h5v5h-5zM595 355h5v5h-5zM295 360h5v5h-5zM600 360h5v5h-5zM295 365h5v5h-5zM265 370h5v5h-5zM300 370h10v5h-10zM615 370h5v5h-5zM260 375h5v5h-5zM255 380h5v5h-5zM250 385h5v5h-5zM295 390h5v5h-5zM245 395h5v5h-5zM290 395h5v5h-5zM315 395h5v5h-5zM240 405h5v5h-5zM280 410h5v5h-5zM215 430h5v5h-5zM210 440h5v5h-5zM245 440h5v5h-5zM210 445h5v5h-5zM210 450h15v5h-15z"/>
<path fill="rgb(206,206,206)" d="M355 100h5v5h-5zM375 105h5v5h-5zM400 120h5v5h-5zM410 130h5v5h-5zM275 140h10v5h-10zM270 145h20v5h-20zM310 145h5v5h-5zM305 150h5v5h-5zM300 155h5v5h-5zM295 160h5v5h-5zM245 170h15v5h-15zM290 170h5v5h-5zM110 175h130v5h-130zM265 175h10v5h-10zM285 175h5v5h-5zM615 180h5v5h-5zM565 185h5v5h-5zM555 190h5v5h-5zM625 190h5v5h-5zM550 195h5v5h-5zM550 200h5v5h-5zM420 210h5v5h-5zM420 215h5v5h-5zM410 220h50v5h-50zM505 220h5v5h-5zM400 225h10v5h-10zM420 225h5v5h-5zM395 230h5v5h-5zM420 230h5v5h-5zM390 235h5v5h-5zM420 235h5v5h-5zM505 235h5v5h-5zM385 240h5v5h-5zM420 240h5v5h-5zM495 240h5v5h-5zM380 245h10v5h-10zM420 245h5v5h-5zM585 245h5v5h-5zM620 245h5v5h-5zM380 250h10v5h-10zM465 250h5v5h-5zM555 250h5v5h-5zM215 255h5v5h-5zM265 255h5v5h-5zM385 255h10v5h-10zM425 255h20v5h-20zM530 255h5v5h-5zM205 260h5v5h-5zM390 260h5v5h-5zM200 265h5v5h-5zM390 265h5v5h-5zM195 270h5v5h-5zM390 270h5v5h-5zM515 270h5v5h-5zM190 275h5v5h-5zM390 275h5v5h-5zM185 280h5v5h-5zM385 280h5v5h-5zM255 285h5v5h-5zM175 295h5v5h-5zM525 305h5v5h-5zM165 310h5v5h-5zM230 310h5v5h-5zM540 310h5v5h-5zM160 315h5v5h-5zM560 315h5v5h-5zM155 320h5v5h-5zM230 325h5v5h-5zM235 330h5v5h-5zM375 330h5v5h-5zM585 330h5v5h-5zM145 335h5v5h-5zM240 335h5v5h-5zM375 335h5v5h-5zM140 340h5v5h-5zM375 340h5v5h-5zM590 340h5v5h-5zM115 345h10v5h-10zM255 345h5v5h-5zM300 345h5v5h-5zM295 355h5v5h-5zM270 360h5v5h-5zM270 365h5v5h-5zM310 365h5v5h-5zM375 365h5v5h-5zM295 370h5v5h-5zM295 375h15v5h-15zM630 375h5v5h-5zM660 375h30v5h-30zM300 380h5v5h-5zM370 380h5v5h-5zM295 385h15v5h-15zM250 390h5v5h-5zM310 390h5v5h-5zM245 400h5v5h-5zM285 400h5v5h-5zM350 400h5v5h-5zM240 410h5v5h-5zM235 415h5v5h-5zM275 415h5v5h-5zM230 420h5v5h-5zM270 420h5v5h-5zM225 425h5v5h-5zM220 430h5v5h-5zM215 435h5v5h-5zM240 440h5v5h-5zM225 445h5v5h-5z"/>
<path fill="rgb(207,207,207)" d="M330 100h5v5h-5zM350 100h5v5h-5zM385 110h5v5h-5zM405 125h5v5h-5zM315 130h5v5h-5zM315 135h5v5h-5zM315 140h5v5h-5zM415 140h5v5h-5zM420 155h5v5h-5zM295 165h5v5h-5zM240 175h25v5h-25zM290 175h5v5h-5zM110 180h85v5h-85zM265 180h25v5h-25zM580 180h5v5h-5zM620 185h5v5h-5zM560 190h5v5h-5zM555 195h5v5h-5zM420 200h5v5h-5zM555 200h5v5h-5zM420 205h5v5h-5zM560 205h5v5h-5zM625 205h5v5h-5zM565 210h5v5h-5zM415 215h5v5h-5zM405 220h5v5h-5zM395 225h5v5h-5zM425 225h10v5h-10zM500 225h10v5h-10zM390 230h5v5h-5zM425 230h5v5h-5zM505 230h5v5h-5zM380 235h10v5h-10zM375 240h10v5h-10zM375 245h5v5h-5zM425 245h5v5h-5zM480 245h5v5h-5zM590 245h5v5h-5zM230 250h20v5h-20zM375 250h5v5h-5zM425 250h5v5h-5zM460 250h5v5h-5zM635 250h20v5h-20zM210 255h5v5h-5zM375 255h10v5h-10zM375 260h15v5h-15zM525 260h5v5h-5zM275 265h5v5h-5zM380 265h10v5h-10zM520 265h5v5h-5zM380 270h10v5h-10zM270 275h5v5h-5zM380 275h10v5h-10zM510 280h5v5h-5zM180 285h5v5h-5zM385 285h5v5h-5zM175 290h5v5h-5zM250 290h5v5h-5zM385 290h5v5h-5zM385 295h5v5h-5zM170 300h5v5h-5zM385 300h5v5h-5zM235 305h5v5h-5zM385 305h5v5h-5zM385 310h5v5h-5zM230 315h5v5h-5zM230 320h5v5h-5zM380 320h5v5h-5zM575 320h5v5h-5zM150 325h5v5h-5zM365 325h15v5h-15zM365 330h10v5h-10zM370 335h5v5h-5zM590 335h5v5h-5zM250 340h5v5h-5zM305 340h10v5h-10zM125 345h10v5h-10zM315 345h5v5h-5zM375 345h5v5h-5zM265 350h5v5h-5zM295 350h5v5h-5zM315 350h5v5h-5zM595 350h5v5h-5zM270 355h5v5h-5zM315 355h5v5h-5zM290 360h5v5h-5zM290 365h5v5h-5zM270 370h5v5h-5zM290 370h5v5h-5zM310 370h5v5h-5zM265 375h5v5h-5zM635 375h5v5h-5zM650 375h10v5h-10zM260 380h5v5h-5zM295 380h5v5h-5zM305 380h5v5h-5zM255 385h5v5h-5zM290 390h5v5h-5zM250 395h5v5h-5zM325 400h5v5h-5zM245 405h5v5h-5zM280 405h5v5h-5zM265 425h5v5h-5zM255 435h5v5h-5zM215 440h5v5h-5zM230 440h10v5h-10zM215 445h10v5h-10z"/>
<path fill="rgb(208,208,208)" d="M335 100h15v5h-15zM320 105h5v5h-5zM370 105h5v5h-5zM315 110h5v5h-5zM390 115h5v5h-5zM315 125h5v5h-5zM315 145h5v5h-5zM310 150h5v5h-5zM305 155h5v5h-5zM300 160h5v5h-5zM420 160h5v5h-5zM420 165h5v5h-5zM295 170h5v5h-5zM195 180h70v5h-70zM585 180h5v5h-5zM610 180h5v5h-5zM270 185h15v5h-15zM570 185h5v5h-5zM420 190h5v5h-5zM420 195h5v5h-5zM625 195h5v5h-5zM625 200h5v5h-5zM415 210h5v5h-5zM410 215h5v5h-5zM400 220h5v5h-5zM585 220h5v5h-5zM610 220h5v5h-5zM390 225h5v5h-5zM480 225h20v5h-20zM385 230h5v5h-5zM500 230h5v5h-5zM375 235h5v5h-5zM425 235h5v5h-5zM500 235h5v5h-5zM370 240h5v5h-5zM425 240h5v5h-5zM490 240h5v5h-5zM370 245h5v5h-5zM615 245h5v5h-5zM225 250h5v5h-5zM250 250h5v5h-5zM370 250h5v5h-5zM430 250h5v5h-5zM455 250h5v5h-5zM560 250h5v5h-5zM655 250h35v5h-35zM370 255h5v5h-5zM275 260h5v5h-5zM370 260h5v5h-5zM375 265h5v5h-5zM275 270h5v5h-5zM375 270h5v5h-5zM265 280h5v5h-5zM380 280h5v5h-5zM380 285h5v5h-5zM510 290h5v5h-5zM245 295h5v5h-5zM240 300h5v5h-5zM380 315h5v5h-5zM565 315h5v5h-5zM365 320h15v5h-15zM235 325h5v5h-5zM360 325h5v5h-5zM585 325h5v5h-5zM145 330h5v5h-5zM240 330h5v5h-5zM360 330h5v5h-5zM590 330h5v5h-5zM245 335h5v5h-5zM365 335h5v5h-5zM315 340h5v5h-5zM260 345h5v5h-5zM595 345h5v5h-5zM290 355h5v5h-5zM600 355h5v5h-5zM275 360h5v5h-5zM315 360h5v5h-5zM375 360h5v5h-5zM605 360h5v5h-5zM275 365h5v5h-5zM610 365h5v5h-5zM275 370h5v5h-5zM620 370h5v5h-5zM270 375h5v5h-5zM290 375h5v5h-5zM640 375h10v5h-10zM290 380h5v5h-5zM290 385h5v5h-5zM285 395h5v5h-5zM250 400h5v5h-5zM275 410h5v5h-5zM240 415h5v5h-5zM235 420h5v5h-5zM230 425h5v5h-5zM225 430h5v5h-5zM260 430h5v5h-5zM220 435h5v5h-5zM250 435h5v5h-5zM220 440h10v5h-10z"/>
<path fill="rgb(209,209,209)" d="M380 110h5v5h-5zM315 115h5v5h-5zM315 120h5v5h-5zM395 120h5v5h-5zM410 135h5v5h-5zM415 145h5v5h-5zM305 160h5v5h-5zM300 165h5v5h-5zM420 170h5v5h-5zM295 175h5v5h-5zM420 175h5v5h-5zM290 180h5v5h-5zM420 180h5v5h-5zM590 180h5v5h-5zM605 180h5v5h-5zM110 185h160v5h-160zM285 185h5v5h-5zM420 185h5v5h-5zM560 195h5v5h-5zM560 200h5v5h-5zM415 205h5v5h-5zM410 210h5v5h-5zM620 210h5v5h-5zM405 215h5v5h-5zM575 215h5v5h-5zM615 215h5v5h-5zM395 220h5v5h-5zM385 225h5v5h-5zM435 225h5v5h-5zM475 225h5v5h-5zM380 230h5v5h-5zM430 230h5v5h-5zM495 230h5v5h-5zM370 235h5v5h-5zM430 235h5v5h-5zM495 235h5v5h-5zM365 245h5v5h-5zM430 245h5v5h-5zM475 245h5v5h-5zM595 245h5v5h-5zM220 250h5v5h-5zM255 250h5v5h-5zM365 250h5v5h-5zM435 250h20v5h-20zM565 250h5v5h-5zM630 250h5v5h-5zM205 255h5v5h-5zM270 255h5v5h-5zM365 255h5v5h-5zM535 255h5v5h-5zM200 260h5v5h-5zM195 265h5v5h-5zM370 265h5v5h-5zM190 270h5v5h-5zM370 270h5v5h-5zM185 275h5v5h-5zM375 275h5v5h-5zM180 280h5v5h-5zM375 280h5v5h-5zM175 285h5v5h-5zM260 285h5v5h-5zM510 285h5v5h-5zM380 290h5v5h-5zM170 295h5v5h-5zM380 295h5v5h-5zM380 300h5v5h-5zM165 305h5v5h-5zM665 305h15v5h-15zM160 310h5v5h-5zM235 310h5v5h-5zM380 310h5v5h-5zM545 310h5v5h-5zM660 310h30v5h-30zM155 315h5v5h-5zM375 315h5v5h-5zM665 315h20v5h-20zM150 320h5v5h-5zM235 320h5v5h-5zM360 320h5v5h-5zM580 320h5v5h-5zM355 325h5v5h-5zM355 330h5v5h-5zM140 335h5v5h-5zM310 335h5v5h-5zM360 335h5v5h-5zM110 340h5v5h-5zM135 340h5v5h-5zM255 340h5v5h-5zM300 340h5v5h-5zM370 340h5v5h-5zM595 340h5v5h-5zM295 345h5v5h-5zM270 350h5v5h-5zM375 350h5v5h-5zM275 355h5v5h-5zM375 355h5v5h-5zM280 360h10v5h-10zM280 365h10v5h-10zM280 370h10v5h-10zM275 375h5v5h-5zM285 375h5v5h-5zM310 375h5v5h-5zM265 380h5v5h-5zM285 380h5v5h-5zM260 385h5v5h-5zM285 385h5v5h-5zM310 385h5v5h-5zM255 390h5v5h-5zM285 390h5v5h-5zM280 400h5v5h-5zM250 405h5v5h-5zM245 410h5v5h-5zM270 415h5v5h-5zM265 420h5v5h-5zM235 425h5v5h-5zM230 430h5v5h-5zM225 435h25v5h-25z"/>
<path fill="rgb(210,210,210)" d="M365 105h5v5h-5zM385 115h5v5h-5zM400 125h5v5h-5zM405 130h5v5h-5zM315 150h5v5h-5zM415 150h5v5h-5zM310 155h5v5h-5zM300 170h5v5h-5zM595 180h10v5h-10zM615 185h5v5h-5zM225 190h60v5h-60zM565 190h5v5h-5zM620 190h5v5h-5zM415 200h5v5h-5zM400 215h5v5h-5zM390 220h5v5h-5zM590 220h5v5h-5zM605 220h5v5h-5zM380 225h5v5h-5zM440 225h5v5h-5zM470 225h5v5h-5zM375 230h5v5h-5zM490 230h5v5h-5zM490 235h5v5h-5zM365 240h5v5h-5zM430 240h5v5h-5zM485 240h5v5h-5zM600 245h15v5h-15zM215 250h5v5h-5zM365 260h5v5h-5zM365 265h5v5h-5zM180 275h5v5h-5zM370 275h5v5h-5zM515 275h5v5h-5zM370 280h5v5h-5zM375 285h5v5h-5zM170 290h5v5h-5zM255 290h5v5h-5zM375 290h5v5h-5zM165 300h5v5h-5zM520 300h5v5h-5zM240 305h5v5h-5zM380 305h5v5h-5zM530 305h5v5h-5zM655 305h10v5h-10zM680 305h10v5h-10zM655 310h5v5h-5zM235 315h5v5h-5zM360 315h15v5h-15zM570 315h5v5h-5zM655 315h10v5h-10zM685 315h5v5h-5zM355 320h5v5h-5zM585 320h5v5h-5zM670 320h5v5h-5zM145 325h5v5h-5zM240 325h5v5h-5zM590 325h5v5h-5zM250 335h5v5h-5zM305 335h5v5h-5zM315 335h5v5h-5zM595 335h5v5h-5zM115 340h20v5h-20zM265 345h5v5h-5zM290 350h5v5h-5zM600 350h5v5h-5zM280 355h10v5h-10zM315 365h5v5h-5zM625 370h5v5h-5zM665 370h20v5h-20zM280 375h5v5h-5zM270 380h15v5h-15zM310 380h5v5h-5zM265 385h5v5h-5zM280 385h5v5h-5zM260 390h5v5h-5zM280 390h5v5h-5zM255 395h5v5h-5zM280 395h5v5h-5zM320 395h5v5h-5zM255 400h5v5h-5zM275 405h5v5h-5zM250 410h5v5h-5zM270 410h5v5h-5zM245 415h5v5h-5zM265 415h5v5h-5zM240 420h5v5h-5zM260 425h5v5h-5zM235 430h5v5h-5zM255 430h5v5h-5z"/>
<path fill="rgb(211,211,211)" d="M325 105h5v5h-5zM360 105h5v5h-5zM375 110h5v5h-5zM390 120h5v5h-5zM320 130h5v5h-5zM320 135h5v5h-5zM320 140h5v5h-5zM410 140h5v5h-5zM415 155h5v5h-5zM305 165h5v5h-5zM300 175h5v5h-5zM295 180h5v5h-5zM290 185h5v5h-5zM575 185h5v5h-5zM110 190h115v5h-115zM285 190h5v5h-5zM240 195h35v5h-35zM415 195h5v5h-5zM620 195h5v5h-5zM410 205h5v5h-5zM565 205h5v5h-5zM620 205h5v5h-5zM405 210h5v5h-5zM570 210h5v5h-5zM395 215h5v5h-5zM385 220h5v5h-5zM595 220h10v5h-10zM375 225h5v5h-5zM445 225h10v5h-10zM465 225h5v5h-5zM370 230h5v5h-5zM435 230h5v5h-5zM485 230h5v5h-5zM365 235h5v5h-5zM435 245h5v5h-5zM470 245h5v5h-5zM210 250h5v5h-5zM260 250h5v5h-5zM570 250h5v5h-5zM625 250h5v5h-5zM200 255h5v5h-5zM275 255h5v5h-5zM655 255h35v5h-35zM195 260h5v5h-5zM280 260h5v5h-5zM190 265h5v5h-5zM280 265h5v5h-5zM185 270h5v5h-5zM365 270h5v5h-5zM275 275h5v5h-5zM365 275h5v5h-5zM175 280h5v5h-5zM270 280h5v5h-5zM170 285h5v5h-5zM370 285h5v5h-5zM165 295h5v5h-5zM250 295h5v5h-5zM375 295h5v5h-5zM515 295h5v5h-5zM245 300h5v5h-5zM375 300h5v5h-5zM660 300h30v5h-30zM160 305h5v5h-5zM375 305h5v5h-5zM650 305h5v5h-5zM155 310h5v5h-5zM365 310h15v5h-15zM550 310h5v5h-5zM650 310h5v5h-5zM150 315h5v5h-5zM355 315h5v5h-5zM650 315h5v5h-5zM145 320h5v5h-5zM350 320h5v5h-5zM660 320h10v5h-10zM675 320h15v5h-15zM350 325h5v5h-5zM140 330h5v5h-5zM245 330h5v5h-5zM350 330h5v5h-5zM595 330h5v5h-5zM300 335h5v5h-5zM355 335h5v5h-5zM260 340h5v5h-5zM295 340h5v5h-5zM320 340h5v5h-5zM365 340h5v5h-5zM290 345h5v5h-5zM320 345h5v5h-5zM370 345h5v5h-5zM600 345h5v5h-5zM275 350h5v5h-5zM285 350h5v5h-5zM605 355h5v5h-5zM615 365h5v5h-5zM655 370h10v5h-10zM685 370h5v5h-5zM370 375h5v5h-5zM270 385h10v5h-10zM265 390h5v5h-5zM275 390h5v5h-5zM315 390h5v5h-5zM260 395h5v5h-5zM275 395h5v5h-5zM275 400h5v5h-5zM330 400h5v5h-5zM345 400h5v5h-5zM255 405h5v5h-5zM270 405h5v5h-5zM255 410h5v5h-5zM265 410h5v5h-5zM250 415h5v5h-5zM260 415h5v5h-5zM245 420h5v5h-5zM260 420h5v5h-5zM240 425h5v5h-5zM255 425h5v5h-5zM240 430h15v5h-15z"/>
<path fill="rgb(212,212,212)" d="M320 110h5v5h-5zM320 125h5v5h-5zM395 125h5v5h-5zM320 145h5v5h-5zM315 155h5v5h-5zM310 160h5v5h-5zM415 160h5v5h-5zM415 190h5v5h-5zM195 195h45v5h-45zM275 195h5v5h-5zM565 195h5v5h-5zM245 200h25v5h-25zM410 200h5v5h-5zM565 200h5v5h-5zM620 200h5v5h-5zM400 210h5v5h-5zM390 215h5v5h-5zM455 225h10v5h-10zM440 230h5v5h-5zM480 230h5v5h-5zM435 235h5v5h-5zM485 235h5v5h-5zM435 240h5v5h-5zM480 240h5v5h-5zM360 245h5v5h-5zM440 245h5v5h-5zM465 245h5v5h-5zM205 250h5v5h-5zM360 250h5v5h-5zM360 255h5v5h-5zM540 255h5v5h-5zM645 255h10v5h-10zM360 260h5v5h-5zM530 260h5v5h-5zM360 265h5v5h-5zM180 270h5v5h-5zM280 270h5v5h-5zM520 270h5v5h-5zM175 275h5v5h-5zM170 280h5v5h-5zM365 280h5v5h-5zM265 285h5v5h-5zM165 290h5v5h-5zM370 290h5v5h-5zM370 295h5v5h-5zM370 300h5v5h-5zM650 300h10v5h-10zM365 305h10v5h-10zM535 305h5v5h-5zM645 305h5v5h-5zM240 310h5v5h-5zM360 310h5v5h-5zM645 310h5v5h-5zM240 315h5v5h-5zM575 315h5v5h-5zM645 315h5v5h-5zM240 320h5v5h-5zM590 320h5v5h-5zM655 320h5v5h-5zM140 325h5v5h-5zM595 325h5v5h-5zM665 325h15v5h-15zM305 330h15v5h-15zM110 335h10v5h-10zM135 335h5v5h-5zM255 335h5v5h-5zM320 335h5v5h-5zM600 335h5v5h-5zM360 340h5v5h-5zM600 340h5v5h-5zM270 345h5v5h-5zM280 350h5v5h-5zM320 350h5v5h-5zM610 360h5v5h-5zM630 370h5v5h-5zM650 370h5v5h-5zM365 385h5v5h-5zM270 390h5v5h-5zM265 395h10v5h-10zM355 395h5v5h-5zM260 400h15v5h-15zM260 405h10v5h-10zM260 410h5v5h-5zM255 415h5v5h-5zM250 420h10v5h-10zM245 425h10v5h-10z"/>
<path fill="rgb(213,213,213)" d="M330 105h5v5h-5zM355 105h5v5h-5zM370 110h5v5h-5zM320 115h5v5h-5zM380 115h5v5h-5zM320 120h5v5h-5zM400 130h5v5h-5zM405 135h5v5h-5zM410 145h5v5h-5zM320 150h5v5h-5zM310 165h5v5h-5zM415 165h5v5h-5zM305 170h5v5h-5zM415 170h5v5h-5zM415 175h5v5h-5zM300 180h5v5h-5zM415 180h5v5h-5zM295 185h5v5h-5zM415 185h5v5h-5zM610 185h5v5h-5zM290 190h5v5h-5zM570 190h5v5h-5zM615 190h5v5h-5zM110 195h85v5h-85zM280 195h5v5h-5zM225 200h20v5h-20zM270 200h5v5h-5zM405 205h5v5h-5zM615 210h5v5h-5zM580 215h5v5h-5zM610 215h5v5h-5zM380 220h5v5h-5zM370 225h5v5h-5zM365 230h5v5h-5zM480 235h5v5h-5zM360 240h5v5h-5zM220 245h25v5h-25zM445 245h5v5h-5zM460 245h5v5h-5zM265 250h5v5h-5zM575 250h5v5h-5zM620 250h5v5h-5zM195 255h5v5h-5zM640 255h5v5h-5zM190 260h5v5h-5zM185 265h5v5h-5zM525 265h5v5h-5zM175 270h5v5h-5zM360 270h5v5h-5zM170 275h5v5h-5zM360 275h5v5h-5zM165 280h5v5h-5zM165 285h5v5h-5zM365 285h5v5h-5zM260 290h5v5h-5zM365 290h5v5h-5zM365 295h5v5h-5zM660 295h30v5h-30zM160 300h5v5h-5zM365 300h5v5h-5zM645 300h5v5h-5zM155 305h5v5h-5zM245 305h5v5h-5zM360 305h5v5h-5zM640 305h5v5h-5zM150 310h5v5h-5zM355 310h5v5h-5zM555 310h5v5h-5zM640 310h5v5h-5zM145 315h5v5h-5zM350 315h5v5h-5zM580 315h5v5h-5zM140 320h5v5h-5zM650 320h5v5h-5zM245 325h5v5h-5zM345 325h5v5h-5zM600 325h5v5h-5zM660 325h5v5h-5zM680 325h10v5h-10zM110 330h5v5h-5zM135 330h5v5h-5zM250 330h5v5h-5zM320 330h5v5h-5zM345 330h5v5h-5zM600 330h5v5h-5zM120 335h15v5h-15zM295 335h5v5h-5zM350 335h5v5h-5zM265 340h5v5h-5zM290 340h5v5h-5zM275 345h15v5h-15zM605 350h5v5h-5zM320 355h5v5h-5zM620 365h5v5h-5zM315 370h5v5h-5zM635 370h15v5h-15zM335 400h10v5h-10z"/>
<path fill="rgb(214,214,214)" d="M335 105h5v5h-5zM350 105h5v5h-5zM385 120h5v5h-5zM315 160h5v5h-5zM305 175h5v5h-5zM580 185h5v5h-5zM285 195h5v5h-5zM410 195h5v5h-5zM110 200h115v5h-115zM275 200h5v5h-5zM240 205h25v5h-25zM395 210h5v5h-5zM385 215h5v5h-5zM375 220h5v5h-5zM445 230h5v5h-5zM475 230h5v5h-5zM360 235h5v5h-5zM440 235h5v5h-5zM440 240h5v5h-5zM475 240h5v5h-5zM210 245h10v5h-10zM245 245h5v5h-5zM450 245h10v5h-10zM200 250h5v5h-5zM270 250h5v5h-5zM580 250h5v5h-5zM140 255h20v5h-20zM190 255h5v5h-5zM280 255h5v5h-5zM545 255h5v5h-5zM635 255h5v5h-5zM110 260h55v5h-55zM185 260h5v5h-5zM285 260h5v5h-5zM660 260h30v5h-30zM110 265h75v5h-75zM285 265h5v5h-5zM110 270h65v5h-65zM110 275h60v5h-60zM280 275h5v5h-5zM110 280h35v5h-35zM160 280h5v5h-5zM275 280h5v5h-5zM360 280h5v5h-5zM515 280h5v5h-5zM110 285h30v5h-30zM160 285h5v5h-5zM360 285h5v5h-5zM110 290h30v5h-30zM160 290h5v5h-5zM360 290h5v5h-5zM515 290h5v5h-5zM110 295h30v5h-30zM160 295h5v5h-5zM255 295h5v5h-5zM360 295h5v5h-5zM650 295h10v5h-10zM110 300h35v5h-35zM155 300h5v5h-5zM250 300h5v5h-5zM360 300h5v5h-5zM525 300h5v5h-5zM110 305h45v5h-45zM355 305h5v5h-5zM110 310h40v5h-40zM350 310h5v5h-5zM560 310h5v5h-5zM635 310h5v5h-5zM110 315h5v5h-5zM135 315h10v5h-10zM585 315h5v5h-5zM640 315h5v5h-5zM245 320h5v5h-5zM345 320h5v5h-5zM595 320h5v5h-5zM645 320h5v5h-5zM110 325h5v5h-5zM135 325h5v5h-5zM310 325h10v5h-10zM655 325h5v5h-5zM115 330h5v5h-5zM300 330h5v5h-5zM665 330h15v5h-15zM260 335h5v5h-5zM325 335h5v5h-5zM270 340h5v5h-5zM325 340h5v5h-5zM365 345h5v5h-5zM605 345h5v5h-5zM370 350h5v5h-5zM610 355h5v5h-5zM660 365h30v5h-30zM370 370h5v5h-5zM315 385h5v5h-5z"/>
<path fill="rgb(215,215,215)" d="M340 105h10v5h-10zM325 110h5v5h-5zM365 110h5v5h-5zM375 115h5v5h-5zM390 125h5v5h-5zM325 130h5v5h-5zM395 130h5v5h-5zM325 135h5v5h-5zM325 140h5v5h-5zM405 140h5v5h-5zM410 150h5v5h-5zM320 155h5v5h-5zM310 170h5v5h-5zM300 185h5v5h-5zM605 185h5v5h-5zM295 190h5v5h-5zM290 195h5v5h-5zM280 200h5v5h-5zM405 200h5v5h-5zM200 205h40v5h-40zM265 205h5v5h-5zM400 205h5v5h-5zM570 205h5v5h-5zM390 210h5v5h-5zM380 215h5v5h-5zM370 220h5v5h-5zM365 225h5v5h-5zM470 230h5v5h-5zM475 235h5v5h-5zM445 240h5v5h-5zM145 245h15v5h-15zM205 245h5v5h-5zM110 250h60v5h-60zM190 250h10v5h-10zM355 250h5v5h-5zM585 250h5v5h-5zM615 250h5v5h-5zM110 255h30v5h-30zM160 255h15v5h-15zM185 255h5v5h-5zM355 255h5v5h-5zM165 260h20v5h-20zM355 260h5v5h-5zM650 260h10v5h-10zM355 265h5v5h-5zM285 270h5v5h-5zM355 270h5v5h-5zM355 275h5v5h-5zM145 280h15v5h-15zM140 285h20v5h-20zM270 285h5v5h-5zM140 290h20v5h-20zM660 290h30v5h-30zM140 295h20v5h-20zM355 295h5v5h-5zM645 295h5v5h-5zM145 300h10v5h-10zM355 300h5v5h-5zM640 300h5v5h-5zM350 305h5v5h-5zM540 305h5v5h-5zM635 305h5v5h-5zM245 310h5v5h-5zM630 310h5v5h-5zM115 315h20v5h-20zM245 315h5v5h-5zM345 315h5v5h-5zM590 315h5v5h-5zM635 315h5v5h-5zM110 320h30v5h-30zM340 320h5v5h-5zM600 320h5v5h-5zM640 320h5v5h-5zM115 325h20v5h-20zM250 325h5v5h-5zM305 325h5v5h-5zM320 325h5v5h-5zM340 325h5v5h-5zM605 325h5v5h-5zM650 325h5v5h-5zM120 330h15v5h-15zM255 330h5v5h-5zM295 330h5v5h-5zM325 330h5v5h-5zM340 330h5v5h-5zM605 330h5v5h-5zM660 330h5v5h-5zM680 330h10v5h-10zM290 335h5v5h-5zM345 335h5v5h-5zM605 335h5v5h-5zM275 340h5v5h-5zM285 340h5v5h-5zM355 340h5v5h-5zM605 340h5v5h-5zM325 345h5v5h-5zM320 360h5v5h-5zM615 360h5v5h-5zM655 365h5v5h-5zM315 375h5v5h-5zM315 380h5v5h-5zM360 390h5v5h-5z"/>
<path fill="rgb(216,216,216)" d="M380 120h5v5h-5zM400 135h5v5h-5zM325 145h5v5h-5zM410 155h5v5h-5zM315 165h5v5h-5zM305 180h5v5h-5zM585 185h5v5h-5zM600 185h5v5h-5zM410 190h5v5h-5zM575 190h5v5h-5zM570 195h5v5h-5zM615 195h5v5h-5zM615 200h5v5h-5zM110 205h90v5h-90zM270 205h5v5h-5zM395 205h5v5h-5zM615 205h5v5h-5zM245 210h15v5h-15zM575 210h5v5h-5zM585 215h5v5h-5zM605 215h5v5h-5zM360 230h5v5h-5zM450 230h5v5h-5zM465 230h5v5h-5zM175 235h5v5h-5zM445 235h5v5h-5zM110 240h75v5h-75zM470 240h5v5h-5zM110 245h35v5h-35zM160 245h45v5h-45zM250 245h5v5h-5zM355 245h5v5h-5zM170 250h20v5h-20zM275 250h5v5h-5zM590 250h5v5h-5zM610 250h5v5h-5zM175 255h10v5h-10zM285 255h5v5h-5zM550 255h5v5h-5zM630 255h5v5h-5zM290 260h5v5h-5zM645 260h5v5h-5zM660 265h30v5h-30zM355 280h5v5h-5zM355 285h5v5h-5zM515 285h5v5h-5zM265 290h5v5h-5zM355 290h5v5h-5zM655 290h5v5h-5zM260 295h5v5h-5zM520 295h5v5h-5zM350 300h5v5h-5zM635 300h5v5h-5zM250 305h5v5h-5zM630 305h5v5h-5zM345 310h5v5h-5zM565 310h5v5h-5zM595 315h5v5h-5zM625 315h10v5h-10zM605 320h10v5h-10zM635 320h5v5h-5zM300 325h5v5h-5zM325 325h15v5h-15zM610 325h5v5h-5zM645 325h5v5h-5zM330 330h10v5h-10zM610 330h5v5h-5zM655 330h5v5h-5zM265 335h5v5h-5zM330 335h5v5h-5zM340 335h5v5h-5zM665 335h15v5h-15zM280 340h5v5h-5zM610 350h5v5h-5zM370 355h5v5h-5zM665 360h20v5h-20zM370 365h5v5h-5zM625 365h5v5h-5zM650 365h5v5h-5zM325 395h5v5h-5z"/>
<path fill="rgb(217,217,217)" d="M330 110h5v5h-5zM360 110h5v5h-5zM325 115h5v5h-5zM370 115h5v5h-5zM325 120h5v5h-5zM325 125h5v5h-5zM385 125h5v5h-5zM405 145h5v5h-5zM325 150h5v5h-5zM320 160h5v5h-5zM410 160h5v5h-5zM410 165h5v5h-5zM315 170h5v5h-5zM310 175h5v5h-5zM410 180h5v5h-5zM305 185h5v5h-5zM410 185h5v5h-5zM590 185h10v5h-10zM300 190h5v5h-5zM610 190h5v5h-5zM295 195h5v5h-5zM405 195h5v5h-5zM285 200h5v5h-5zM400 200h5v5h-5zM570 200h5v5h-5zM275 205h5v5h-5zM110 210h135v5h-135zM260 210h5v5h-5zM385 210h5v5h-5zM610 210h5v5h-5zM110 215h85v5h-85zM375 215h5v5h-5zM170 220h20v5h-20zM365 220h5v5h-5zM165 225h25v5h-25zM110 230h85v5h-85zM455 230h10v5h-10zM110 235h65v5h-65zM180 235h15v5h-15zM470 235h5v5h-5zM185 240h50v5h-50zM355 240h5v5h-5zM450 240h5v5h-5zM465 240h5v5h-5zM255 245h5v5h-5zM595 250h15v5h-15zM290 255h5v5h-5zM535 260h5v5h-5zM290 265h5v5h-5zM655 265h5v5h-5zM665 270h20v5h-20zM285 275h5v5h-5zM350 275h5v5h-5zM520 275h5v5h-5zM280 280h5v5h-5zM350 280h5v5h-5zM275 285h5v5h-5zM350 285h5v5h-5zM660 285h30v5h-30zM350 290h5v5h-5zM650 290h5v5h-5zM350 295h5v5h-5zM640 295h5v5h-5zM255 300h5v5h-5zM530 300h5v5h-5zM345 305h5v5h-5zM570 310h5v5h-5zM625 310h5v5h-5zM340 315h5v5h-5zM600 315h25v5h-25zM250 320h5v5h-5zM310 320h15v5h-15zM335 320h5v5h-5zM615 320h20v5h-20zM615 325h5v5h-5zM640 325h5v5h-5zM260 330h5v5h-5zM290 330h5v5h-5zM650 330h5v5h-5zM270 335h5v5h-5zM285 335h5v5h-5zM335 335h5v5h-5zM610 335h5v5h-5zM660 335h5v5h-5zM680 335h10v5h-10zM330 340h5v5h-5zM350 340h5v5h-5zM610 340h5v5h-5zM670 340h5v5h-5zM360 345h5v5h-5zM610 345h5v5h-5zM325 350h5v5h-5zM615 355h5v5h-5zM370 360h5v5h-5zM620 360h5v5h-5zM660 360h5v5h-5zM685 360h5v5h-5zM320 365h5v5h-5zM630 365h5v5h-5zM645 365h5v5h-5zM320 390h5v5h-5z"/>
<path fill="rgb(218,218,218)" d="M355 110h5v5h-5zM375 120h5v5h-5zM380 125h5v5h-5zM390 130h5v5h-5zM395 135h5v5h-5zM325 155h5v5h-5zM320 165h5v5h-5zM410 170h5v5h-5zM410 175h5v5h-5zM310 180h5v5h-5zM290 200h5v5h-5zM280 205h5v5h-5zM390 205h5v5h-5zM265 210h5v5h-5zM380 210h5v5h-5zM195 215h25v5h-25zM370 215h5v5h-5zM590 215h5v5h-5zM600 215h5v5h-5zM110 220h60v5h-60zM190 220h10v5h-10zM110 225h55v5h-55zM190 225h10v5h-10zM360 225h5v5h-5zM195 230h5v5h-5zM195 235h10v5h-10zM355 235h5v5h-5zM450 235h5v5h-5zM235 240h5v5h-5zM455 240h10v5h-10zM260 245h5v5h-5zM280 250h5v5h-5zM295 255h5v5h-5zM555 255h5v5h-5zM625 255h5v5h-5zM295 260h5v5h-5zM350 260h5v5h-5zM640 260h5v5h-5zM350 265h5v5h-5zM650 265h5v5h-5zM290 270h5v5h-5zM350 270h5v5h-5zM525 270h5v5h-5zM660 270h5v5h-5zM685 270h5v5h-5zM660 275h30v5h-30zM660 280h30v5h-30zM655 285h5v5h-5zM270 290h5v5h-5zM645 290h5v5h-5zM345 295h5v5h-5zM345 300h5v5h-5zM630 300h5v5h-5zM545 305h5v5h-5zM625 305h5v5h-5zM250 310h5v5h-5zM340 310h5v5h-5zM575 310h5v5h-5zM620 310h5v5h-5zM250 315h5v5h-5zM335 315h5v5h-5zM305 320h5v5h-5zM325 320h10v5h-10zM255 325h5v5h-5zM295 325h5v5h-5zM620 325h20v5h-20zM265 330h5v5h-5zM615 330h5v5h-5zM645 330h5v5h-5zM275 335h10v5h-10zM655 335h5v5h-5zM345 340h5v5h-5zM660 340h10v5h-10zM675 340h15v5h-15zM665 345h15v5h-15zM365 350h5v5h-5zM665 350h15v5h-15zM660 355h30v5h-30zM655 360h5v5h-5zM635 365h10v5h-10z"/>
<path fill="rgb(219,219,219)" d="M335 110h5v5h-5zM350 110h5v5h-5zM365 115h5v5h-5zM370 120h5v5h-5zM330 130h5v5h-5zM385 130h5v5h-5zM330 135h5v5h-5zM330 140h5v5h-5zM400 140h5v5h-5zM330 145h5v5h-5zM405 150h5v5h-5zM315 175h5v5h-5zM310 185h5v5h-5zM305 190h5v5h-5zM405 190h5v5h-5zM580 190h5v5h-5zM300 195h5v5h-5zM295 200h5v5h-5zM395 200h5v5h-5zM285 205h5v5h-5zM270 210h5v5h-5zM220 215h30v5h-30zM595 215h5v5h-5zM200 220h15v5h-15zM200 225h5v5h-5zM200 230h5v5h-5zM355 230h5v5h-5zM205 235h10v5h-10zM455 235h15v5h-15zM240 240h5v5h-5zM285 250h20v5h-20zM300 255h5v5h-5zM350 255h5v5h-5zM560 255h5v5h-5zM300 260h5v5h-5zM635 260h5v5h-5zM295 265h5v5h-5zM530 265h5v5h-5zM655 270h5v5h-5zM655 275h5v5h-5zM345 280h5v5h-5zM655 280h5v5h-5zM345 285h5v5h-5zM650 285h5v5h-5zM345 290h5v5h-5zM265 295h5v5h-5zM635 295h5v5h-5zM260 300h5v5h-5zM340 300h5v5h-5zM255 305h5v5h-5zM340 305h5v5h-5zM335 310h5v5h-5zM580 310h10v5h-10zM610 310h10v5h-10zM315 315h20v5h-20zM255 320h5v5h-5zM300 320h5v5h-5zM260 325h5v5h-5zM290 325h5v5h-5zM270 330h5v5h-5zM285 330h5v5h-5zM620 330h5v5h-5zM640 330h5v5h-5zM615 335h5v5h-5zM650 335h5v5h-5zM335 340h10v5h-10zM615 340h5v5h-5zM655 340h5v5h-5zM330 345h5v5h-5zM355 345h5v5h-5zM615 345h5v5h-5zM660 345h5v5h-5zM680 345h10v5h-10zM615 350h5v5h-5zM660 350h5v5h-5zM680 350h10v5h-10zM325 355h5v5h-5zM650 360h5v5h-5zM365 380h5v5h-5zM350 395h5v5h-5z"/>
<path fill="rgb(220,220,220)" d="M340 110h10v5h-10zM330 115h5v5h-5zM360 115h5v5h-5zM330 125h5v5h-5zM375 125h5v5h-5zM380 130h5v5h-5zM390 135h5v5h-5zM330 150h5v5h-5zM405 155h5v5h-5zM325 160h5v5h-5zM320 170h5v5h-5zM315 180h5v5h-5zM605 190h5v5h-5zM305 195h5v5h-5zM400 195h5v5h-5zM575 195h5v5h-5zM610 195h5v5h-5zM290 205h5v5h-5zM385 205h5v5h-5zM575 205h5v5h-5zM610 205h5v5h-5zM275 210h5v5h-5zM375 210h5v5h-5zM580 210h5v5h-5zM250 215h10v5h-10zM365 215h5v5h-5zM215 220h10v5h-10zM360 220h5v5h-5zM205 225h10v5h-10zM205 230h10v5h-10zM215 235h15v5h-15zM305 240h5v5h-5zM265 245h5v5h-5zM295 245h15v5h-15zM305 250h5v5h-5zM350 250h5v5h-5zM305 255h5v5h-5zM620 255h5v5h-5zM305 260h5v5h-5zM540 260h5v5h-5zM300 265h5v5h-5zM645 265h5v5h-5zM295 270h5v5h-5zM345 270h5v5h-5zM650 270h5v5h-5zM290 275h5v5h-5zM345 275h5v5h-5zM285 280h5v5h-5zM520 280h5v5h-5zM650 280h5v5h-5zM280 285h5v5h-5zM340 285h5v5h-5zM275 290h5v5h-5zM340 290h5v5h-5zM520 290h5v5h-5zM640 290h5v5h-5zM270 295h5v5h-5zM340 295h5v5h-5zM525 295h5v5h-5zM625 300h5v5h-5zM335 305h5v5h-5zM550 305h5v5h-5zM620 305h5v5h-5zM255 310h5v5h-5zM330 310h5v5h-5zM590 310h20v5h-20zM255 315h5v5h-5zM305 315h10v5h-10zM295 320h5v5h-5zM285 325h5v5h-5zM275 330h10v5h-10zM625 330h15v5h-15zM620 335h5v5h-5zM645 335h5v5h-5zM655 345h5v5h-5zM655 350h5v5h-5zM620 355h5v5h-5zM655 355h5v5h-5zM625 360h5v5h-5zM320 370h5v5h-5z"/>
<path fill="rgb(221,221,221)" d="M330 120h5v5h-5zM365 120h5v5h-5zM370 125h5v5h-5zM375 130h5v5h-5zM395 140h5v5h-5zM400 145h5v5h-5zM330 155h5v5h-5zM405 160h5v5h-5zM325 165h5v5h-5zM320 175h5v5h-5zM315 185h5v5h-5zM405 185h5v5h-5zM310 190h5v5h-5zM300 200h5v5h-5zM390 200h5v5h-5zM575 200h5v5h-5zM610 200h5v5h-5zM295 205h5v5h-5zM280 210h5v5h-5zM370 210h5v5h-5zM605 210h5v5h-5zM260 215h5v5h-5zM225 220h15v5h-15zM215 225h10v5h-10zM355 225h5v5h-5zM215 230h10v5h-10zM230 235h5v5h-5zM305 235h5v5h-5zM245 240h5v5h-5zM300 240h5v5h-5zM310 240h5v5h-5zM270 245h10v5h-10zM290 245h5v5h-5zM310 245h5v5h-5zM350 245h5v5h-5zM310 250h5v5h-5zM310 255h5v5h-5zM565 255h5v5h-5zM630 260h5v5h-5zM345 265h5v5h-5zM640 265h5v5h-5zM645 270h5v5h-5zM650 275h5v5h-5zM340 280h5v5h-5zM645 285h5v5h-5zM335 290h5v5h-5zM335 295h5v5h-5zM630 295h5v5h-5zM265 300h5v5h-5zM335 300h5v5h-5zM535 300h5v5h-5zM260 305h5v5h-5zM330 305h5v5h-5zM615 305h5v5h-5zM320 310h10v5h-10zM300 315h5v5h-5zM260 320h5v5h-5zM290 320h5v5h-5zM265 325h10v5h-10zM280 325h5v5h-5zM625 335h5v5h-5zM640 335h5v5h-5zM620 340h5v5h-5zM650 340h5v5h-5zM620 350h5v5h-5zM650 355h5v5h-5zM630 360h5v5h-5zM645 360h5v5h-5zM320 385h5v5h-5zM330 395h5v5h-5z"/>
<path fill="rgb(222,222,222)" d="M335 115h5v5h-5zM355 115h5v5h-5zM360 120h5v5h-5zM365 125h5v5h-5zM335 130h5v5h-5zM370 130h5v5h-5zM335 135h5v5h-5zM385 135h5v5h-5zM335 140h5v5h-5zM335 145h5v5h-5zM330 160h5v5h-5zM405 165h5v5h-5zM325 170h5v5h-5zM405 170h5v5h-5zM405 175h5v5h-5zM320 180h5v5h-5zM405 180h5v5h-5zM315 190h5v5h-5zM400 190h5v5h-5zM585 190h5v5h-5zM600 190h5v5h-5zM310 195h5v5h-5zM395 195h5v5h-5zM305 200h5v5h-5zM300 205h5v5h-5zM380 205h5v5h-5zM285 210h10v5h-10zM265 215h10v5h-10zM360 215h5v5h-5zM240 220h5v5h-5zM355 220h5v5h-5zM225 225h10v5h-10zM225 230h10v5h-10zM305 230h5v5h-5zM235 235h5v5h-5zM300 235h5v5h-5zM310 235h5v5h-5zM250 240h5v5h-5zM295 240h5v5h-5zM350 240h5v5h-5zM280 245h10v5h-10zM570 255h5v5h-5zM615 255h5v5h-5zM310 260h5v5h-5zM345 260h5v5h-5zM305 265h5v5h-5zM300 270h5v5h-5zM295 275h5v5h-5zM340 275h5v5h-5zM645 275h5v5h-5zM290 280h5v5h-5zM645 280h5v5h-5zM285 285h5v5h-5zM335 285h5v5h-5zM520 285h5v5h-5zM280 290h5v5h-5zM275 295h5v5h-5zM330 295h5v5h-5zM270 300h5v5h-5zM330 300h5v5h-5zM265 305h5v5h-5zM325 305h5v5h-5zM555 305h5v5h-5zM260 310h5v5h-5zM305 310h15v5h-15zM260 315h5v5h-5zM295 315h5v5h-5zM265 320h5v5h-5zM285 320h5v5h-5zM275 325h5v5h-5zM630 335h10v5h-10zM625 340h5v5h-5zM645 340h5v5h-5zM335 345h5v5h-5zM350 345h5v5h-5zM620 345h5v5h-5zM650 345h5v5h-5zM330 350h5v5h-5zM360 350h5v5h-5zM650 350h5v5h-5zM365 355h5v5h-5zM625 355h5v5h-5zM325 360h5v5h-5zM635 360h10v5h-10zM320 375h5v5h-5zM320 380h5v5h-5z"/>
<path fill="rgb(223,223,223)" d="M340 115h15v5h-15zM335 120h5v5h-5zM335 125h5v5h-5zM360 125h5v5h-5zM365 130h5v5h-5zM375 135h10v5h-10zM390 140h5v5h-5zM335 150h5v5h-5zM400 150h5v5h-5zM330 165h5v5h-5zM325 175h5v5h-5zM325 180h5v5h-5zM320 185h5v5h-5zM590 190h10v5h-10zM315 195h5v5h-5zM310 200h5v5h-5zM385 200h5v5h-5zM305 205h5v5h-5zM375 205h5v5h-5zM295 210h10v5h-10zM365 210h5v5h-5zM275 215h5v5h-5zM245 220h5v5h-5zM235 225h5v5h-5zM300 225h15v5h-15zM235 230h5v5h-5zM300 230h5v5h-5zM310 230h5v5h-5zM240 235h5v5h-5zM295 235h5v5h-5zM350 235h5v5h-5zM290 240h5v5h-5zM315 240h5v5h-5zM315 245h5v5h-5zM315 250h5v5h-5zM315 255h5v5h-5zM345 255h5v5h-5zM575 255h5v5h-5zM610 255h5v5h-5zM545 260h5v5h-5zM625 260h5v5h-5zM310 265h5v5h-5zM635 265h5v5h-5zM305 270h5v5h-5zM340 270h5v5h-5zM640 270h5v5h-5zM300 275h5v5h-5zM335 275h5v5h-5zM525 275h5v5h-5zM335 280h5v5h-5zM330 285h5v5h-5zM640 285h5v5h-5zM285 290h5v5h-5zM330 290h5v5h-5zM635 290h5v5h-5zM280 295h5v5h-5zM325 300h5v5h-5zM620 300h5v5h-5zM315 305h10v5h-10zM560 305h5v5h-5zM610 305h5v5h-5zM265 310h5v5h-5zM295 310h10v5h-10zM265 315h5v5h-5zM285 315h10v5h-10zM270 320h15v5h-15zM630 340h5v5h-5zM640 340h5v5h-5zM345 345h5v5h-5zM625 345h5v5h-5zM645 345h5v5h-5zM625 350h5v5h-5zM645 350h5v5h-5zM630 355h5v5h-5zM645 355h5v5h-5zM365 375h5v5h-5zM325 390h5v5h-5z"/>
<path fill="rgb(224,224,224)" d="M355 120h5v5h-5zM355 125h5v5h-5zM340 130h5v5h-5zM360 130h5v5h-5zM340 135h5v5h-5zM360 135h15v5h-15zM340 140h5v5h-5zM340 145h5v5h-5zM395 145h5v5h-5zM335 155h5v5h-5zM335 160h5v5h-5zM330 170h5v5h-5zM330 175h5v5h-5zM325 185h5v5h-5zM400 185h5v5h-5zM320 190h5v5h-5zM580 195h5v5h-5zM605 195h5v5h-5zM315 200h5v5h-5zM310 205h5v5h-5zM305 210h10v5h-10zM360 210h5v5h-5zM585 210h5v5h-5zM600 210h5v5h-5zM280 215h35v5h-35zM355 215h5v5h-5zM250 220h10v5h-10zM300 220h15v5h-15zM240 225h5v5h-5zM295 230h5v5h-5zM315 230h5v5h-5zM350 230h5v5h-5zM315 235h5v5h-5zM255 240h5v5h-5zM345 250h5v5h-5zM315 260h5v5h-5zM315 265h5v5h-5zM340 265h5v5h-5zM535 265h5v5h-5zM310 270h5v5h-5zM335 270h5v5h-5zM295 280h5v5h-5zM330 280h5v5h-5zM290 285h5v5h-5zM325 290h5v5h-5zM325 295h5v5h-5zM530 295h5v5h-5zM625 295h5v5h-5zM275 300h10v5h-10zM320 300h5v5h-5zM540 300h5v5h-5zM270 305h10v5h-10zM305 305h10v5h-10zM565 305h5v5h-5zM605 305h5v5h-5zM270 310h5v5h-5zM285 310h10v5h-10zM270 315h15v5h-15zM635 340h5v5h-5zM340 345h5v5h-5zM630 345h5v5h-5zM640 345h5v5h-5zM630 350h5v5h-5zM640 350h5v5h-5zM635 355h10v5h-10zM365 360h5v5h-5zM335 395h5v5h-5zM345 395h5v5h-5z"/>
<path fill="rgb(225,225,225)" d="M340 120h15v5h-15zM340 125h15v5h-15zM345 130h15v5h-15zM345 135h15v5h-15zM345 140h20v5h-20zM380 140h10v5h-10zM345 145h5v5h-5zM340 150h5v5h-5zM400 155h5v5h-5zM335 165h5v5h-5zM330 180h5v5h-5zM400 180h5v5h-5zM330 185h5v5h-5zM325 190h5v5h-5zM395 190h5v5h-5zM320 195h5v5h-5zM390 195h5v5h-5zM320 200h5v5h-5zM380 200h5v5h-5zM315 205h5v5h-5zM370 205h5v5h-5zM580 205h5v5h-5zM605 205h5v5h-5zM315 210h5v5h-5zM260 220h5v5h-5zM290 220h10v5h-10zM315 220h5v5h-5zM350 220h5v5h-5zM245 225h5v5h-5zM295 225h5v5h-5zM315 225h5v5h-5zM350 225h5v5h-5zM240 230h5v5h-5zM245 235h5v5h-5zM290 235h5v5h-5zM260 240h5v5h-5zM285 240h5v5h-5zM345 245h5v5h-5zM580 255h10v5h-10zM600 255h10v5h-10zM320 260h5v5h-5zM340 260h5v5h-5zM320 265h5v5h-5zM315 270h5v5h-5zM330 270h5v5h-5zM530 270h5v5h-5zM305 275h10v5h-10zM325 275h10v5h-10zM640 275h5v5h-5zM300 280h5v5h-5zM325 280h5v5h-5zM640 280h5v5h-5zM295 285h5v5h-5zM325 285h5v5h-5zM290 290h5v5h-5zM320 290h5v5h-5zM525 290h5v5h-5zM285 295h10v5h-10zM320 295h5v5h-5zM285 300h10v5h-10zM310 300h10v5h-10zM615 300h5v5h-5zM280 305h25v5h-25zM570 305h5v5h-5zM595 305h10v5h-10zM275 310h10v5h-10zM635 345h5v5h-5zM355 350h5v5h-5zM635 350h5v5h-5zM325 365h5v5h-5zM365 365h5v5h-5zM365 370h5v5h-5zM360 385h5v5h-5zM355 390h5v5h-5zM340 395h5v5h-5z"/>
<path fill="rgb(226,226,226)" d="M365 140h15v5h-15zM350 145h5v5h-5zM390 145h5v5h-5zM345 150h5v5h-5zM395 150h5v5h-5zM340 155h5v5h-5zM340 160h5v5h-5zM400 160h5v5h-5zM400 165h5v5h-5zM335 170h5v5h-5zM335 175h5v5h-5zM400 175h5v5h-5zM330 190h5v5h-5zM325 195h5v5h-5zM375 200h5v5h-5zM580 200h5v5h-5zM605 200h5v5h-5zM320 205h5v5h-5zM365 205h5v5h-5zM355 210h5v5h-5zM590 210h10v5h-10zM315 215h5v5h-5zM350 215h5v5h-5zM265 220h10v5h-10zM285 220h5v5h-5zM290 225h5v5h-5zM245 230h5v5h-5zM290 230h5v5h-5zM265 240h20v5h-20zM320 240h5v5h-5zM345 240h5v5h-5zM320 245h5v5h-5zM320 250h5v5h-5zM320 255h5v5h-5zM340 255h5v5h-5zM590 255h10v5h-10zM550 260h5v5h-5zM620 260h5v5h-5zM325 265h15v5h-15zM630 265h5v5h-5zM320 270h10v5h-10zM635 270h5v5h-5zM315 275h10v5h-10zM305 280h20v5h-20zM300 285h5v5h-5zM320 285h5v5h-5zM635 285h5v5h-5zM295 290h5v5h-5zM315 290h5v5h-5zM630 290h5v5h-5zM295 295h5v5h-5zM310 295h10v5h-10zM295 300h15v5h-15zM575 305h20v5h-20zM335 350h5v5h-5zM330 355h5v5h-5zM360 355h5v5h-5z"/>
<path fill="rgb(227,227,227)" d="M355 145h15v5h-15zM350 150h5v5h-5zM345 155h5v5h-5zM340 165h5v5h-5zM400 170h5v5h-5zM335 180h5v5h-5zM335 185h5v5h-5zM395 185h5v5h-5zM335 190h5v5h-5zM390 190h5v5h-5zM330 195h5v5h-5zM385 195h5v5h-5zM585 195h5v5h-5zM600 195h5v5h-5zM325 200h10v5h-10zM325 205h5v5h-5zM360 205h5v5h-5zM320 210h5v5h-5zM350 210h5v5h-5zM320 215h5v5h-5zM275 220h10v5h-10zM320 220h5v5h-5zM250 225h5v5h-5zM320 225h5v5h-5zM320 230h5v5h-5zM250 235h5v5h-5zM285 235h5v5h-5zM320 235h5v5h-5zM345 235h5v5h-5zM325 255h5v5h-5zM325 260h15v5h-15zM525 280h5v5h-5zM305 285h15v5h-15zM525 285h5v5h-5zM300 290h15v5h-15zM300 295h10v5h-10zM620 295h5v5h-5zM545 300h5v5h-5zM610 300h5v5h-5zM350 350h5v5h-5z"/>
<path fill="rgb(228,228,228)" d="M370 145h20v5h-20zM355 150h5v5h-5zM350 155h5v5h-5zM395 155h5v5h-5zM345 160h5v5h-5zM340 170h5v5h-5zM340 175h5v5h-5zM340 180h5v5h-5zM335 195h5v5h-5zM380 195h5v5h-5zM590 195h10v5h-10zM335 200h5v5h-5zM370 200h5v5h-5zM330 205h5v5h-5zM355 205h5v5h-5zM585 205h5v5h-5zM600 205h5v5h-5zM325 210h5v5h-5zM345 215h5v5h-5zM345 220h5v5h-5zM255 225h5v5h-5zM285 225h5v5h-5zM345 225h5v5h-5zM250 230h5v5h-5zM285 230h5v5h-5zM345 230h5v5h-5zM255 235h5v5h-5zM280 235h5v5h-5zM325 250h5v5h-5zM340 250h5v5h-5zM335 255h5v5h-5zM555 260h5v5h-5zM615 260h5v5h-5zM540 265h5v5h-5zM625 265h5v5h-5zM635 275h5v5h-5zM635 280h5v5h-5zM535 295h5v5h-5zM340 350h5v5h-5zM325 370h5v5h-5zM325 385h5v5h-5z"/>
<path fill="rgb(229,229,229)" d="M360 150h5v5h-5zM390 150h5v5h-5zM355 155h5v5h-5zM350 160h5v5h-5zM345 165h5v5h-5zM345 170h5v5h-5zM395 180h5v5h-5zM340 185h5v5h-5zM340 190h5v5h-5zM385 190h5v5h-5zM340 195h5v5h-5zM340 200h10v5h-10zM360 200h10v5h-10zM585 200h5v5h-5zM600 200h5v5h-5zM335 205h20v5h-20zM330 210h5v5h-5zM340 210h10v5h-10zM325 215h5v5h-5zM325 220h5v5h-5zM260 225h25v5h-25zM325 225h5v5h-5zM255 230h5v5h-5zM280 230h5v5h-5zM325 240h5v5h-5zM325 245h5v5h-5zM340 245h5v5h-5zM330 255h5v5h-5zM560 260h5v5h-5zM630 270h5v5h-5zM530 275h5v5h-5zM625 290h5v5h-5zM550 300h5v5h-5zM605 300h5v5h-5zM345 350h5v5h-5zM330 360h5v5h-5zM330 390h5v5h-5z"/>
<path fill="rgb(230,230,230)" d="M365 150h10v5h-10zM385 150h5v5h-5zM360 155h5v5h-5zM395 160h5v5h-5zM350 165h5v5h-5zM395 165h5v5h-5zM395 170h5v5h-5zM345 175h5v5h-5zM395 175h5v5h-5zM345 180h5v5h-5zM345 185h5v5h-5zM390 185h5v5h-5zM345 190h5v5h-5zM345 195h5v5h-5zM375 195h5v5h-5zM350 200h10v5h-10zM590 205h10v5h-10zM335 210h5v5h-5zM330 215h15v5h-15zM340 220h5v5h-5zM340 225h5v5h-5zM260 230h5v5h-5zM275 230h5v5h-5zM325 230h5v5h-5zM260 235h20v5h-20zM325 235h5v5h-5zM340 235h5v5h-5zM340 240h5v5h-5zM330 250h10v5h-10zM610 260h5v5h-5zM620 265h5v5h-5zM535 270h5v5h-5zM630 285h5v5h-5zM530 290h5v5h-5zM615 295h5v5h-5zM600 300h5v5h-5zM355 355h5v5h-5zM360 360h5v5h-5zM325 375h5v5h-5zM325 380h5v5h-5z"/>
<path fill="rgb(231,231,231)" d="M375 150h10v5h-10zM390 155h5v5h-5zM355 160h5v5h-5zM350 170h5v5h-5zM380 190h5v5h-5zM350 195h10v5h-10zM365 195h10v5h-10zM590 200h10v5h-10zM330 220h10v5h-10zM330 225h5v5h-5zM265 230h10v5h-10zM340 230h5v5h-5zM330 240h5v5h-5zM330 245h10v5h-10zM565 260h5v5h-5zM630 275h5v5h-5zM555 300h5v5h-5zM335 355h5v5h-5zM360 380h5v5h-5z"/>
<path fill="rgb(232,232,232)" d="M365 155h5v5h-5zM360 160h5v5h-5zM355 165h5v5h-5zM350 175h5v5h-5zM350 180h5v5h-5zM390 180h5v5h-5zM350 185h5v5h-5zM385 185h5v5h-5zM350 190h5v5h-5zM375 190h5v5h-5zM360 195h5v5h-5zM335 225h5v5h-5zM330 230h10v5h-10zM330 235h10v5h-10zM335 240h5v5h-5zM570 260h5v5h-5zM605 260h5v5h-5zM545 265h5v5h-5zM625 270h5v5h-5zM530 280h5v5h-5zM630 280h5v5h-5zM530 285h5v5h-5zM540 295h5v5h-5zM590 300h10v5h-10zM350 390h5v5h-5z"/>
<path fill="rgb(233,233,233)" d="M370 155h10v5h-10zM385 155h5v5h-5zM365 160h5v5h-5zM390 160h5v5h-5zM360 165h5v5h-5zM390 165h5v5h-5zM355 170h5v5h-5zM390 175h5v5h-5zM355 190h10v5h-10zM370 190h5v5h-5zM600 260h5v5h-5zM615 265h5v5h-5zM620 290h5v5h-5zM610 295h5v5h-5zM560 300h10v5h-10zM585 300h5v5h-5zM340 355h5v5h-5zM350 355h5v5h-5zM330 365h5v5h-5zM360 365h5v5h-5z"/>
<path fill="rgb(234,234,234)" d="M380 155h5v5h-5zM390 170h5v5h-5zM355 175h5v5h-5zM355 180h5v5h-5zM385 180h5v5h-5zM355 185h5v5h-5zM380 185h5v5h-5zM365 190h5v5h-5zM575 260h10v5h-10zM595 260h5v5h-5zM550 265h5v5h-5zM625 285h5v5h-5zM535 290h5v5h-5zM570 300h15v5h-15zM345 355h5v5h-5zM360 370h5v5h-5zM360 375h5v5h-5zM335 390h5v5h-5z"/>
<path fill="rgb(235,235,235)" d="M370 160h20v5h-20zM365 165h5v5h-5zM360 170h5v5h-5zM360 175h5v5h-5zM385 175h5v5h-5zM360 180h5v5h-5zM360 185h20v5h-20zM585 260h10v5h-10zM610 265h5v5h-5zM540 270h5v5h-5zM620 270h5v5h-5zM535 275h5v5h-5zM625 275h5v5h-5zM545 295h5v5h-5zM605 295h5v5h-5zM335 360h5v5h-5zM355 360h5v5h-5zM330 385h5v5h-5zM355 385h5v5h-5z"/>
<path fill="rgb(236,236,236)" d="M370 165h5v5h-5zM385 165h5v5h-5zM365 170h5v5h-5zM385 170h5v5h-5zM365 175h5v5h-5zM365 180h20v5h-20zM625 280h5v5h-5zM330 370h5v5h-5zM340 390h10v5h-10z"/>
<path fill="rgb(237,237,237)" d="M375 165h10v5h-10zM370 170h15v5h-15zM370 175h15v5h-15zM555 265h5v5h-5zM535 280h5v5h-5zM535 285h5v5h-5zM615 290h5v5h-5zM600 295h5v5h-5z"/>
<path fill="rgb(238,238,238)" d="M605 265h5v5h-5zM615 270h5v5h-5zM620 285h5v5h-5zM540 290h5v5h-5zM550 295h5v5h-5zM340 360h5v5h-5zM350 360h5v5h-5zM330 375h5v5h-5zM330 380h5v5h-5z"/>
<path fill="rgb(239,239,239)" d="M560 265h5v5h-5zM545 270h5v5h-5zM540 275h5v5h-5zM620 275h5v5h-5zM595 295h5v5h-5zM345 360h5v5h-5zM335 365h5v5h-5zM355 365h5v5h-5z"/>
<path fill="rgb(240,240,240)" d="M565 265h5v5h-5zM600 265h5v5h-5zM610 290h5v5h-5zM555 295h5v5h-5zM590 295h5v5h-5z"/>
<path fill="rgb(241,241,241)" d="M570 265h5v5h-5zM595 265h5v5h-5zM610 270h5v5h-5zM620 280h5v5h-5zM540 285h5v5h-5zM545 290h5v5h-5zM560 295h5v5h-5zM585 295h5v5h-5zM355 370h5v5h-5zM355 380h5v5h-5zM335 385h5v5h-5z"/>
<path fill="rgb(242,242,242)" d="M575 265h5v5h-5zM590 265h5v5h-5zM550 270h5v5h-5zM540 280h5v5h-5zM565 295h5v5h-5zM580 295h5v5h-5zM350 365h5v5h-5zM335 370h5v5h-5zM350 385h5v5h-5z"/>
<path fill="rgb(243,243,243)" d="M580 265h10v5h-10zM605 270h5v5h-5zM545 275h5v5h-5zM615 275h5v5h-5zM615 285h5v5h-5zM605 290h5v5h-5zM570 295h10v5h-10zM340 365h5v5h-5zM355 375h5v5h-5z"/>
<path fill="rgb(244,244,244)" d="M555 270h5v5h-5zM550 290h5v5h-5zM345 365h5v5h-5zM335 375h5v5h-5zM335 380h5v5h-5zM340 385h5v5h-5z"/>
<path fill="rgb(245,245,245)" d="M615 280h5v5h-5zM545 285h5v5h-5zM600 290h5v5h-5zM345 385h5v5h-5z"/>
<path fill="rgb(246,246,246)" d="M560 270h5v5h-5zM600 270h5v5h-5zM610 275h5v5h-5zM545 280h5v5h-5zM610 285h5v5h-5zM340 370h5v5h-5zM350 370h5v5h-5z"/>
<path fill="rgb(247,247,247)" d="M550 275h5v5h-5zM555 290h5v5h-5zM595 290h5v5h-5zM345 370h5v5h-5zM350 380h5v5h-5z"/>
<path fill="rgb(248,248,248)" d="M565 270h5v5h-5zM595 270h5v5h-5zM590 290h5v5h-5zM340 375h5v5h-5zM350 375h5v5h-5zM340 380h5v5h-5z"/>
<path fill="rgb(249,249,249)" d="M570 270h5v5h-5zM590 270h5v5h-5zM555 275h5v5h-5zM605 275h5v5h-5zM550 280h5v5h-5zM610 280h5v5h-5zM550 285h5v5h-5zM605 285h5v5h-5zM560 290h5v5h-5zM585 290h5v5h-5zM345 380h5v5h-5z"/>
<path fill="rgb(250,250,250)" d="M575 270h15v5h-15zM565 290h20v5h-20zM345 375h5v5h-5z"/>
<path fill="rgb(251,251,251)" d="M600 275h5v5h-5zM555 285h5v5h-5z"/>
<path fill="rgb(252,252,252)" d="M560 275h5v5h-5zM555 280h5v5h-5zM605 280h5v5h-5zM600 285h5v5h-5z"/>
<path fill="rgb(253,253,253)" d="M565 275h5v5h-5zM595 275h5v5h-5zM560 285h5v5h-5z"/>
<path fill="rgb(254,254,254)" d="M570 275h5v5h-5zM590 275h5v5h-5zM560 280h5v5h-5zM600 280h5v5h-5zM595 285h5v5h-5z"/>
<path fill="rgb(255,255,255)" d="M575 275h15v5h-15zM565 280h35v5h-35zM565 285h30v5h-30z"/>
</g>
<g id="land" fill="#fff" shape-rendering="crispEdges">
<path d="M120 50H357.5V59H347V64.2H341.7V68H336.5V72.5H330.5V77.7H320V82.2H315.5V86.7H310.2V92H295.2V77.7H283.2V96.5H289.2V105.5H304.2V152.5H299.2V166.7H294V181H289.5V199.5H284.3V217.6H279V222.6L261.5 223.4L247.5 225.6L236.1 226.3V229H221.2V232.5H215.5V235.5H210V238.4H205V242.4H199.8V247.3H194.2V251.7H189V257.4H186.5V262.2H183.7V270.7H178.5V280H173.2V284.8H168V290H162.7V299H157.5V303.6H147.5V306.2H144.4V318H146.9V323.7H148.1V328.7H152.5V336.9H146.9V356.9H152.5V369.3H147.3V378.6H142.2V402.4H137.9V431.2H142.2V449H137.1V459.2H132V463.5H126V468H120Z"/>

</g>
<g id="contours" opacity="0.999" fill="none" stroke="#000" stroke-width="1">
<path d="M304.5 152.0C304.9 151.3 305.0 152.2 306.0 149.5C307.0 146.8 307.5 147.2 308.2 142.0C308.9 136.8 308.4 135.7 308.7 130.0C309.0 124.3 308.7 126.6 309.5 120.5C310.3 114.4 310.5 112.6 311.7 107.0C312.9 101.4 312.6 102.1 314.0 99.5C315.4 96.9 313.8 98.0 317.0 97.2C320.2 96.4 319.9 96.4 326.0 96.5C332.1 96.6 331.6 97.0 340.0 97.5C348.4 98.0 349.5 97.3 357.5 98.3C365.5 99.3 363.3 98.9 370.0 101.2C376.7 103.5 372.5 104.0 382.5 107.0C392.5 110.0 397.2 108.5 407.5 112.5C417.8 116.5 415.5 115.7 421.2 122.0C426.9 128.3 425.7 128.7 428.7 136.2C431.7 143.7 428.5 143.0 432.5 150.0C436.5 157.0 438.7 155.5 443.7 162.5C448.7 169.5 451.5 170.5 451.2 176.2C450.9 181.9 449.5 177.4 442.5 183.7C435.5 190.0 429.0 192.3 425.0 200.0C421.0 207.7 425.5 206.2 427.5 212.5C429.5 218.8 429.0 220.4 432.5 223.7C436.0 227.0 433.4 225.0 440.7 225.0C448.0 225.0 450.2 224.5 460.0 223.7C469.8 222.9 469.5 223.3 477.5 222.0C485.5 220.7 484.7 221.9 490.0 218.7C495.3 215.5 495.2 215.0 497.5 210.0C499.8 205.0 498.8 204.7 498.5 200.0C498.2 195.3 495.8 196.2 496.2 192.5C496.6 188.8 496.3 189.2 500.0 186.2C503.7 183.2 503.3 183.1 510.0 181.2C516.7 179.3 517.0 179.0 525.0 179.0C533.0 179.0 532.7 180.1 540.0 181.2C547.3 182.3 545.8 183.0 552.5 183.2C559.2 183.4 558.3 183.2 565.0 182.0C571.7 180.8 570.5 181.2 577.5 178.7C584.5 176.2 584.3 175.0 591.2 172.5C598.1 170.0 598.2 169.8 603.2 169.5C608.2 169.2 604.2 168.4 610.0 171.2C615.8 174.0 618.3 175.3 625.0 180.0C631.7 184.7 628.9 183.4 635.0 188.7C641.1 194.0 644.7 196.0 648.0 200.0C651.3 204.0 651.0 199.7 647.5 203.7C644.0 207.7 641.7 208.7 635.0 215.0C628.3 221.3 629.2 222.8 622.5 227.5C615.8 232.2 616.0 231.2 610.0 232.5C604.0 233.8 606.7 233.5 600.0 232.5C593.3 231.5 593.7 231.7 585.0 228.7C576.3 225.7 574.8 225.2 567.5 221.2C560.2 217.2 562.5 217.4 557.5 213.7C552.5 210.0 554.0 208.8 548.7 207.5C543.4 206.2 543.8 206.2 537.5 208.7C531.2 211.2 529.7 212.3 525.0 217.0C520.3 221.7 521.7 220.7 520.0 226.2C518.3 231.7 521.0 232.5 518.7 237.5C516.4 242.5 516.9 241.3 511.2 245.0C505.5 248.7 505.8 247.9 497.5 251.2C489.2 254.5 488.7 254.8 480.0 257.5C471.3 260.2 473.7 258.7 465.0 261.2C456.3 263.7 454.5 263.7 447.5 267.0C440.5 270.3 443.2 271.7 438.7 273.7C434.2 275.7 434.8 273.5 430.5 274.5C426.2 275.5 425.6 274.4 422.5 277.5C419.4 280.6 422.7 280.5 418.7 286.2C414.7 291.9 413.2 292.0 407.5 298.7C401.8 305.4 402.5 304.2 397.5 311.2C392.5 318.2 392.6 318.1 388.7 325.0C384.8 331.9 384.1 330.3 383.0 337.0C381.9 343.7 384.7 342.5 384.7 350.0C384.7 357.5 384.9 357.7 383.0 365.0C381.1 372.3 381.0 370.8 377.5 377.5C374.0 384.2 375.3 384.0 370.0 390.0C364.7 396.0 364.2 395.7 357.5 400.0C350.8 404.3 350.7 403.9 345.0 406.2C339.3 408.5 341.5 407.9 336.2 408.7C330.9 409.5 330.7 409.5 325.0 409.2C319.3 408.9 319.3 410.3 315.0 407.5C310.7 404.7 310.0 405.4 308.7 398.7C307.4 392.0 307.7 391.5 310.0 382.5C312.3 373.5 313.5 372.5 317.5 365.0C321.5 357.5 322.0 358.5 325.0 354.5C328.0 350.5 327.2 352.9 328.7 350.0C330.2 347.1 330.5 346.7 330.5 343.7C330.5 340.7 330.2 340.7 328.7 338.7C327.2 336.7 327.3 336.9 325.0 336.2C322.7 335.5 324.0 335.2 320.0 336.2C316.0 337.2 315.0 336.3 310.0 340.0C305.0 343.7 303.9 345.3 301.2 350.0C298.5 354.7 300.0 352.5 300.0 357.5C300.0 362.5 301.9 361.4 301.2 368.7C300.5 376.0 300.5 376.0 297.5 385.0C294.5 394.0 294.7 393.5 290.0 402.5C285.3 411.5 285.3 410.0 280.0 418.7C274.7 427.4 274.7 428.0 270.0 435.0C265.3 442.0 268.2 440.2 262.5 445.0C256.8 449.8 255.7 452.2 248.7 453.0C241.7 453.8 241.5 447.8 236.2 448.0C230.9 448.2 232.7 450.2 228.7 453.7C224.7 457.2 225.2 457.5 221.2 461.2C217.2 464.9 216.6 465.3 213.7 467.5C210.8 469.7 213.5 469.5 210.5 469.5C207.5 469.5 206.6 469.7 202.5 467.5C198.4 465.3 197.7 465.9 195.0 461.2C192.3 456.5 192.2 456.0 192.5 450.0C192.8 444.0 192.2 445.4 196.2 438.7C200.2 432.0 200.5 433.0 207.5 425.0C214.5 417.0 215.2 416.7 222.5 408.7C229.8 400.7 227.7 402.7 235.0 395.0C242.3 387.3 242.0 387.7 250.0 380.0C258.0 372.3 262.0 371.9 265.0 366.2C268.0 360.5 265.2 363.0 261.2 358.7C257.2 354.4 257.0 353.7 250.0 350.0C243.0 346.3 245.7 348.3 235.0 345.0C224.3 341.7 217.7 341.5 210.0 337.5C202.3 333.5 206.2 334.7 206.2 330.0C206.2 325.3 206.7 325.3 210.0 320.0C213.3 314.7 213.4 315.3 218.7 310.0C224.0 304.7 223.7 306.0 230.0 300.0C236.3 294.0 235.8 293.2 242.5 287.5C249.2 281.8 247.7 282.7 255.0 278.7C262.3 274.7 264.0 275.5 270.0 272.5C276.0 269.5 274.5 270.5 277.5 267.5C280.5 264.5 280.9 264.2 281.2 261.2C281.5 258.2 282.2 257.9 278.7 256.2C275.2 254.5 273.0 255.2 268.0 255.0C263.0 254.8 266.1 255.2 260.0 255.5C253.9 255.8 254.3 255.0 245.0 256.2C235.7 257.4 233.7 257.3 225.0 260.0C216.3 262.7 218.5 262.2 212.5 266.2C206.5 270.2 207.2 271.5 202.5 275.0C197.8 278.5 198.2 276.7 195.0 279.5C191.8 282.3 192.5 282.3 190.5 285.5C188.5 288.7 189.9 288.7 187.5 291.5C185.1 294.3 184.7 292.8 181.5 296.0C178.3 299.2 178.1 299.9 175.5 303.5C172.9 307.1 174.5 305.1 171.7 309.5C168.9 313.9 167.6 314.9 165.0 320.0C162.4 325.1 163.1 323.0 161.9 328.7C160.7 334.4 161.8 335.5 160.6 341.2C159.4 346.9 159.5 344.7 157.5 350.0C155.5 355.3 154.3 358.2 153.1 361.2"/>
<path d="M676.0 205.0C672.4 205.3 666.4 204.5 662.5 206.2C658.6 207.9 659.9 207.2 661.2 211.2C662.5 215.2 665.2 216.2 667.5 221.2C669.8 226.2 670.0 225.7 670.0 230.0C670.0 234.3 670.2 234.3 667.5 237.5C664.8 240.7 666.0 240.0 660.0 242.0C654.0 244.0 653.0 243.9 645.0 245.0C637.0 246.1 638.3 245.9 630.0 246.2C621.7 246.5 623.0 245.9 613.7 246.2C604.4 246.5 605.3 246.5 595.0 247.5C584.7 248.5 587.7 248.3 575.0 250.0C562.3 251.7 560.8 251.6 547.5 253.7C534.2 255.8 533.7 255.7 525.0 258.0C516.3 260.3 520.3 259.6 515.0 262.5C509.7 265.4 509.3 264.4 505.0 268.7C500.7 273.0 500.7 273.7 498.7 278.7C496.7 283.7 497.2 282.8 497.5 287.5C497.8 292.2 497.3 292.2 500.0 296.2C502.7 300.2 502.5 300.2 507.5 302.5C512.5 304.8 514.0 304.3 518.7 305.0C523.4 305.7 516.7 305.0 525.0 305.3C533.3 305.6 538.0 305.1 550.0 306.2C562.0 307.3 558.7 307.3 570.0 309.5C581.3 311.7 585.2 312.2 592.5 314.5C599.8 316.8 597.5 315.2 597.5 318.0C597.5 320.8 594.6 320.1 592.5 325.0C590.4 329.9 590.3 329.5 589.5 336.2C588.7 342.9 588.4 344.3 589.5 350.0C590.6 355.7 589.6 353.8 593.7 357.5C597.8 361.2 598.0 359.4 605.0 363.7C612.0 368.0 612.0 369.4 620.0 373.7C628.0 378.0 627.7 377.8 635.0 380.0C642.3 382.2 640.5 381.5 647.5 382.0C654.5 382.5 653.6 383.5 661.2 382.0C668.8 380.5 672.1 377.7 676.0 376.2"/>
<rect x="264.0" y="249.0" width="8" height="12" fill="#fff" stroke="none"/>
<ellipse cx="268.0" cy="255.0" rx="2.1" ry="3.7" stroke-width="1"/>
<rect x="436.5" y="219.0" width="8" height="12" fill="#fff" stroke="none"/>
<ellipse cx="440.5" cy="225.0" rx="2.1" ry="3.7" stroke-width="1"/>
<rect x="426.5" y="268.5" width="8" height="12" fill="#fff" stroke="none"/>
<ellipse cx="430.5" cy="274.5" rx="2.1" ry="3.7" stroke-width="1"/>
<rect x="599.3" y="163.5" width="8" height="12" fill="#fff" stroke="none"/>
<ellipse cx="603.3" cy="169.5" rx="2.1" ry="3.7" stroke-width="1"/>
<rect x="609.7" y="240.2" width="8" height="12" fill="#fff" stroke="none"/>
<ellipse cx="613.7" cy="246.2" rx="2.1" ry="3.7" stroke-width="1"/>
<rect x="316.0" y="330.2" width="8" height="12" fill="#fff" stroke="none"/>
<ellipse cx="320.0" cy="336.2" rx="2.1" ry="3.7" stroke-width="1"/>
<rect x="206.5" y="463.5" width="8" height="12" fill="#fff" stroke="none"/>
<ellipse cx="210.5" cy="469.5" rx="2.1" ry="3.7" stroke-width="1"/>
</g>
<g id="grid" stroke="#aaa" stroke-width="1" stroke-dasharray="2 4.6" fill="none">
<path d="M194.5 55V564M265.5 55V564M336.5 55V564M407.5 55V564M477.5 55V564M548.5 55V564M619.5 55V564"/>
<path d="M124 106.5H675M124 191.5H675M124 276.5H675M124 360.5H675M124 445.5H675M124 530.5H675"/>
</g>
<g id="coast" fill="none" stroke="#000" stroke-width="3.4" stroke-linejoin="round" stroke-linecap="round">
<path d="M122 143L125 144.5L132.5 148.7L142.5 149.5L150 152.5L165 152L162 146.2L170 136.2L182.5 143L187.5 142.5L193.7 135L207.5 130L217.5 126.2L223.7 121.2L237.5 116.2L243.7 118L252.5 116.2L261.2 120L269 120.5L278 125L286.5 133.7L289.5 139L289.5 152.5L283.5 155.5L285 161.5L288 165.2L292.5 166.7L288.7 171.2L287.2 179.5L287.2 190L285 199L283.5 210L280.7 216.7L275.5 222L261.5 222.9L247.5 225.1L233.5 225.8L221.2 227.2L214.2 227.2L209 228.1L191.5 235.1L195 240.4L211.6 230.7L214.2 227.2"/>
<path d="M352 54L336.5 66.5L326 74L317 80L300.5 89.3L292.2 96.5L281 107.7L280.2 110L284 116L289.2 110.7L294.5 116L300.5 113L302 120.5L302.2 130L301.5 139L297.7 146.5L295.5 152.5L289.5 154"/>
<path d="M284 54L282.5 72.5L279.5 77.7L280.2 93.5L282.5 98L290.7 98.7"/>
<path d="M291.5 54L291.5 71L297.5 78.5L299 87.5L300.5 89.3"/>
<path d="M317 78.5L311.7 74.7L309.2 71L311.7 65.7L320 61.7L324.2 64.7L326 59L328.2 56.3L330.5 57.5L330.2 60.8"/>
<path d="M189.7 188.7L181 196.6L176.6 204.5L179.2 213.2L185.4 219.4L187.1 226.4L184.5 231.6L172.5 235.2L168 242L165 249.5L168 252.5L175.5 251L181.5 246.5L180 240.5L187.5 241.2L192 245L190.5 249.5L186 251.7L187.5 247.2L181.5 244.2"/>
<path d="M189.7 188.7L195 191.4L205.5 193.1L210.7 197.5L203.7 201L201.1 207.1L202 215.9L212.5 219.4L216 221.1L214.2 227.2"/>
<path d="M186 251.7L165 257.7L161.2 264.5L159 281L162 276.5L172.5 266L184.5 257.7L182.2 259.2L175.5 273.5L169.5 278L160.5 284L155.2 291.5L152.2 302L144.7 305L143.1 307.5L141.9 313.7L143.7 318.7L145.6 323.7L147.5 330L142.5 335L144.4 338.7L146.2 347.5L147.5 356.2L147.5 362.5L145.6 367.5L143 376.9L139.6 385.4L135.4 394.7L135.4 403.2L137.1 404.9L133.7 411.7L135.4 417.6L136.2 432.1L138.8 437.2L137.1 443.1L131.1 453.3L125.2 460.1L121 464"/>
<path d="M121 404.4L137.1 403.2"/>

</g>
</g>
<rect x="124" y="55" width="551" height="509" fill="none" stroke="#000" stroke-width="2"/>
<g opacity="0.999">
<!-- ticks -->
<g stroke="#000" stroke-width="1.2">
<path d="M120 106.5H124M120 191.5H124M120 276.5H124M120 360.5H124M120 445.5H124M120 530.5H124"/>
<path d="M124.5 564V568.5M194.5 564V568.5M265.5 564V568.5M336.5 564V568.5M406.5 564V568.5M477.5 564V568.5M548.5 564V568.5M619.5 564V568.5"/>
</g>
<g class="tick" text-anchor="end">
<text x="117" y="111">45.5</text>
<text x="117" y="196">45</text>
<text x="117" y="281">44.5</text>
<text x="117" y="365">44</text>
<text x="117" y="450">43.5</text>
<text x="117" y="535">43</text>
</g>
<g class="tick" text-anchor="middle">
<text x="124" y="580">28.5</text>
<text x="194.5" y="580">29</text>
<text x="265.5" y="580">29.5</text>
<text x="336.5" y="580">30</text>
<text x="406.5" y="580">30.5</text>
<text x="477.5" y="580">31</text>
<text x="548.5" y="580">31.5</text>
<text x="619.5" y="580">32</text>
</g>
<g class="ttl">
<text x="61" y="42" textLength="39.5">Sea</text>
<text x="114" y="42" textLength="57">Level</text>
<text x="185" y="42" textLength="58.5">(cm).</text>
<text x="260.5" y="42" textLength="49.5">Date</text>
<text x="325" y="42" textLength="136">2019.04.05.</text>
<text x="475" y="42" textLength="50.5">Time</text>
<text x="540" y="42" textLength="141">00(h):00(m)</text>
<text x="696" y="42" textLength="44" lengthAdjust="spacingAndGlyphs">GMT</text>
</g>
<g class="axl"><text x="323.5" y="605" textLength="86">Langitude</text><text x="421.5" y="605" textLength="54.5">(East)</text></g>
<g class="axl" transform="translate(81.5,383) rotate(-90)"><text x="0" y="0" textLength="71.5">Latitude</text><text x="83" y="0" textLength="62.5">(North)</text></g>
<g fill="none" stroke="#2a2a2a" stroke-width="1.1" stroke-linecap="round" stroke-linejoin="round">
<path d="M147 96.5H158L147 109.5H158"/>
<path d="M176 102H189.5M176 105.6H189.5"/>
<path d="M207.3 99.6C207.5 97.6 209.5 96.4 212 96.4C215 96.4 217.2 97.8 217.2 100C217.2 101.8 216 103 214 104.5L206.8 109.5H217.8"/>
<path d="M223.3 108.6V109.5"/>
<path d="M239 96.4H230.6L229.6 102.2C231 101 233 100.5 235 100.6C238.3 100.7 240.3 102.4 240.3 105C240.3 107.8 238 109.6 234.6 109.6C232 109.6 230 108.6 229 106.8"/>
<path d="M256.8 100.6V109.5M256.8 103.2C258 101.2 259.6 100.5 261.5 100.6C264 100.7 265.6 102 265.6 104.6V109.5M265.6 103.4C267 101.2 268.6 100.5 270.5 100.6C273 100.7 274.6 102 274.6 104.6V109.5"/>
</g>
<!-- colorbar -->
<g shape-rendering="crispEdges"><rect x="708" y="61.00" width="16" height="8.30" fill="rgb(136,0,0)"/><rect x="708" y="69.00" width="16" height="8.30" fill="rgb(152,0,0)"/><rect x="708" y="77.00" width="16" height="8.30" fill="rgb(169,0,0)"/><rect x="708" y="85.00" width="16" height="8.30" fill="rgb(185,0,0)"/><rect x="708" y="93.00" width="16" height="8.30" fill="rgb(202,0,0)"/><rect x="708" y="101.00" width="16" height="8.30" fill="rgb(218,0,0)"/><rect x="708" y="109.00" width="16" height="8.30" fill="rgb(234,0,0)"/><rect x="708" y="117.00" width="16" height="8.30" fill="rgb(251,0,0)"/><rect x="708" y="125.00" width="16" height="8.30" fill="rgb(255,12,0)"/><rect x="708" y="133.00" width="16" height="8.30" fill="rgb(255,29,0)"/><rect x="708" y="141.00" width="16" height="8.30" fill="rgb(255,45,0)"/><rect x="708" y="149.00" width="16" height="8.30" fill="rgb(255,62,0)"/><rect x="708" y="157.00" width="16" height="8.30" fill="rgb(255,78,0)"/><rect x="708" y="165.00" width="16" height="8.30" fill="rgb(255,95,0)"/><rect x="708" y="173.00" width="16" height="8.30" fill="rgb(255,111,0)"/><rect x="708" y="181.00" width="16" height="8.30" fill="rgb(255,128,0)"/><rect x="708" y="189.00" width="16" height="8.30" fill="rgb(255,144,0)"/><rect x="708" y="197.00" width="16" height="8.30" fill="rgb(255,160,0)"/><rect x="708" y="205.00" width="16" height="8.30" fill="rgb(255,177,0)"/><rect x="708" y="213.00" width="16" height="8.30" fill="rgb(255,193,0)"/><rect x="708" y="221.00" width="16" height="8.30" fill="rgb(255,210,0)"/><rect x="708" y="229.00" width="16" height="8.30" fill="rgb(255,226,0)"/><rect x="708" y="237.00" width="16" height="8.30" fill="rgb(255,243,0)"/><rect x="708" y="245.00" width="16" height="8.30" fill="rgb(251,255,4)"/><rect x="708" y="253.00" width="16" height="8.30" fill="rgb(234,255,21)"/><rect x="708" y="261.00" width="16" height="8.30" fill="rgb(218,255,37)"/><rect x="708" y="269.00" width="16" height="8.30" fill="rgb(202,255,53)"/><rect x="708" y="277.00" width="16" height="8.30" fill="rgb(185,255,70)"/><rect x="708" y="285.00" width="16" height="8.30" fill="rgb(169,255,86)"/><rect x="708" y="293.00" width="16" height="8.30" fill="rgb(152,255,103)"/><rect x="708" y="301.00" width="16" height="8.30" fill="rgb(136,255,119)"/><rect x="708" y="309.00" width="16" height="8.30" fill="rgb(119,255,136)"/><rect x="708" y="317.00" width="16" height="8.30" fill="rgb(103,255,152)"/><rect x="708" y="325.00" width="16" height="8.30" fill="rgb(86,255,169)"/><rect x="708" y="333.00" width="16" height="8.30" fill="rgb(70,255,185)"/><rect x="708" y="341.00" width="16" height="8.30" fill="rgb(53,255,202)"/><rect x="708" y="349.00" width="16" height="8.30" fill="rgb(37,255,218)"/><rect x="708" y="357.00" width="16" height="8.30" fill="rgb(21,255,234)"/><rect x="708" y="365.00" width="16" height="8.30" fill="rgb(4,255,251)"/><rect x="708" y="373.00" width="16" height="8.30" fill="rgb(0,243,255)"/><rect x="708" y="381.00" width="16" height="8.30" fill="rgb(0,226,255)"/><rect x="708" y="389.00" width="16" height="8.30" fill="rgb(0,210,255)"/><rect x="708" y="397.00" width="16" height="8.30" fill="rgb(0,193,255)"/><rect x="708" y="405.00" width="16" height="8.30" fill="rgb(0,177,255)"/><rect x="708" y="413.00" width="16" height="8.30" fill="rgb(0,160,255)"/><rect x="708" y="421.00" width="16" height="8.30" fill="rgb(0,144,255)"/><rect x="708" y="429.00" width="16" height="8.30" fill="rgb(0,128,255)"/><rect x="708" y="437.00" width="16" height="8.30" fill="rgb(0,111,255)"/><rect x="708" y="445.00" width="16" height="8.30" fill="rgb(0,95,255)"/><rect x="708" y="453.00" width="16" height="8.30" fill="rgb(0,78,255)"/><rect x="708" y="461.00" width="16" height="8.30" fill="rgb(0,62,255)"/><rect x="708" y="469.00" width="16" height="8.30" fill="rgb(0,45,255)"/><rect x="708" y="477.00" width="16" height="8.30" fill="rgb(0,29,255)"/><rect x="708" y="485.00" width="16" height="8.30" fill="rgb(0,12,255)"/><rect x="708" y="493.00" width="16" height="8.30" fill="rgb(0,0,251)"/><rect x="708" y="501.00" width="16" height="8.30" fill="rgb(0,0,234)"/><rect x="708" y="509.00" width="16" height="8.30" fill="rgb(0,0,218)"/><rect x="708" y="517.00" width="16" height="8.30" fill="rgb(0,0,202)"/><rect x="708" y="525.00" width="16" height="8.30" fill="rgb(0,0,185)"/><rect x="708" y="533.00" width="16" height="8.30" fill="rgb(0,0,169)"/><rect x="708" y="541.00" width="16" height="8.30" fill="rgb(0,0,152)"/><rect x="708" y="549.00" width="16" height="8.30" fill="rgb(0,0,136)"/></g>
<g class="cbl">
<text x="734.5" y="74" textLength="30" lengthAdjust="spacingAndGlyphs">0.04</text>
<text x="736" y="190" textLength="30.5" lengthAdjust="spacingAndGlyphs">−0.0</text>
<text x="736" y="311.5" textLength="30.5" lengthAdjust="spacingAndGlyphs">−0.0</text>
<text x="736" y="433.5" textLength="29" lengthAdjust="spacingAndGlyphs">−0.1</text>
<text x="736" y="556" textLength="29" lengthAdjust="spacingAndGlyphs">−0.1</text>
</g>
</g>
</svg>
</body>
</html>
